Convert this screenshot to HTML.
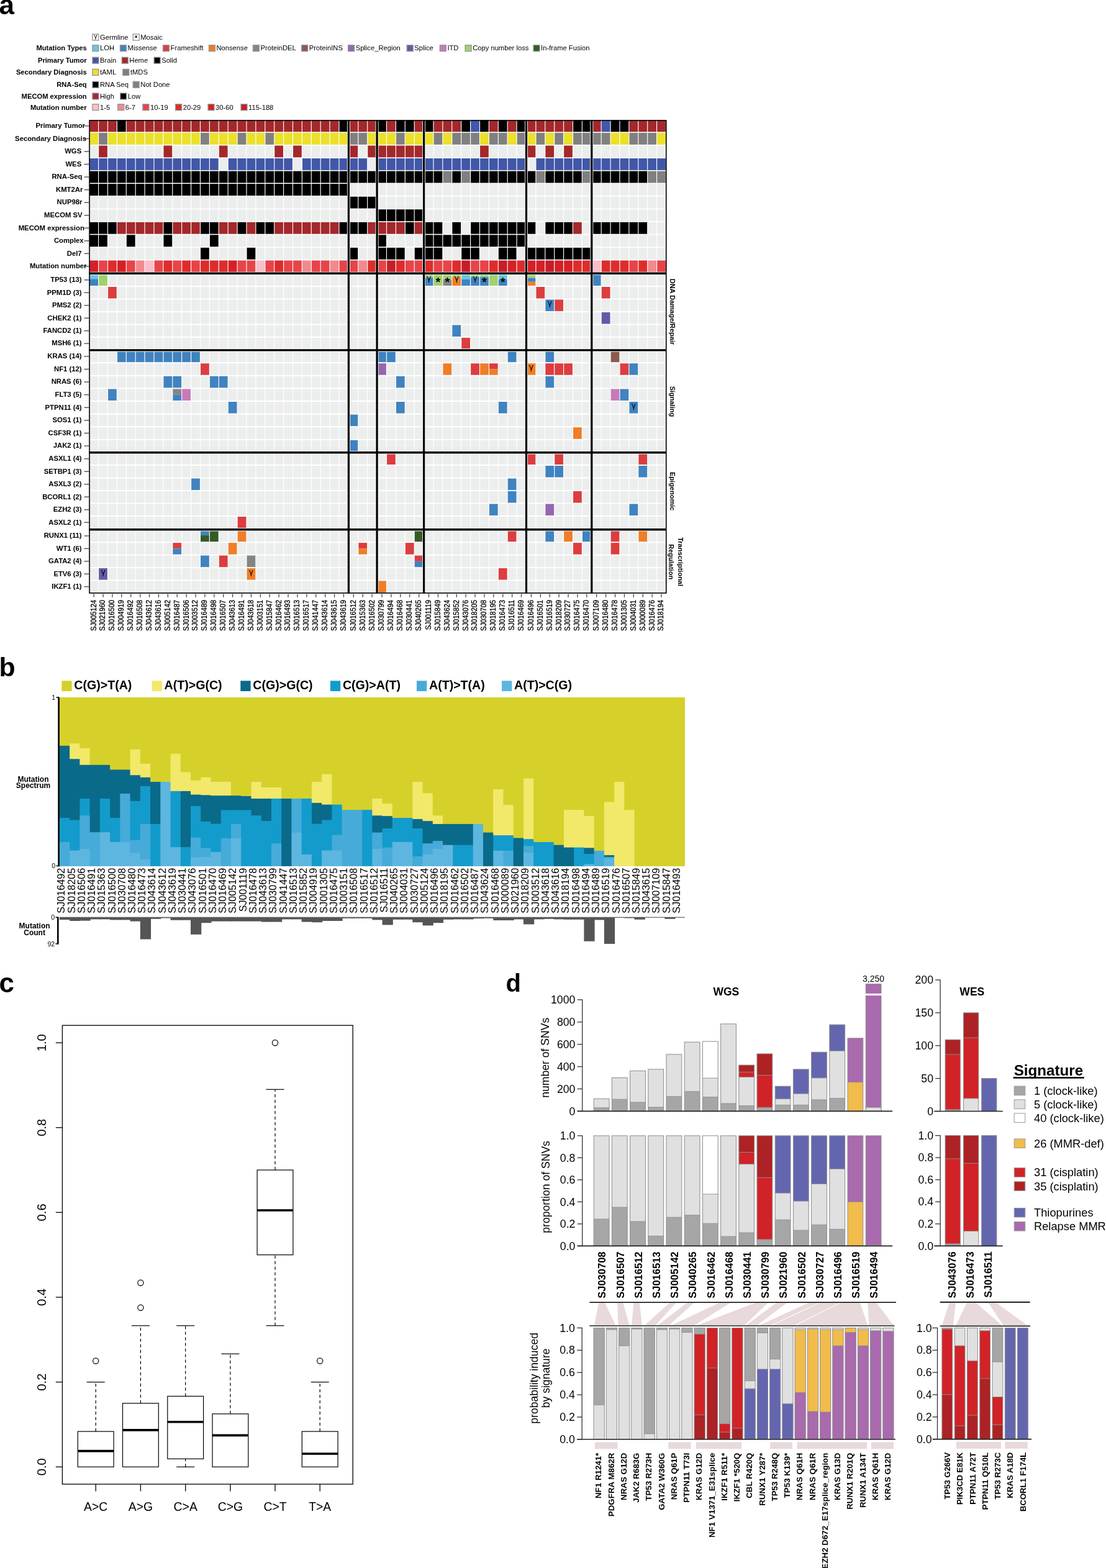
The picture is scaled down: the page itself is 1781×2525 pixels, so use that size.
<!DOCTYPE html>
<html><head><meta charset="utf-8"><title>Figure</title>
<style>html,body{margin:0;padding:0;background:#fff;} svg{display:block;}</style></head>
<body>
<svg width="1781" height="2525" viewBox="0 0 1781 2525" font-family="'Liberation Sans', Arial, Helvetica, sans-serif">
<rect width="1781" height="2525" fill="#fff"/>
<rect x="148.9" y="55" width="10.0" height="10.0" fill="#fff" stroke="#999" stroke-width="1.35"/><text x="153.9" y="62.2" font-size="10" text-anchor="middle" font-family="DejaVu Sans, sans-serif">γ</text>
<text x="161" y="63.8" font-size="11.2" text-anchor="start" font-family="'Liberation Sans', Arial, Helvetica, sans-serif">Germline</text>
<rect x="214.2" y="55" width="10.0" height="10.0" fill="#fff" stroke="#999" stroke-width="1.35"/><text x="219.2" y="65.4" font-size="11" font-weight="bold" text-anchor="middle" font-family="'Liberation Sans', Arial, Helvetica, sans-serif">*</text>
<text x="226.3" y="63.8" font-size="11.2" text-anchor="start" font-family="'Liberation Sans', Arial, Helvetica, sans-serif">Mosaic</text>
<text x="139.7" y="81.4" font-size="11.2" font-weight="bold" text-anchor="end" font-family="'Liberation Sans', Arial, Helvetica, sans-serif">Mutation Types</text>
<rect x="148.9" y="72.6" width="10.0" height="10.0" fill="#6ac5dc" stroke="#999" stroke-width="1.35"/>
<text x="161" y="81.4" font-size="11.2" text-anchor="start" font-family="'Liberation Sans', Arial, Helvetica, sans-serif">LOH</text>
<rect x="193.5" y="72.6" width="10.0" height="10.0" fill="#3f83c0" stroke="#999" stroke-width="1.35"/>
<text x="205.6" y="81.4" font-size="11.2" text-anchor="start" font-family="'Liberation Sans', Arial, Helvetica, sans-serif">Missense</text>
<rect x="262.5" y="72.6" width="10.0" height="10.0" fill="#dc3d3f" stroke="#999" stroke-width="1.35"/>
<text x="274.6" y="81.4" font-size="11.2" text-anchor="start" font-family="'Liberation Sans', Arial, Helvetica, sans-serif">Frameshift</text>
<rect x="336.4" y="72.6" width="10.0" height="10.0" fill="#ee7e27" stroke="#999" stroke-width="1.35"/>
<text x="348.5" y="81.4" font-size="11.2" text-anchor="start" font-family="'Liberation Sans', Arial, Helvetica, sans-serif">Nonsense</text>
<rect x="407.4" y="72.6" width="10.0" height="10.0" fill="#858585" stroke="#999" stroke-width="1.35"/>
<text x="419.5" y="81.4" font-size="11.2" text-anchor="start" font-family="'Liberation Sans', Arial, Helvetica, sans-serif">ProteinDEL</text>
<rect x="485.7" y="72.6" width="10.0" height="10.0" fill="#8c5a4e" stroke="#999" stroke-width="1.35"/>
<text x="497.8" y="81.4" font-size="11.2" text-anchor="start" font-family="'Liberation Sans', Arial, Helvetica, sans-serif">ProteinINS</text>
<rect x="560.6" y="72.6" width="10.0" height="10.0" fill="#9467b0" stroke="#999" stroke-width="1.35"/>
<text x="572.7" y="81.4" font-size="11.2" text-anchor="start" font-family="'Liberation Sans', Arial, Helvetica, sans-serif">Splice_Region</text>
<rect x="655.2" y="72.6" width="10.0" height="10.0" fill="#6459a8" stroke="#999" stroke-width="1.35"/>
<text x="667.3" y="81.4" font-size="11.2" text-anchor="start" font-family="'Liberation Sans', Arial, Helvetica, sans-serif">Splice</text>
<rect x="708.3" y="72.6" width="10.0" height="10.0" fill="#c87ab8" stroke="#999" stroke-width="1.35"/>
<text x="720.4" y="81.4" font-size="11.2" text-anchor="start" font-family="'Liberation Sans', Arial, Helvetica, sans-serif">ITD</text>
<rect x="749.1" y="72.6" width="10.0" height="10.0" fill="#a3d06b" stroke="#999" stroke-width="1.35"/>
<text x="761.2" y="81.4" font-size="11.2" text-anchor="start" font-family="'Liberation Sans', Arial, Helvetica, sans-serif">Copy number loss</text>
<rect x="859" y="72.6" width="10.0" height="10.0" fill="#355a26" stroke="#999" stroke-width="1.35"/>
<text x="871.1" y="81.4" font-size="11.2" text-anchor="start" font-family="'Liberation Sans', Arial, Helvetica, sans-serif">In-frame Fusion</text>
<text x="139.7" y="101" font-size="11.2" font-weight="bold" text-anchor="end" font-family="'Liberation Sans', Arial, Helvetica, sans-serif">Primary Tumor</text>
<rect x="148.9" y="92.2" width="10.0" height="10.0" fill="#4157a8" stroke="#999" stroke-width="1.35"/>
<text x="161" y="101" font-size="11.2" text-anchor="start" font-family="'Liberation Sans', Arial, Helvetica, sans-serif">Brain</text>
<rect x="196.2" y="92.2" width="10.0" height="10.0" fill="#a4282b" stroke="#999" stroke-width="1.35"/>
<text x="208.3" y="101" font-size="11.2" text-anchor="start" font-family="'Liberation Sans', Arial, Helvetica, sans-serif">Heme</text>
<rect x="248.1" y="92.2" width="10.0" height="10.0" fill="#000" stroke="#999" stroke-width="1.35"/>
<text x="260.2" y="101" font-size="11.2" text-anchor="start" font-family="'Liberation Sans', Arial, Helvetica, sans-serif">Solid</text>
<text x="139.7" y="120.2" font-size="11.2" font-weight="bold" text-anchor="end" font-family="'Liberation Sans', Arial, Helvetica, sans-serif">Secondary Diagnosis</text>
<rect x="148.9" y="111.4" width="10.0" height="10.0" fill="#ebe02a" stroke="#999" stroke-width="1.35"/>
<text x="161" y="120.2" font-size="11.2" text-anchor="start" font-family="'Liberation Sans', Arial, Helvetica, sans-serif">tAML</text>
<rect x="197.8" y="111.4" width="10.0" height="10.0" fill="#808080" stroke="#999" stroke-width="1.35"/>
<text x="209.9" y="120.2" font-size="11.2" text-anchor="start" font-family="'Liberation Sans', Arial, Helvetica, sans-serif">tMDS</text>
<text x="139.7" y="140.1" font-size="11.2" font-weight="bold" text-anchor="end" font-family="'Liberation Sans', Arial, Helvetica, sans-serif">RNA-Seq</text>
<rect x="148.9" y="131.3" width="10.0" height="10.0" fill="#000" stroke="#999" stroke-width="1.35"/>
<text x="161" y="140.1" font-size="11.2" text-anchor="start" font-family="'Liberation Sans', Arial, Helvetica, sans-serif">RNA Seq</text>
<rect x="214.2" y="131.3" width="10.0" height="10.0" fill="#808080" stroke="#999" stroke-width="1.35"/>
<text x="226.3" y="140.1" font-size="11.2" text-anchor="start" font-family="'Liberation Sans', Arial, Helvetica, sans-serif">Not Done</text>
<text x="139.7" y="158.8" font-size="11.2" font-weight="bold" text-anchor="end" font-family="'Liberation Sans', Arial, Helvetica, sans-serif">MECOM expression</text>
<rect x="148.9" y="150" width="10.0" height="10.0" fill="#a4282b" stroke="#999" stroke-width="1.35"/>
<text x="161" y="158.8" font-size="11.2" text-anchor="start" font-family="'Liberation Sans', Arial, Helvetica, sans-serif">High</text>
<rect x="193.7" y="150" width="10.0" height="10.0" fill="#000" stroke="#999" stroke-width="1.35"/>
<text x="205.8" y="158.8" font-size="11.2" text-anchor="start" font-family="'Liberation Sans', Arial, Helvetica, sans-serif">Low</text>
<text x="139.7" y="176.5" font-size="11.2" font-weight="bold" text-anchor="end" font-family="'Liberation Sans', Arial, Helvetica, sans-serif">Mutation number</text>
<rect x="148.9" y="167.7" width="10.0" height="10.0" fill="#f7bfca" stroke="#999" stroke-width="1.35"/>
<text x="161" y="176.5" font-size="11.2" text-anchor="start" font-family="'Liberation Sans', Arial, Helvetica, sans-serif">1-5</text>
<rect x="189.7" y="167.7" width="10.0" height="10.0" fill="#f08a8e" stroke="#999" stroke-width="1.35"/>
<text x="201.8" y="176.5" font-size="11.2" text-anchor="start" font-family="'Liberation Sans', Arial, Helvetica, sans-serif">6-7</text>
<rect x="229.9" y="167.7" width="10.0" height="10.0" fill="#e6444a" stroke="#999" stroke-width="1.35"/>
<text x="242" y="176.5" font-size="11.2" text-anchor="start" font-family="'Liberation Sans', Arial, Helvetica, sans-serif">10-19</text>
<rect x="282.6" y="167.7" width="10.0" height="10.0" fill="#dc2d2b" stroke="#999" stroke-width="1.35"/>
<text x="294.7" y="176.5" font-size="11.2" text-anchor="start" font-family="'Liberation Sans', Arial, Helvetica, sans-serif">20-29</text>
<rect x="335" y="167.7" width="10.0" height="10.0" fill="#d42027" stroke="#999" stroke-width="1.35"/>
<text x="347.1" y="176.5" font-size="11.2" text-anchor="start" font-family="'Liberation Sans', Arial, Helvetica, sans-serif">30-60</text>
<rect x="388" y="167.7" width="10.0" height="10.0" fill="#c41e2a" stroke="#999" stroke-width="1.35"/>
<text x="400.1" y="176.5" font-size="11.2" text-anchor="start" font-family="'Liberation Sans', Arial, Helvetica, sans-serif">115-188</text>
<rect x="143.3" y="193.4" width="929.6" height="761.8" fill="#fff"/>
<rect x="144.25" y="193.35" width="13.75" height="18.95" fill="#a4282b"/>
<rect x="159.15" y="193.35" width="13.75" height="18.95" fill="#a4282b"/>
<rect x="174.05" y="193.35" width="13.75" height="18.95" fill="#a4282b"/>
<rect x="188.95" y="193.35" width="13.75" height="18.95" fill="#000000"/>
<rect x="203.85" y="193.35" width="13.75" height="18.95" fill="#a4282b"/>
<rect x="218.75" y="193.35" width="13.75" height="18.95" fill="#a4282b"/>
<rect x="233.65" y="193.35" width="13.75" height="18.95" fill="#a4282b"/>
<rect x="248.55" y="193.35" width="13.75" height="18.95" fill="#a4282b"/>
<rect x="263.45" y="193.35" width="13.75" height="18.95" fill="#a4282b"/>
<rect x="278.35" y="193.35" width="13.75" height="18.95" fill="#a4282b"/>
<rect x="293.25" y="193.35" width="13.75" height="18.95" fill="#a4282b"/>
<rect x="308.15" y="193.35" width="13.75" height="18.95" fill="#a4282b"/>
<rect x="323.05" y="193.35" width="13.75" height="18.95" fill="#a4282b"/>
<rect x="337.95" y="193.35" width="13.75" height="18.95" fill="#a4282b"/>
<rect x="352.85" y="193.35" width="13.75" height="18.95" fill="#a4282b"/>
<rect x="367.75" y="193.35" width="13.75" height="18.95" fill="#a4282b"/>
<rect x="382.65" y="193.35" width="13.75" height="18.95" fill="#a4282b"/>
<rect x="397.55" y="193.35" width="13.75" height="18.95" fill="#a4282b"/>
<rect x="412.45" y="193.35" width="13.75" height="18.95" fill="#a4282b"/>
<rect x="427.35" y="193.35" width="13.75" height="18.95" fill="#a4282b"/>
<rect x="442.25" y="193.35" width="13.75" height="18.95" fill="#a4282b"/>
<rect x="457.15" y="193.35" width="13.75" height="18.95" fill="#a4282b"/>
<rect x="472.05" y="193.35" width="13.75" height="18.95" fill="#a4282b"/>
<rect x="486.95" y="193.35" width="13.75" height="18.95" fill="#a4282b"/>
<rect x="501.85" y="193.35" width="13.75" height="18.95" fill="#a4282b"/>
<rect x="516.75" y="193.35" width="13.75" height="18.95" fill="#a4282b"/>
<rect x="531.65" y="193.35" width="13.75" height="18.95" fill="#a4282b"/>
<rect x="546.55" y="193.35" width="13.75" height="18.95" fill="#000000"/>
<rect x="562.45" y="193.35" width="13.75" height="18.95" fill="#a4282b"/>
<rect x="577.35" y="193.35" width="13.75" height="18.95" fill="#a4282b"/>
<rect x="592.25" y="193.35" width="13.75" height="18.95" fill="#a4282b"/>
<rect x="608.15" y="193.35" width="13.75" height="18.95" fill="#000000"/>
<rect x="623.05" y="193.35" width="13.75" height="18.95" fill="#a4282b"/>
<rect x="637.95" y="193.35" width="13.75" height="18.95" fill="#000000"/>
<rect x="652.85" y="193.35" width="13.75" height="18.95" fill="#000000"/>
<rect x="667.75" y="193.35" width="13.75" height="18.95" fill="#a4282b"/>
<rect x="683.65" y="193.35" width="13.75" height="18.95" fill="#000000"/>
<rect x="698.55" y="193.35" width="13.75" height="18.95" fill="#a4282b"/>
<rect x="713.45" y="193.35" width="13.75" height="18.95" fill="#a4282b"/>
<rect x="728.35" y="193.35" width="13.75" height="18.95" fill="#a4282b"/>
<rect x="743.25" y="193.35" width="13.75" height="18.95" fill="#000000"/>
<rect x="758.15" y="193.35" width="13.75" height="18.95" fill="#4157a8"/>
<rect x="773.05" y="193.35" width="13.75" height="18.95" fill="#000000"/>
<rect x="787.95" y="193.35" width="13.75" height="18.95" fill="#a4282b"/>
<rect x="802.85" y="193.35" width="13.75" height="18.95" fill="#000000"/>
<rect x="817.75" y="193.35" width="13.75" height="18.95" fill="#a4282b"/>
<rect x="832.65" y="193.35" width="13.75" height="18.95" fill="#000000"/>
<rect x="848.55" y="193.35" width="13.75" height="18.95" fill="#a4282b"/>
<rect x="863.45" y="193.35" width="13.75" height="18.95" fill="#a4282b"/>
<rect x="878.35" y="193.35" width="13.75" height="18.95" fill="#a4282b"/>
<rect x="893.25" y="193.35" width="13.75" height="18.95" fill="#a4282b"/>
<rect x="908.15" y="193.35" width="13.75" height="18.95" fill="#a4282b"/>
<rect x="923.05" y="193.35" width="13.75" height="18.95" fill="#000000"/>
<rect x="937.95" y="193.35" width="13.75" height="18.95" fill="#000000"/>
<rect x="953.85" y="193.35" width="13.75" height="18.95" fill="#a4282b"/>
<rect x="968.75" y="193.35" width="13.75" height="18.95" fill="#4157a8"/>
<rect x="983.65" y="193.35" width="13.75" height="18.95" fill="#000000"/>
<rect x="998.55" y="193.35" width="13.75" height="18.95" fill="#000000"/>
<rect x="1013.45" y="193.35" width="13.75" height="18.95" fill="#a4282b"/>
<rect x="1028.35" y="193.35" width="13.75" height="18.95" fill="#a4282b"/>
<rect x="1043.25" y="193.35" width="13.75" height="18.95" fill="#a4282b"/>
<rect x="1058.15" y="193.35" width="13.75" height="18.95" fill="#a4282b"/>
<rect x="144.25" y="213.9" width="13.75" height="18.95" fill="#ebe02a"/>
<rect x="159.15" y="213.9" width="13.75" height="18.95" fill="#808080"/>
<rect x="174.05" y="213.9" width="13.75" height="18.95" fill="#ebe02a"/>
<rect x="188.95" y="213.9" width="13.75" height="18.95" fill="#ebe02a"/>
<rect x="203.85" y="213.9" width="13.75" height="18.95" fill="#ebe02a"/>
<rect x="218.75" y="213.9" width="13.75" height="18.95" fill="#ebe02a"/>
<rect x="233.65" y="213.9" width="13.75" height="18.95" fill="#ebe02a"/>
<rect x="248.55" y="213.9" width="13.75" height="18.95" fill="#ebe02a"/>
<rect x="263.45" y="213.9" width="13.75" height="18.95" fill="#ebe02a"/>
<rect x="278.35" y="213.9" width="13.75" height="18.95" fill="#ebe02a"/>
<rect x="293.25" y="213.9" width="13.75" height="18.95" fill="#ebe02a"/>
<rect x="308.15" y="213.9" width="13.75" height="18.95" fill="#ebe02a"/>
<rect x="323.05" y="213.9" width="13.75" height="18.95" fill="#808080"/>
<rect x="337.95" y="213.9" width="13.75" height="18.95" fill="#ebe02a"/>
<rect x="352.85" y="213.9" width="13.75" height="18.95" fill="#ebe02a"/>
<rect x="367.75" y="213.9" width="13.75" height="18.95" fill="#ebe02a"/>
<rect x="382.65" y="213.9" width="13.75" height="18.95" fill="#808080"/>
<rect x="397.55" y="213.9" width="13.75" height="18.95" fill="#ebe02a"/>
<rect x="412.45" y="213.9" width="13.75" height="18.95" fill="#ebe02a"/>
<rect x="427.35" y="213.9" width="13.75" height="18.95" fill="#808080"/>
<rect x="442.25" y="213.9" width="13.75" height="18.95" fill="#ebe02a"/>
<rect x="457.15" y="213.9" width="13.75" height="18.95" fill="#ebe02a"/>
<rect x="472.05" y="213.9" width="13.75" height="18.95" fill="#ebe02a"/>
<rect x="486.95" y="213.9" width="13.75" height="18.95" fill="#ebe02a"/>
<rect x="501.85" y="213.9" width="13.75" height="18.95" fill="#ebe02a"/>
<rect x="516.75" y="213.9" width="13.75" height="18.95" fill="#ebe02a"/>
<rect x="531.65" y="213.9" width="13.75" height="18.95" fill="#ebe02a"/>
<rect x="546.55" y="213.9" width="13.75" height="18.95" fill="#ebe02a"/>
<rect x="562.45" y="213.9" width="13.75" height="18.95" fill="#808080"/>
<rect x="577.35" y="213.9" width="13.75" height="18.95" fill="#808080"/>
<rect x="592.25" y="213.9" width="13.75" height="18.95" fill="#ebe02a"/>
<rect x="608.15" y="213.9" width="13.75" height="18.95" fill="#ebe02a"/>
<rect x="623.05" y="213.9" width="13.75" height="18.95" fill="#ebe02a"/>
<rect x="637.95" y="213.9" width="13.75" height="18.95" fill="#808080"/>
<rect x="652.85" y="213.9" width="13.75" height="18.95" fill="#ebe02a"/>
<rect x="667.75" y="213.9" width="13.75" height="18.95" fill="#ebe02a"/>
<rect x="683.65" y="213.9" width="13.75" height="18.95" fill="#ebe02a"/>
<rect x="698.55" y="213.9" width="13.75" height="18.95" fill="#808080"/>
<rect x="713.45" y="213.9" width="13.75" height="18.95" fill="#ebe02a"/>
<rect x="728.35" y="213.9" width="13.75" height="18.95" fill="#808080"/>
<rect x="743.25" y="213.9" width="13.75" height="18.95" fill="#808080"/>
<rect x="758.15" y="213.9" width="13.75" height="18.95" fill="#808080"/>
<rect x="773.05" y="213.9" width="13.75" height="18.95" fill="#ebe02a"/>
<rect x="787.95" y="213.9" width="13.75" height="18.95" fill="#808080"/>
<rect x="802.85" y="213.9" width="13.75" height="18.95" fill="#808080"/>
<rect x="817.75" y="213.9" width="13.75" height="18.95" fill="#ebe02a"/>
<rect x="832.65" y="213.9" width="13.75" height="18.95" fill="#808080"/>
<rect x="848.55" y="213.9" width="13.75" height="18.95" fill="#ebe02a"/>
<rect x="863.45" y="213.9" width="13.75" height="18.95" fill="#808080"/>
<rect x="878.35" y="213.9" width="13.75" height="18.95" fill="#ebe02a"/>
<rect x="893.25" y="213.9" width="13.75" height="18.95" fill="#808080"/>
<rect x="908.15" y="213.9" width="13.75" height="18.95" fill="#ebe02a"/>
<rect x="923.05" y="213.9" width="13.75" height="18.95" fill="#808080"/>
<rect x="937.95" y="213.9" width="13.75" height="18.95" fill="#808080"/>
<rect x="953.85" y="213.9" width="13.75" height="18.95" fill="#808080"/>
<rect x="968.75" y="213.9" width="13.75" height="18.95" fill="#808080"/>
<rect x="983.65" y="213.9" width="13.75" height="18.95" fill="#ebe02a"/>
<rect x="998.55" y="213.9" width="13.75" height="18.95" fill="#ebe02a"/>
<rect x="1013.45" y="213.9" width="13.75" height="18.95" fill="#808080"/>
<rect x="1028.35" y="213.9" width="13.75" height="18.95" fill="#808080"/>
<rect x="1043.25" y="213.9" width="13.75" height="18.95" fill="#808080"/>
<rect x="1058.15" y="213.9" width="13.75" height="18.95" fill="#ebe02a"/>
<rect x="144.25" y="234.45" width="13.75" height="18.95" fill="#eceeed"/>
<rect x="159.15" y="234.45" width="13.75" height="18.95" fill="#a4282b"/>
<rect x="174.05" y="234.45" width="13.75" height="18.95" fill="#eceeed"/>
<rect x="188.95" y="234.45" width="13.75" height="18.95" fill="#eceeed"/>
<rect x="203.85" y="234.45" width="13.75" height="18.95" fill="#eceeed"/>
<rect x="218.75" y="234.45" width="13.75" height="18.95" fill="#eceeed"/>
<rect x="233.65" y="234.45" width="13.75" height="18.95" fill="#eceeed"/>
<rect x="248.55" y="234.45" width="13.75" height="18.95" fill="#eceeed"/>
<rect x="263.45" y="234.45" width="13.75" height="18.95" fill="#a4282b"/>
<rect x="278.35" y="234.45" width="13.75" height="18.95" fill="#eceeed"/>
<rect x="293.25" y="234.45" width="13.75" height="18.95" fill="#eceeed"/>
<rect x="308.15" y="234.45" width="13.75" height="18.95" fill="#eceeed"/>
<rect x="323.05" y="234.45" width="13.75" height="18.95" fill="#eceeed"/>
<rect x="337.95" y="234.45" width="13.75" height="18.95" fill="#eceeed"/>
<rect x="352.85" y="234.45" width="13.75" height="18.95" fill="#a4282b"/>
<rect x="367.75" y="234.45" width="13.75" height="18.95" fill="#eceeed"/>
<rect x="382.65" y="234.45" width="13.75" height="18.95" fill="#eceeed"/>
<rect x="397.55" y="234.45" width="13.75" height="18.95" fill="#eceeed"/>
<rect x="412.45" y="234.45" width="13.75" height="18.95" fill="#eceeed"/>
<rect x="427.35" y="234.45" width="13.75" height="18.95" fill="#eceeed"/>
<rect x="442.25" y="234.45" width="13.75" height="18.95" fill="#a4282b"/>
<rect x="457.15" y="234.45" width="13.75" height="18.95" fill="#eceeed"/>
<rect x="472.05" y="234.45" width="13.75" height="18.95" fill="#a4282b"/>
<rect x="486.95" y="234.45" width="13.75" height="18.95" fill="#eceeed"/>
<rect x="501.85" y="234.45" width="13.75" height="18.95" fill="#eceeed"/>
<rect x="516.75" y="234.45" width="13.75" height="18.95" fill="#eceeed"/>
<rect x="531.65" y="234.45" width="13.75" height="18.95" fill="#eceeed"/>
<rect x="546.55" y="234.45" width="13.75" height="18.95" fill="#eceeed"/>
<rect x="562.45" y="234.45" width="13.75" height="18.95" fill="#a4282b"/>
<rect x="577.35" y="234.45" width="13.75" height="18.95" fill="#eceeed"/>
<rect x="592.25" y="234.45" width="13.75" height="18.95" fill="#a4282b"/>
<rect x="608.15" y="234.45" width="13.75" height="18.95" fill="#a4282b"/>
<rect x="623.05" y="234.45" width="13.75" height="18.95" fill="#a4282b"/>
<rect x="637.95" y="234.45" width="13.75" height="18.95" fill="#a4282b"/>
<rect x="652.85" y="234.45" width="13.75" height="18.95" fill="#a4282b"/>
<rect x="667.75" y="234.45" width="13.75" height="18.95" fill="#a4282b"/>
<rect x="683.65" y="234.45" width="13.75" height="18.95" fill="#eceeed"/>
<rect x="698.55" y="234.45" width="13.75" height="18.95" fill="#eceeed"/>
<rect x="713.45" y="234.45" width="13.75" height="18.95" fill="#eceeed"/>
<rect x="728.35" y="234.45" width="13.75" height="18.95" fill="#eceeed"/>
<rect x="743.25" y="234.45" width="13.75" height="18.95" fill="#eceeed"/>
<rect x="758.15" y="234.45" width="13.75" height="18.95" fill="#eceeed"/>
<rect x="773.05" y="234.45" width="13.75" height="18.95" fill="#a4282b"/>
<rect x="787.95" y="234.45" width="13.75" height="18.95" fill="#eceeed"/>
<rect x="802.85" y="234.45" width="13.75" height="18.95" fill="#eceeed"/>
<rect x="817.75" y="234.45" width="13.75" height="18.95" fill="#eceeed"/>
<rect x="832.65" y="234.45" width="13.75" height="18.95" fill="#eceeed"/>
<rect x="848.55" y="234.45" width="13.75" height="18.95" fill="#a4282b"/>
<rect x="863.45" y="234.45" width="13.75" height="18.95" fill="#eceeed"/>
<rect x="878.35" y="234.45" width="13.75" height="18.95" fill="#a4282b"/>
<rect x="893.25" y="234.45" width="13.75" height="18.95" fill="#eceeed"/>
<rect x="908.15" y="234.45" width="13.75" height="18.95" fill="#a4282b"/>
<rect x="923.05" y="234.45" width="13.75" height="18.95" fill="#eceeed"/>
<rect x="937.95" y="234.45" width="13.75" height="18.95" fill="#eceeed"/>
<rect x="953.85" y="234.45" width="13.75" height="18.95" fill="#eceeed"/>
<rect x="968.75" y="234.45" width="13.75" height="18.95" fill="#eceeed"/>
<rect x="983.65" y="234.45" width="13.75" height="18.95" fill="#eceeed"/>
<rect x="998.55" y="234.45" width="13.75" height="18.95" fill="#eceeed"/>
<rect x="1013.45" y="234.45" width="13.75" height="18.95" fill="#eceeed"/>
<rect x="1028.35" y="234.45" width="13.75" height="18.95" fill="#eceeed"/>
<rect x="1043.25" y="234.45" width="13.75" height="18.95" fill="#eceeed"/>
<rect x="1058.15" y="234.45" width="13.75" height="18.95" fill="#eceeed"/>
<rect x="144.25" y="255" width="13.75" height="18.95" fill="#4157a8"/>
<rect x="159.15" y="255" width="13.75" height="18.95" fill="#4157a8"/>
<rect x="174.05" y="255" width="13.75" height="18.95" fill="#4157a8"/>
<rect x="188.95" y="255" width="13.75" height="18.95" fill="#4157a8"/>
<rect x="203.85" y="255" width="13.75" height="18.95" fill="#4157a8"/>
<rect x="218.75" y="255" width="13.75" height="18.95" fill="#4157a8"/>
<rect x="233.65" y="255" width="13.75" height="18.95" fill="#4157a8"/>
<rect x="248.55" y="255" width="13.75" height="18.95" fill="#4157a8"/>
<rect x="263.45" y="255" width="13.75" height="18.95" fill="#4157a8"/>
<rect x="278.35" y="255" width="13.75" height="18.95" fill="#4157a8"/>
<rect x="293.25" y="255" width="13.75" height="18.95" fill="#4157a8"/>
<rect x="308.15" y="255" width="13.75" height="18.95" fill="#4157a8"/>
<rect x="323.05" y="255" width="13.75" height="18.95" fill="#4157a8"/>
<rect x="337.95" y="255" width="13.75" height="18.95" fill="#4157a8"/>
<rect x="352.85" y="255" width="13.75" height="18.95" fill="#eceeed"/>
<rect x="367.75" y="255" width="13.75" height="18.95" fill="#4157a8"/>
<rect x="382.65" y="255" width="13.75" height="18.95" fill="#4157a8"/>
<rect x="397.55" y="255" width="13.75" height="18.95" fill="#4157a8"/>
<rect x="412.45" y="255" width="13.75" height="18.95" fill="#4157a8"/>
<rect x="427.35" y="255" width="13.75" height="18.95" fill="#4157a8"/>
<rect x="442.25" y="255" width="13.75" height="18.95" fill="#4157a8"/>
<rect x="457.15" y="255" width="13.75" height="18.95" fill="#4157a8"/>
<rect x="472.05" y="255" width="13.75" height="18.95" fill="#eceeed"/>
<rect x="486.95" y="255" width="13.75" height="18.95" fill="#4157a8"/>
<rect x="501.85" y="255" width="13.75" height="18.95" fill="#4157a8"/>
<rect x="516.75" y="255" width="13.75" height="18.95" fill="#4157a8"/>
<rect x="531.65" y="255" width="13.75" height="18.95" fill="#4157a8"/>
<rect x="546.55" y="255" width="13.75" height="18.95" fill="#4157a8"/>
<rect x="562.45" y="255" width="13.75" height="18.95" fill="#4157a8"/>
<rect x="577.35" y="255" width="13.75" height="18.95" fill="#4157a8"/>
<rect x="592.25" y="255" width="13.75" height="18.95" fill="#eceeed"/>
<rect x="608.15" y="255" width="13.75" height="18.95" fill="#4157a8"/>
<rect x="623.05" y="255" width="13.75" height="18.95" fill="#4157a8"/>
<rect x="637.95" y="255" width="13.75" height="18.95" fill="#4157a8"/>
<rect x="652.85" y="255" width="13.75" height="18.95" fill="#4157a8"/>
<rect x="667.75" y="255" width="13.75" height="18.95" fill="#4157a8"/>
<rect x="683.65" y="255" width="13.75" height="18.95" fill="#4157a8"/>
<rect x="698.55" y="255" width="13.75" height="18.95" fill="#4157a8"/>
<rect x="713.45" y="255" width="13.75" height="18.95" fill="#4157a8"/>
<rect x="728.35" y="255" width="13.75" height="18.95" fill="#4157a8"/>
<rect x="743.25" y="255" width="13.75" height="18.95" fill="#4157a8"/>
<rect x="758.15" y="255" width="13.75" height="18.95" fill="#4157a8"/>
<rect x="773.05" y="255" width="13.75" height="18.95" fill="#4157a8"/>
<rect x="787.95" y="255" width="13.75" height="18.95" fill="#4157a8"/>
<rect x="802.85" y="255" width="13.75" height="18.95" fill="#4157a8"/>
<rect x="817.75" y="255" width="13.75" height="18.95" fill="#4157a8"/>
<rect x="832.65" y="255" width="13.75" height="18.95" fill="#4157a8"/>
<rect x="848.55" y="255" width="13.75" height="18.95" fill="#eceeed"/>
<rect x="863.45" y="255" width="13.75" height="18.95" fill="#4157a8"/>
<rect x="878.35" y="255" width="13.75" height="18.95" fill="#4157a8"/>
<rect x="893.25" y="255" width="13.75" height="18.95" fill="#4157a8"/>
<rect x="908.15" y="255" width="13.75" height="18.95" fill="#4157a8"/>
<rect x="923.05" y="255" width="13.75" height="18.95" fill="#4157a8"/>
<rect x="937.95" y="255" width="13.75" height="18.95" fill="#4157a8"/>
<rect x="953.85" y="255" width="13.75" height="18.95" fill="#4157a8"/>
<rect x="968.75" y="255" width="13.75" height="18.95" fill="#4157a8"/>
<rect x="983.65" y="255" width="13.75" height="18.95" fill="#4157a8"/>
<rect x="998.55" y="255" width="13.75" height="18.95" fill="#4157a8"/>
<rect x="1013.45" y="255" width="13.75" height="18.95" fill="#4157a8"/>
<rect x="1028.35" y="255" width="13.75" height="18.95" fill="#4157a8"/>
<rect x="1043.25" y="255" width="13.75" height="18.95" fill="#4157a8"/>
<rect x="1058.15" y="255" width="13.75" height="18.95" fill="#4157a8"/>
<rect x="144.25" y="275.55" width="13.75" height="18.95" fill="#000"/>
<rect x="159.15" y="275.55" width="13.75" height="18.95" fill="#000"/>
<rect x="174.05" y="275.55" width="13.75" height="18.95" fill="#000"/>
<rect x="188.95" y="275.55" width="13.75" height="18.95" fill="#000"/>
<rect x="203.85" y="275.55" width="13.75" height="18.95" fill="#000"/>
<rect x="218.75" y="275.55" width="13.75" height="18.95" fill="#000"/>
<rect x="233.65" y="275.55" width="13.75" height="18.95" fill="#000"/>
<rect x="248.55" y="275.55" width="13.75" height="18.95" fill="#000"/>
<rect x="263.45" y="275.55" width="13.75" height="18.95" fill="#000"/>
<rect x="278.35" y="275.55" width="13.75" height="18.95" fill="#000"/>
<rect x="293.25" y="275.55" width="13.75" height="18.95" fill="#000"/>
<rect x="308.15" y="275.55" width="13.75" height="18.95" fill="#000"/>
<rect x="323.05" y="275.55" width="13.75" height="18.95" fill="#000"/>
<rect x="337.95" y="275.55" width="13.75" height="18.95" fill="#000"/>
<rect x="352.85" y="275.55" width="13.75" height="18.95" fill="#000"/>
<rect x="367.75" y="275.55" width="13.75" height="18.95" fill="#000"/>
<rect x="382.65" y="275.55" width="13.75" height="18.95" fill="#000"/>
<rect x="397.55" y="275.55" width="13.75" height="18.95" fill="#000"/>
<rect x="412.45" y="275.55" width="13.75" height="18.95" fill="#000"/>
<rect x="427.35" y="275.55" width="13.75" height="18.95" fill="#000"/>
<rect x="442.25" y="275.55" width="13.75" height="18.95" fill="#000"/>
<rect x="457.15" y="275.55" width="13.75" height="18.95" fill="#000"/>
<rect x="472.05" y="275.55" width="13.75" height="18.95" fill="#000"/>
<rect x="486.95" y="275.55" width="13.75" height="18.95" fill="#000"/>
<rect x="501.85" y="275.55" width="13.75" height="18.95" fill="#000"/>
<rect x="516.75" y="275.55" width="13.75" height="18.95" fill="#000"/>
<rect x="531.65" y="275.55" width="13.75" height="18.95" fill="#000"/>
<rect x="546.55" y="275.55" width="13.75" height="18.95" fill="#000"/>
<rect x="562.45" y="275.55" width="13.75" height="18.95" fill="#000"/>
<rect x="577.35" y="275.55" width="13.75" height="18.95" fill="#000"/>
<rect x="592.25" y="275.55" width="13.75" height="18.95" fill="#000"/>
<rect x="608.15" y="275.55" width="13.75" height="18.95" fill="#000"/>
<rect x="623.05" y="275.55" width="13.75" height="18.95" fill="#000"/>
<rect x="637.95" y="275.55" width="13.75" height="18.95" fill="#000"/>
<rect x="652.85" y="275.55" width="13.75" height="18.95" fill="#000"/>
<rect x="667.75" y="275.55" width="13.75" height="18.95" fill="#000"/>
<rect x="683.65" y="275.55" width="13.75" height="18.95" fill="#000"/>
<rect x="698.55" y="275.55" width="13.75" height="18.95" fill="#000"/>
<rect x="713.45" y="275.55" width="13.75" height="18.95" fill="#808080"/>
<rect x="728.35" y="275.55" width="13.75" height="18.95" fill="#000"/>
<rect x="743.25" y="275.55" width="13.75" height="18.95" fill="#808080"/>
<rect x="758.15" y="275.55" width="13.75" height="18.95" fill="#000"/>
<rect x="773.05" y="275.55" width="13.75" height="18.95" fill="#000"/>
<rect x="787.95" y="275.55" width="13.75" height="18.95" fill="#000"/>
<rect x="802.85" y="275.55" width="13.75" height="18.95" fill="#000"/>
<rect x="817.75" y="275.55" width="13.75" height="18.95" fill="#000"/>
<rect x="832.65" y="275.55" width="13.75" height="18.95" fill="#000"/>
<rect x="848.55" y="275.55" width="13.75" height="18.95" fill="#000"/>
<rect x="863.45" y="275.55" width="13.75" height="18.95" fill="#808080"/>
<rect x="878.35" y="275.55" width="13.75" height="18.95" fill="#000"/>
<rect x="893.25" y="275.55" width="13.75" height="18.95" fill="#000"/>
<rect x="908.15" y="275.55" width="13.75" height="18.95" fill="#000"/>
<rect x="923.05" y="275.55" width="13.75" height="18.95" fill="#000"/>
<rect x="937.95" y="275.55" width="13.75" height="18.95" fill="#808080"/>
<rect x="953.85" y="275.55" width="13.75" height="18.95" fill="#000"/>
<rect x="968.75" y="275.55" width="13.75" height="18.95" fill="#000"/>
<rect x="983.65" y="275.55" width="13.75" height="18.95" fill="#000"/>
<rect x="998.55" y="275.55" width="13.75" height="18.95" fill="#000"/>
<rect x="1013.45" y="275.55" width="13.75" height="18.95" fill="#000"/>
<rect x="1028.35" y="275.55" width="13.75" height="18.95" fill="#000"/>
<rect x="1043.25" y="275.55" width="13.75" height="18.95" fill="#808080"/>
<rect x="1058.15" y="275.55" width="13.75" height="18.95" fill="#808080"/>
<rect x="144.25" y="296.1" width="13.75" height="18.95" fill="#000"/>
<rect x="159.15" y="296.1" width="13.75" height="18.95" fill="#000"/>
<rect x="174.05" y="296.1" width="13.75" height="18.95" fill="#000"/>
<rect x="188.95" y="296.1" width="13.75" height="18.95" fill="#000"/>
<rect x="203.85" y="296.1" width="13.75" height="18.95" fill="#000"/>
<rect x="218.75" y="296.1" width="13.75" height="18.95" fill="#000"/>
<rect x="233.65" y="296.1" width="13.75" height="18.95" fill="#000"/>
<rect x="248.55" y="296.1" width="13.75" height="18.95" fill="#000"/>
<rect x="263.45" y="296.1" width="13.75" height="18.95" fill="#000"/>
<rect x="278.35" y="296.1" width="13.75" height="18.95" fill="#000"/>
<rect x="293.25" y="296.1" width="13.75" height="18.95" fill="#000"/>
<rect x="308.15" y="296.1" width="13.75" height="18.95" fill="#000"/>
<rect x="323.05" y="296.1" width="13.75" height="18.95" fill="#000"/>
<rect x="337.95" y="296.1" width="13.75" height="18.95" fill="#000"/>
<rect x="352.85" y="296.1" width="13.75" height="18.95" fill="#000"/>
<rect x="367.75" y="296.1" width="13.75" height="18.95" fill="#000"/>
<rect x="382.65" y="296.1" width="13.75" height="18.95" fill="#000"/>
<rect x="397.55" y="296.1" width="13.75" height="18.95" fill="#000"/>
<rect x="412.45" y="296.1" width="13.75" height="18.95" fill="#000"/>
<rect x="427.35" y="296.1" width="13.75" height="18.95" fill="#000"/>
<rect x="442.25" y="296.1" width="13.75" height="18.95" fill="#000"/>
<rect x="457.15" y="296.1" width="13.75" height="18.95" fill="#000"/>
<rect x="472.05" y="296.1" width="13.75" height="18.95" fill="#000"/>
<rect x="486.95" y="296.1" width="13.75" height="18.95" fill="#000"/>
<rect x="501.85" y="296.1" width="13.75" height="18.95" fill="#000"/>
<rect x="516.75" y="296.1" width="13.75" height="18.95" fill="#000"/>
<rect x="531.65" y="296.1" width="13.75" height="18.95" fill="#000"/>
<rect x="546.55" y="296.1" width="13.75" height="18.95" fill="#000"/>
<rect x="562.45" y="296.1" width="13.75" height="18.95" fill="#eceeed"/>
<rect x="577.35" y="296.1" width="13.75" height="18.95" fill="#eceeed"/>
<rect x="592.25" y="296.1" width="13.75" height="18.95" fill="#eceeed"/>
<rect x="608.15" y="296.1" width="13.75" height="18.95" fill="#eceeed"/>
<rect x="623.05" y="296.1" width="13.75" height="18.95" fill="#eceeed"/>
<rect x="637.95" y="296.1" width="13.75" height="18.95" fill="#eceeed"/>
<rect x="652.85" y="296.1" width="13.75" height="18.95" fill="#eceeed"/>
<rect x="667.75" y="296.1" width="13.75" height="18.95" fill="#eceeed"/>
<rect x="683.65" y="296.1" width="13.75" height="18.95" fill="#eceeed"/>
<rect x="698.55" y="296.1" width="13.75" height="18.95" fill="#eceeed"/>
<rect x="713.45" y="296.1" width="13.75" height="18.95" fill="#eceeed"/>
<rect x="728.35" y="296.1" width="13.75" height="18.95" fill="#eceeed"/>
<rect x="743.25" y="296.1" width="13.75" height="18.95" fill="#eceeed"/>
<rect x="758.15" y="296.1" width="13.75" height="18.95" fill="#eceeed"/>
<rect x="773.05" y="296.1" width="13.75" height="18.95" fill="#eceeed"/>
<rect x="787.95" y="296.1" width="13.75" height="18.95" fill="#eceeed"/>
<rect x="802.85" y="296.1" width="13.75" height="18.95" fill="#eceeed"/>
<rect x="817.75" y="296.1" width="13.75" height="18.95" fill="#eceeed"/>
<rect x="832.65" y="296.1" width="13.75" height="18.95" fill="#eceeed"/>
<rect x="848.55" y="296.1" width="13.75" height="18.95" fill="#eceeed"/>
<rect x="863.45" y="296.1" width="13.75" height="18.95" fill="#eceeed"/>
<rect x="878.35" y="296.1" width="13.75" height="18.95" fill="#eceeed"/>
<rect x="893.25" y="296.1" width="13.75" height="18.95" fill="#eceeed"/>
<rect x="908.15" y="296.1" width="13.75" height="18.95" fill="#eceeed"/>
<rect x="923.05" y="296.1" width="13.75" height="18.95" fill="#eceeed"/>
<rect x="937.95" y="296.1" width="13.75" height="18.95" fill="#eceeed"/>
<rect x="953.85" y="296.1" width="13.75" height="18.95" fill="#eceeed"/>
<rect x="968.75" y="296.1" width="13.75" height="18.95" fill="#eceeed"/>
<rect x="983.65" y="296.1" width="13.75" height="18.95" fill="#eceeed"/>
<rect x="998.55" y="296.1" width="13.75" height="18.95" fill="#eceeed"/>
<rect x="1013.45" y="296.1" width="13.75" height="18.95" fill="#eceeed"/>
<rect x="1028.35" y="296.1" width="13.75" height="18.95" fill="#eceeed"/>
<rect x="1043.25" y="296.1" width="13.75" height="18.95" fill="#eceeed"/>
<rect x="1058.15" y="296.1" width="13.75" height="18.95" fill="#eceeed"/>
<rect x="144.25" y="316.65" width="13.75" height="18.95" fill="#eceeed"/>
<rect x="159.15" y="316.65" width="13.75" height="18.95" fill="#eceeed"/>
<rect x="174.05" y="316.65" width="13.75" height="18.95" fill="#eceeed"/>
<rect x="188.95" y="316.65" width="13.75" height="18.95" fill="#eceeed"/>
<rect x="203.85" y="316.65" width="13.75" height="18.95" fill="#eceeed"/>
<rect x="218.75" y="316.65" width="13.75" height="18.95" fill="#eceeed"/>
<rect x="233.65" y="316.65" width="13.75" height="18.95" fill="#eceeed"/>
<rect x="248.55" y="316.65" width="13.75" height="18.95" fill="#eceeed"/>
<rect x="263.45" y="316.65" width="13.75" height="18.95" fill="#eceeed"/>
<rect x="278.35" y="316.65" width="13.75" height="18.95" fill="#eceeed"/>
<rect x="293.25" y="316.65" width="13.75" height="18.95" fill="#eceeed"/>
<rect x="308.15" y="316.65" width="13.75" height="18.95" fill="#eceeed"/>
<rect x="323.05" y="316.65" width="13.75" height="18.95" fill="#eceeed"/>
<rect x="337.95" y="316.65" width="13.75" height="18.95" fill="#eceeed"/>
<rect x="352.85" y="316.65" width="13.75" height="18.95" fill="#eceeed"/>
<rect x="367.75" y="316.65" width="13.75" height="18.95" fill="#eceeed"/>
<rect x="382.65" y="316.65" width="13.75" height="18.95" fill="#eceeed"/>
<rect x="397.55" y="316.65" width="13.75" height="18.95" fill="#eceeed"/>
<rect x="412.45" y="316.65" width="13.75" height="18.95" fill="#eceeed"/>
<rect x="427.35" y="316.65" width="13.75" height="18.95" fill="#eceeed"/>
<rect x="442.25" y="316.65" width="13.75" height="18.95" fill="#eceeed"/>
<rect x="457.15" y="316.65" width="13.75" height="18.95" fill="#eceeed"/>
<rect x="472.05" y="316.65" width="13.75" height="18.95" fill="#eceeed"/>
<rect x="486.95" y="316.65" width="13.75" height="18.95" fill="#eceeed"/>
<rect x="501.85" y="316.65" width="13.75" height="18.95" fill="#eceeed"/>
<rect x="516.75" y="316.65" width="13.75" height="18.95" fill="#eceeed"/>
<rect x="531.65" y="316.65" width="13.75" height="18.95" fill="#eceeed"/>
<rect x="546.55" y="316.65" width="13.75" height="18.95" fill="#eceeed"/>
<rect x="562.45" y="316.65" width="13.75" height="18.95" fill="#000"/>
<rect x="577.35" y="316.65" width="13.75" height="18.95" fill="#000"/>
<rect x="592.25" y="316.65" width="13.75" height="18.95" fill="#000"/>
<rect x="608.15" y="316.65" width="13.75" height="18.95" fill="#eceeed"/>
<rect x="623.05" y="316.65" width="13.75" height="18.95" fill="#eceeed"/>
<rect x="637.95" y="316.65" width="13.75" height="18.95" fill="#eceeed"/>
<rect x="652.85" y="316.65" width="13.75" height="18.95" fill="#eceeed"/>
<rect x="667.75" y="316.65" width="13.75" height="18.95" fill="#eceeed"/>
<rect x="683.65" y="316.65" width="13.75" height="18.95" fill="#eceeed"/>
<rect x="698.55" y="316.65" width="13.75" height="18.95" fill="#eceeed"/>
<rect x="713.45" y="316.65" width="13.75" height="18.95" fill="#eceeed"/>
<rect x="728.35" y="316.65" width="13.75" height="18.95" fill="#eceeed"/>
<rect x="743.25" y="316.65" width="13.75" height="18.95" fill="#eceeed"/>
<rect x="758.15" y="316.65" width="13.75" height="18.95" fill="#eceeed"/>
<rect x="773.05" y="316.65" width="13.75" height="18.95" fill="#eceeed"/>
<rect x="787.95" y="316.65" width="13.75" height="18.95" fill="#eceeed"/>
<rect x="802.85" y="316.65" width="13.75" height="18.95" fill="#eceeed"/>
<rect x="817.75" y="316.65" width="13.75" height="18.95" fill="#eceeed"/>
<rect x="832.65" y="316.65" width="13.75" height="18.95" fill="#eceeed"/>
<rect x="848.55" y="316.65" width="13.75" height="18.95" fill="#eceeed"/>
<rect x="863.45" y="316.65" width="13.75" height="18.95" fill="#eceeed"/>
<rect x="878.35" y="316.65" width="13.75" height="18.95" fill="#eceeed"/>
<rect x="893.25" y="316.65" width="13.75" height="18.95" fill="#eceeed"/>
<rect x="908.15" y="316.65" width="13.75" height="18.95" fill="#eceeed"/>
<rect x="923.05" y="316.65" width="13.75" height="18.95" fill="#eceeed"/>
<rect x="937.95" y="316.65" width="13.75" height="18.95" fill="#eceeed"/>
<rect x="953.85" y="316.65" width="13.75" height="18.95" fill="#eceeed"/>
<rect x="968.75" y="316.65" width="13.75" height="18.95" fill="#eceeed"/>
<rect x="983.65" y="316.65" width="13.75" height="18.95" fill="#eceeed"/>
<rect x="998.55" y="316.65" width="13.75" height="18.95" fill="#eceeed"/>
<rect x="1013.45" y="316.65" width="13.75" height="18.95" fill="#eceeed"/>
<rect x="1028.35" y="316.65" width="13.75" height="18.95" fill="#eceeed"/>
<rect x="1043.25" y="316.65" width="13.75" height="18.95" fill="#eceeed"/>
<rect x="1058.15" y="316.65" width="13.75" height="18.95" fill="#eceeed"/>
<rect x="144.25" y="337.2" width="13.75" height="18.95" fill="#eceeed"/>
<rect x="159.15" y="337.2" width="13.75" height="18.95" fill="#eceeed"/>
<rect x="174.05" y="337.2" width="13.75" height="18.95" fill="#eceeed"/>
<rect x="188.95" y="337.2" width="13.75" height="18.95" fill="#eceeed"/>
<rect x="203.85" y="337.2" width="13.75" height="18.95" fill="#eceeed"/>
<rect x="218.75" y="337.2" width="13.75" height="18.95" fill="#eceeed"/>
<rect x="233.65" y="337.2" width="13.75" height="18.95" fill="#eceeed"/>
<rect x="248.55" y="337.2" width="13.75" height="18.95" fill="#eceeed"/>
<rect x="263.45" y="337.2" width="13.75" height="18.95" fill="#eceeed"/>
<rect x="278.35" y="337.2" width="13.75" height="18.95" fill="#eceeed"/>
<rect x="293.25" y="337.2" width="13.75" height="18.95" fill="#eceeed"/>
<rect x="308.15" y="337.2" width="13.75" height="18.95" fill="#eceeed"/>
<rect x="323.05" y="337.2" width="13.75" height="18.95" fill="#eceeed"/>
<rect x="337.95" y="337.2" width="13.75" height="18.95" fill="#eceeed"/>
<rect x="352.85" y="337.2" width="13.75" height="18.95" fill="#eceeed"/>
<rect x="367.75" y="337.2" width="13.75" height="18.95" fill="#eceeed"/>
<rect x="382.65" y="337.2" width="13.75" height="18.95" fill="#eceeed"/>
<rect x="397.55" y="337.2" width="13.75" height="18.95" fill="#eceeed"/>
<rect x="412.45" y="337.2" width="13.75" height="18.95" fill="#eceeed"/>
<rect x="427.35" y="337.2" width="13.75" height="18.95" fill="#eceeed"/>
<rect x="442.25" y="337.2" width="13.75" height="18.95" fill="#eceeed"/>
<rect x="457.15" y="337.2" width="13.75" height="18.95" fill="#eceeed"/>
<rect x="472.05" y="337.2" width="13.75" height="18.95" fill="#eceeed"/>
<rect x="486.95" y="337.2" width="13.75" height="18.95" fill="#eceeed"/>
<rect x="501.85" y="337.2" width="13.75" height="18.95" fill="#eceeed"/>
<rect x="516.75" y="337.2" width="13.75" height="18.95" fill="#eceeed"/>
<rect x="531.65" y="337.2" width="13.75" height="18.95" fill="#eceeed"/>
<rect x="546.55" y="337.2" width="13.75" height="18.95" fill="#eceeed"/>
<rect x="562.45" y="337.2" width="13.75" height="18.95" fill="#eceeed"/>
<rect x="577.35" y="337.2" width="13.75" height="18.95" fill="#eceeed"/>
<rect x="592.25" y="337.2" width="13.75" height="18.95" fill="#eceeed"/>
<rect x="608.15" y="337.2" width="13.75" height="18.95" fill="#000"/>
<rect x="623.05" y="337.2" width="13.75" height="18.95" fill="#000"/>
<rect x="637.95" y="337.2" width="13.75" height="18.95" fill="#000"/>
<rect x="652.85" y="337.2" width="13.75" height="18.95" fill="#000"/>
<rect x="667.75" y="337.2" width="13.75" height="18.95" fill="#000"/>
<rect x="683.65" y="337.2" width="13.75" height="18.95" fill="#eceeed"/>
<rect x="698.55" y="337.2" width="13.75" height="18.95" fill="#eceeed"/>
<rect x="713.45" y="337.2" width="13.75" height="18.95" fill="#eceeed"/>
<rect x="728.35" y="337.2" width="13.75" height="18.95" fill="#eceeed"/>
<rect x="743.25" y="337.2" width="13.75" height="18.95" fill="#eceeed"/>
<rect x="758.15" y="337.2" width="13.75" height="18.95" fill="#eceeed"/>
<rect x="773.05" y="337.2" width="13.75" height="18.95" fill="#eceeed"/>
<rect x="787.95" y="337.2" width="13.75" height="18.95" fill="#eceeed"/>
<rect x="802.85" y="337.2" width="13.75" height="18.95" fill="#eceeed"/>
<rect x="817.75" y="337.2" width="13.75" height="18.95" fill="#eceeed"/>
<rect x="832.65" y="337.2" width="13.75" height="18.95" fill="#eceeed"/>
<rect x="848.55" y="337.2" width="13.75" height="18.95" fill="#eceeed"/>
<rect x="863.45" y="337.2" width="13.75" height="18.95" fill="#eceeed"/>
<rect x="878.35" y="337.2" width="13.75" height="18.95" fill="#eceeed"/>
<rect x="893.25" y="337.2" width="13.75" height="18.95" fill="#eceeed"/>
<rect x="908.15" y="337.2" width="13.75" height="18.95" fill="#eceeed"/>
<rect x="923.05" y="337.2" width="13.75" height="18.95" fill="#eceeed"/>
<rect x="937.95" y="337.2" width="13.75" height="18.95" fill="#eceeed"/>
<rect x="953.85" y="337.2" width="13.75" height="18.95" fill="#eceeed"/>
<rect x="968.75" y="337.2" width="13.75" height="18.95" fill="#eceeed"/>
<rect x="983.65" y="337.2" width="13.75" height="18.95" fill="#eceeed"/>
<rect x="998.55" y="337.2" width="13.75" height="18.95" fill="#eceeed"/>
<rect x="1013.45" y="337.2" width="13.75" height="18.95" fill="#eceeed"/>
<rect x="1028.35" y="337.2" width="13.75" height="18.95" fill="#eceeed"/>
<rect x="1043.25" y="337.2" width="13.75" height="18.95" fill="#eceeed"/>
<rect x="1058.15" y="337.2" width="13.75" height="18.95" fill="#eceeed"/>
<rect x="144.25" y="357.75" width="13.75" height="18.95" fill="#000"/>
<rect x="159.15" y="357.75" width="13.75" height="18.95" fill="#000"/>
<rect x="174.05" y="357.75" width="13.75" height="18.95" fill="#000"/>
<rect x="188.95" y="357.75" width="13.75" height="18.95" fill="#a4282b"/>
<rect x="203.85" y="357.75" width="13.75" height="18.95" fill="#a4282b"/>
<rect x="218.75" y="357.75" width="13.75" height="18.95" fill="#a4282b"/>
<rect x="233.65" y="357.75" width="13.75" height="18.95" fill="#a4282b"/>
<rect x="248.55" y="357.75" width="13.75" height="18.95" fill="#a4282b"/>
<rect x="263.45" y="357.75" width="13.75" height="18.95" fill="#000"/>
<rect x="278.35" y="357.75" width="13.75" height="18.95" fill="#a4282b"/>
<rect x="293.25" y="357.75" width="13.75" height="18.95" fill="#a4282b"/>
<rect x="308.15" y="357.75" width="13.75" height="18.95" fill="#a4282b"/>
<rect x="323.05" y="357.75" width="13.75" height="18.95" fill="#000"/>
<rect x="337.95" y="357.75" width="13.75" height="18.95" fill="#000"/>
<rect x="352.85" y="357.75" width="13.75" height="18.95" fill="#a4282b"/>
<rect x="367.75" y="357.75" width="13.75" height="18.95" fill="#a4282b"/>
<rect x="382.65" y="357.75" width="13.75" height="18.95" fill="#000"/>
<rect x="397.55" y="357.75" width="13.75" height="18.95" fill="#a4282b"/>
<rect x="412.45" y="357.75" width="13.75" height="18.95" fill="#000"/>
<rect x="427.35" y="357.75" width="13.75" height="18.95" fill="#000"/>
<rect x="442.25" y="357.75" width="13.75" height="18.95" fill="#a4282b"/>
<rect x="457.15" y="357.75" width="13.75" height="18.95" fill="#a4282b"/>
<rect x="472.05" y="357.75" width="13.75" height="18.95" fill="#a4282b"/>
<rect x="486.95" y="357.75" width="13.75" height="18.95" fill="#a4282b"/>
<rect x="501.85" y="357.75" width="13.75" height="18.95" fill="#a4282b"/>
<rect x="516.75" y="357.75" width="13.75" height="18.95" fill="#a4282b"/>
<rect x="531.65" y="357.75" width="13.75" height="18.95" fill="#a4282b"/>
<rect x="546.55" y="357.75" width="13.75" height="18.95" fill="#000"/>
<rect x="562.45" y="357.75" width="13.75" height="18.95" fill="#000"/>
<rect x="577.35" y="357.75" width="13.75" height="18.95" fill="#000"/>
<rect x="592.25" y="357.75" width="13.75" height="18.95" fill="#a4282b"/>
<rect x="608.15" y="357.75" width="13.75" height="18.95" fill="#a4282b"/>
<rect x="623.05" y="357.75" width="13.75" height="18.95" fill="#a4282b"/>
<rect x="637.95" y="357.75" width="13.75" height="18.95" fill="#a4282b"/>
<rect x="652.85" y="357.75" width="13.75" height="18.95" fill="#000"/>
<rect x="667.75" y="357.75" width="13.75" height="18.95" fill="#a4282b"/>
<rect x="683.65" y="357.75" width="13.75" height="18.95" fill="#000"/>
<rect x="698.55" y="357.75" width="13.75" height="18.95" fill="#000"/>
<rect x="713.45" y="357.75" width="13.75" height="18.95" fill="#eceeed"/>
<rect x="728.35" y="357.75" width="13.75" height="18.95" fill="#000"/>
<rect x="743.25" y="357.75" width="13.75" height="18.95" fill="#eceeed"/>
<rect x="758.15" y="357.75" width="13.75" height="18.95" fill="#000"/>
<rect x="773.05" y="357.75" width="13.75" height="18.95" fill="#000"/>
<rect x="787.95" y="357.75" width="13.75" height="18.95" fill="#000"/>
<rect x="802.85" y="357.75" width="13.75" height="18.95" fill="#000"/>
<rect x="817.75" y="357.75" width="13.75" height="18.95" fill="#000"/>
<rect x="832.65" y="357.75" width="13.75" height="18.95" fill="#000"/>
<rect x="848.55" y="357.75" width="13.75" height="18.95" fill="#000"/>
<rect x="863.45" y="357.75" width="13.75" height="18.95" fill="#eceeed"/>
<rect x="878.35" y="357.75" width="13.75" height="18.95" fill="#000"/>
<rect x="893.25" y="357.75" width="13.75" height="18.95" fill="#000"/>
<rect x="908.15" y="357.75" width="13.75" height="18.95" fill="#000"/>
<rect x="923.05" y="357.75" width="13.75" height="18.95" fill="#a4282b"/>
<rect x="937.95" y="357.75" width="13.75" height="18.95" fill="#eceeed"/>
<rect x="953.85" y="357.75" width="13.75" height="18.95" fill="#000"/>
<rect x="968.75" y="357.75" width="13.75" height="18.95" fill="#000"/>
<rect x="983.65" y="357.75" width="13.75" height="18.95" fill="#000"/>
<rect x="998.55" y="357.75" width="13.75" height="18.95" fill="#000"/>
<rect x="1013.45" y="357.75" width="13.75" height="18.95" fill="#000"/>
<rect x="1028.35" y="357.75" width="13.75" height="18.95" fill="#000"/>
<rect x="1043.25" y="357.75" width="13.75" height="18.95" fill="#eceeed"/>
<rect x="1058.15" y="357.75" width="13.75" height="18.95" fill="#eceeed"/>
<rect x="144.25" y="378.3" width="13.75" height="18.95" fill="#000"/>
<rect x="159.15" y="378.3" width="13.75" height="18.95" fill="#000"/>
<rect x="174.05" y="378.3" width="13.75" height="18.95" fill="#eceeed"/>
<rect x="188.95" y="378.3" width="13.75" height="18.95" fill="#eceeed"/>
<rect x="203.85" y="378.3" width="13.75" height="18.95" fill="#000"/>
<rect x="218.75" y="378.3" width="13.75" height="18.95" fill="#eceeed"/>
<rect x="233.65" y="378.3" width="13.75" height="18.95" fill="#eceeed"/>
<rect x="248.55" y="378.3" width="13.75" height="18.95" fill="#eceeed"/>
<rect x="263.45" y="378.3" width="13.75" height="18.95" fill="#000"/>
<rect x="278.35" y="378.3" width="13.75" height="18.95" fill="#eceeed"/>
<rect x="293.25" y="378.3" width="13.75" height="18.95" fill="#eceeed"/>
<rect x="308.15" y="378.3" width="13.75" height="18.95" fill="#eceeed"/>
<rect x="323.05" y="378.3" width="13.75" height="18.95" fill="#eceeed"/>
<rect x="337.95" y="378.3" width="13.75" height="18.95" fill="#000"/>
<rect x="352.85" y="378.3" width="13.75" height="18.95" fill="#eceeed"/>
<rect x="367.75" y="378.3" width="13.75" height="18.95" fill="#eceeed"/>
<rect x="382.65" y="378.3" width="13.75" height="18.95" fill="#eceeed"/>
<rect x="397.55" y="378.3" width="13.75" height="18.95" fill="#eceeed"/>
<rect x="412.45" y="378.3" width="13.75" height="18.95" fill="#eceeed"/>
<rect x="427.35" y="378.3" width="13.75" height="18.95" fill="#eceeed"/>
<rect x="442.25" y="378.3" width="13.75" height="18.95" fill="#eceeed"/>
<rect x="457.15" y="378.3" width="13.75" height="18.95" fill="#eceeed"/>
<rect x="472.05" y="378.3" width="13.75" height="18.95" fill="#eceeed"/>
<rect x="486.95" y="378.3" width="13.75" height="18.95" fill="#eceeed"/>
<rect x="501.85" y="378.3" width="13.75" height="18.95" fill="#eceeed"/>
<rect x="516.75" y="378.3" width="13.75" height="18.95" fill="#eceeed"/>
<rect x="531.65" y="378.3" width="13.75" height="18.95" fill="#eceeed"/>
<rect x="546.55" y="378.3" width="13.75" height="18.95" fill="#eceeed"/>
<rect x="562.45" y="378.3" width="13.75" height="18.95" fill="#eceeed"/>
<rect x="577.35" y="378.3" width="13.75" height="18.95" fill="#eceeed"/>
<rect x="592.25" y="378.3" width="13.75" height="18.95" fill="#eceeed"/>
<rect x="608.15" y="378.3" width="13.75" height="18.95" fill="#000"/>
<rect x="623.05" y="378.3" width="13.75" height="18.95" fill="#eceeed"/>
<rect x="637.95" y="378.3" width="13.75" height="18.95" fill="#eceeed"/>
<rect x="652.85" y="378.3" width="13.75" height="18.95" fill="#eceeed"/>
<rect x="667.75" y="378.3" width="13.75" height="18.95" fill="#eceeed"/>
<rect x="683.65" y="378.3" width="13.75" height="18.95" fill="#000"/>
<rect x="698.55" y="378.3" width="13.75" height="18.95" fill="#000"/>
<rect x="713.45" y="378.3" width="13.75" height="18.95" fill="#000"/>
<rect x="728.35" y="378.3" width="13.75" height="18.95" fill="#000"/>
<rect x="743.25" y="378.3" width="13.75" height="18.95" fill="#000"/>
<rect x="758.15" y="378.3" width="13.75" height="18.95" fill="#000"/>
<rect x="773.05" y="378.3" width="13.75" height="18.95" fill="#000"/>
<rect x="787.95" y="378.3" width="13.75" height="18.95" fill="#000"/>
<rect x="802.85" y="378.3" width="13.75" height="18.95" fill="#000"/>
<rect x="817.75" y="378.3" width="13.75" height="18.95" fill="#000"/>
<rect x="832.65" y="378.3" width="13.75" height="18.95" fill="#000"/>
<rect x="848.55" y="378.3" width="13.75" height="18.95" fill="#eceeed"/>
<rect x="863.45" y="378.3" width="13.75" height="18.95" fill="#eceeed"/>
<rect x="878.35" y="378.3" width="13.75" height="18.95" fill="#eceeed"/>
<rect x="893.25" y="378.3" width="13.75" height="18.95" fill="#eceeed"/>
<rect x="908.15" y="378.3" width="13.75" height="18.95" fill="#eceeed"/>
<rect x="923.05" y="378.3" width="13.75" height="18.95" fill="#eceeed"/>
<rect x="937.95" y="378.3" width="13.75" height="18.95" fill="#eceeed"/>
<rect x="953.85" y="378.3" width="13.75" height="18.95" fill="#eceeed"/>
<rect x="968.75" y="378.3" width="13.75" height="18.95" fill="#eceeed"/>
<rect x="983.65" y="378.3" width="13.75" height="18.95" fill="#eceeed"/>
<rect x="998.55" y="378.3" width="13.75" height="18.95" fill="#eceeed"/>
<rect x="1013.45" y="378.3" width="13.75" height="18.95" fill="#eceeed"/>
<rect x="1028.35" y="378.3" width="13.75" height="18.95" fill="#eceeed"/>
<rect x="1043.25" y="378.3" width="13.75" height="18.95" fill="#eceeed"/>
<rect x="1058.15" y="378.3" width="13.75" height="18.95" fill="#eceeed"/>
<rect x="144.25" y="398.85" width="13.75" height="18.95" fill="#eceeed"/>
<rect x="159.15" y="398.85" width="13.75" height="18.95" fill="#eceeed"/>
<rect x="174.05" y="398.85" width="13.75" height="18.95" fill="#eceeed"/>
<rect x="188.95" y="398.85" width="13.75" height="18.95" fill="#eceeed"/>
<rect x="203.85" y="398.85" width="13.75" height="18.95" fill="#eceeed"/>
<rect x="218.75" y="398.85" width="13.75" height="18.95" fill="#eceeed"/>
<rect x="233.65" y="398.85" width="13.75" height="18.95" fill="#eceeed"/>
<rect x="248.55" y="398.85" width="13.75" height="18.95" fill="#eceeed"/>
<rect x="263.45" y="398.85" width="13.75" height="18.95" fill="#eceeed"/>
<rect x="278.35" y="398.85" width="13.75" height="18.95" fill="#eceeed"/>
<rect x="293.25" y="398.85" width="13.75" height="18.95" fill="#eceeed"/>
<rect x="308.15" y="398.85" width="13.75" height="18.95" fill="#eceeed"/>
<rect x="323.05" y="398.85" width="13.75" height="18.95" fill="#000"/>
<rect x="337.95" y="398.85" width="13.75" height="18.95" fill="#eceeed"/>
<rect x="352.85" y="398.85" width="13.75" height="18.95" fill="#eceeed"/>
<rect x="367.75" y="398.85" width="13.75" height="18.95" fill="#eceeed"/>
<rect x="382.65" y="398.85" width="13.75" height="18.95" fill="#eceeed"/>
<rect x="397.55" y="398.85" width="13.75" height="18.95" fill="#000"/>
<rect x="412.45" y="398.85" width="13.75" height="18.95" fill="#eceeed"/>
<rect x="427.35" y="398.85" width="13.75" height="18.95" fill="#eceeed"/>
<rect x="442.25" y="398.85" width="13.75" height="18.95" fill="#eceeed"/>
<rect x="457.15" y="398.85" width="13.75" height="18.95" fill="#eceeed"/>
<rect x="472.05" y="398.85" width="13.75" height="18.95" fill="#eceeed"/>
<rect x="486.95" y="398.85" width="13.75" height="18.95" fill="#eceeed"/>
<rect x="501.85" y="398.85" width="13.75" height="18.95" fill="#eceeed"/>
<rect x="516.75" y="398.85" width="13.75" height="18.95" fill="#eceeed"/>
<rect x="531.65" y="398.85" width="13.75" height="18.95" fill="#eceeed"/>
<rect x="546.55" y="398.85" width="13.75" height="18.95" fill="#eceeed"/>
<rect x="562.45" y="398.85" width="13.75" height="18.95" fill="#000"/>
<rect x="577.35" y="398.85" width="13.75" height="18.95" fill="#eceeed"/>
<rect x="592.25" y="398.85" width="13.75" height="18.95" fill="#eceeed"/>
<rect x="608.15" y="398.85" width="13.75" height="18.95" fill="#000"/>
<rect x="623.05" y="398.85" width="13.75" height="18.95" fill="#000"/>
<rect x="637.95" y="398.85" width="13.75" height="18.95" fill="#000"/>
<rect x="652.85" y="398.85" width="13.75" height="18.95" fill="#eceeed"/>
<rect x="667.75" y="398.85" width="13.75" height="18.95" fill="#000"/>
<rect x="683.65" y="398.85" width="13.75" height="18.95" fill="#000"/>
<rect x="698.55" y="398.85" width="13.75" height="18.95" fill="#000"/>
<rect x="713.45" y="398.85" width="13.75" height="18.95" fill="#eceeed"/>
<rect x="728.35" y="398.85" width="13.75" height="18.95" fill="#eceeed"/>
<rect x="743.25" y="398.85" width="13.75" height="18.95" fill="#000"/>
<rect x="758.15" y="398.85" width="13.75" height="18.95" fill="#000"/>
<rect x="773.05" y="398.85" width="13.75" height="18.95" fill="#eceeed"/>
<rect x="787.95" y="398.85" width="13.75" height="18.95" fill="#eceeed"/>
<rect x="802.85" y="398.85" width="13.75" height="18.95" fill="#000"/>
<rect x="817.75" y="398.85" width="13.75" height="18.95" fill="#000"/>
<rect x="832.65" y="398.85" width="13.75" height="18.95" fill="#eceeed"/>
<rect x="848.55" y="398.85" width="13.75" height="18.95" fill="#000"/>
<rect x="863.45" y="398.85" width="13.75" height="18.95" fill="#000"/>
<rect x="878.35" y="398.85" width="13.75" height="18.95" fill="#000"/>
<rect x="893.25" y="398.85" width="13.75" height="18.95" fill="#000"/>
<rect x="908.15" y="398.85" width="13.75" height="18.95" fill="#000"/>
<rect x="923.05" y="398.85" width="13.75" height="18.95" fill="#000"/>
<rect x="937.95" y="398.85" width="13.75" height="18.95" fill="#000"/>
<rect x="953.85" y="398.85" width="13.75" height="18.95" fill="#eceeed"/>
<rect x="968.75" y="398.85" width="13.75" height="18.95" fill="#eceeed"/>
<rect x="983.65" y="398.85" width="13.75" height="18.95" fill="#eceeed"/>
<rect x="998.55" y="398.85" width="13.75" height="18.95" fill="#eceeed"/>
<rect x="1013.45" y="398.85" width="13.75" height="18.95" fill="#eceeed"/>
<rect x="1028.35" y="398.85" width="13.75" height="18.95" fill="#eceeed"/>
<rect x="1043.25" y="398.85" width="13.75" height="18.95" fill="#eceeed"/>
<rect x="1058.15" y="398.85" width="13.75" height="18.95" fill="#eceeed"/>
<rect x="144.25" y="419.4" width="13.75" height="18.95" fill="#d42027"/>
<rect x="159.15" y="419.4" width="13.75" height="18.95" fill="#e6444a"/>
<rect x="174.05" y="419.4" width="13.75" height="18.95" fill="#dc2d2b"/>
<rect x="188.95" y="419.4" width="13.75" height="18.95" fill="#d42027"/>
<rect x="203.85" y="419.4" width="13.75" height="18.95" fill="#e6444a"/>
<rect x="218.75" y="419.4" width="13.75" height="18.95" fill="#f08a8e"/>
<rect x="233.65" y="419.4" width="13.75" height="18.95" fill="#f7bfca"/>
<rect x="248.55" y="419.4" width="13.75" height="18.95" fill="#e6444a"/>
<rect x="263.45" y="419.4" width="13.75" height="18.95" fill="#dc2d2b"/>
<rect x="278.35" y="419.4" width="13.75" height="18.95" fill="#e6444a"/>
<rect x="293.25" y="419.4" width="13.75" height="18.95" fill="#dc2d2b"/>
<rect x="308.15" y="419.4" width="13.75" height="18.95" fill="#e6444a"/>
<rect x="323.05" y="419.4" width="13.75" height="18.95" fill="#dc2d2b"/>
<rect x="337.95" y="419.4" width="13.75" height="18.95" fill="#dc2d2b"/>
<rect x="352.85" y="419.4" width="13.75" height="18.95" fill="#dc2d2b"/>
<rect x="367.75" y="419.4" width="13.75" height="18.95" fill="#d42027"/>
<rect x="382.65" y="419.4" width="13.75" height="18.95" fill="#e6444a"/>
<rect x="397.55" y="419.4" width="13.75" height="18.95" fill="#e6444a"/>
<rect x="412.45" y="419.4" width="13.75" height="18.95" fill="#f7bfca"/>
<rect x="427.35" y="419.4" width="13.75" height="18.95" fill="#e6444a"/>
<rect x="442.25" y="419.4" width="13.75" height="18.95" fill="#dc2d2b"/>
<rect x="457.15" y="419.4" width="13.75" height="18.95" fill="#e6444a"/>
<rect x="472.05" y="419.4" width="13.75" height="18.95" fill="#e6444a"/>
<rect x="486.95" y="419.4" width="13.75" height="18.95" fill="#f08a8e"/>
<rect x="501.85" y="419.4" width="13.75" height="18.95" fill="#e6444a"/>
<rect x="516.75" y="419.4" width="13.75" height="18.95" fill="#e6444a"/>
<rect x="531.65" y="419.4" width="13.75" height="18.95" fill="#f08a8e"/>
<rect x="546.55" y="419.4" width="13.75" height="18.95" fill="#e6444a"/>
<rect x="562.45" y="419.4" width="13.75" height="18.95" fill="#e6444a"/>
<rect x="577.35" y="419.4" width="13.75" height="18.95" fill="#f08a8e"/>
<rect x="592.25" y="419.4" width="13.75" height="18.95" fill="#dc2d2b"/>
<rect x="608.15" y="419.4" width="13.75" height="18.95" fill="#e6444a"/>
<rect x="623.05" y="419.4" width="13.75" height="18.95" fill="#c41e2a"/>
<rect x="637.95" y="419.4" width="13.75" height="18.95" fill="#dc2d2b"/>
<rect x="652.85" y="419.4" width="13.75" height="18.95" fill="#e6444a"/>
<rect x="667.75" y="419.4" width="13.75" height="18.95" fill="#e6444a"/>
<rect x="683.65" y="419.4" width="13.75" height="18.95" fill="#dc2d2b"/>
<rect x="698.55" y="419.4" width="13.75" height="18.95" fill="#e6444a"/>
<rect x="713.45" y="419.4" width="13.75" height="18.95" fill="#e6444a"/>
<rect x="728.35" y="419.4" width="13.75" height="18.95" fill="#dc2d2b"/>
<rect x="743.25" y="419.4" width="13.75" height="18.95" fill="#c41e2a"/>
<rect x="758.15" y="419.4" width="13.75" height="18.95" fill="#e6444a"/>
<rect x="773.05" y="419.4" width="13.75" height="18.95" fill="#e6444a"/>
<rect x="787.95" y="419.4" width="13.75" height="18.95" fill="#dc2d2b"/>
<rect x="802.85" y="419.4" width="13.75" height="18.95" fill="#c41e2a"/>
<rect x="817.75" y="419.4" width="13.75" height="18.95" fill="#d42027"/>
<rect x="832.65" y="419.4" width="13.75" height="18.95" fill="#dc2d2b"/>
<rect x="848.55" y="419.4" width="13.75" height="18.95" fill="#d42027"/>
<rect x="863.45" y="419.4" width="13.75" height="18.95" fill="#d42027"/>
<rect x="878.35" y="419.4" width="13.75" height="18.95" fill="#c41e2a"/>
<rect x="893.25" y="419.4" width="13.75" height="18.95" fill="#d42027"/>
<rect x="908.15" y="419.4" width="13.75" height="18.95" fill="#d42027"/>
<rect x="923.05" y="419.4" width="13.75" height="18.95" fill="#dc2d2b"/>
<rect x="937.95" y="419.4" width="13.75" height="18.95" fill="#dc2d2b"/>
<rect x="953.85" y="419.4" width="13.75" height="18.95" fill="#f7bfca"/>
<rect x="968.75" y="419.4" width="13.75" height="18.95" fill="#dc2d2b"/>
<rect x="983.65" y="419.4" width="13.75" height="18.95" fill="#dc2d2b"/>
<rect x="998.55" y="419.4" width="13.75" height="18.95" fill="#dc2d2b"/>
<rect x="1013.45" y="419.4" width="13.75" height="18.95" fill="#e6444a"/>
<rect x="1028.35" y="419.4" width="13.75" height="18.95" fill="#dc2d2b"/>
<rect x="1043.25" y="419.4" width="13.75" height="18.95" fill="#f08a8e"/>
<rect x="1058.15" y="419.4" width="13.75" height="18.95" fill="#e6444a"/>
<rect x="144.25" y="441.5" width="13.75" height="7.82" fill="#6ac5dc"/>
<rect x="144.25" y="449.31" width="13.75" height="10.8" fill="#3f83c0"/>
<rect x="159.15" y="441.5" width="13.75" height="18.61" fill="#a3d06b"/>
<rect x="174.05" y="441.5" width="13.75" height="18.6" fill="#eceeed"/>
<rect x="188.95" y="441.5" width="13.75" height="18.6" fill="#eceeed"/>
<rect x="203.85" y="441.5" width="13.75" height="18.6" fill="#eceeed"/>
<rect x="218.75" y="441.5" width="13.75" height="18.6" fill="#eceeed"/>
<rect x="233.65" y="441.5" width="13.75" height="18.6" fill="#eceeed"/>
<rect x="248.55" y="441.5" width="13.75" height="18.6" fill="#eceeed"/>
<rect x="263.45" y="441.5" width="13.75" height="18.6" fill="#eceeed"/>
<rect x="278.35" y="441.5" width="13.75" height="18.6" fill="#eceeed"/>
<rect x="293.25" y="441.5" width="13.75" height="18.6" fill="#eceeed"/>
<rect x="308.15" y="441.5" width="13.75" height="18.6" fill="#eceeed"/>
<rect x="323.05" y="441.5" width="13.75" height="18.6" fill="#eceeed"/>
<rect x="337.95" y="441.5" width="13.75" height="18.6" fill="#eceeed"/>
<rect x="352.85" y="441.5" width="13.75" height="18.6" fill="#eceeed"/>
<rect x="367.75" y="441.5" width="13.75" height="18.6" fill="#eceeed"/>
<rect x="382.65" y="441.5" width="13.75" height="18.6" fill="#eceeed"/>
<rect x="397.55" y="441.5" width="13.75" height="18.6" fill="#eceeed"/>
<rect x="412.45" y="441.5" width="13.75" height="18.6" fill="#eceeed"/>
<rect x="427.35" y="441.5" width="13.75" height="18.6" fill="#eceeed"/>
<rect x="442.25" y="441.5" width="13.75" height="18.6" fill="#eceeed"/>
<rect x="457.15" y="441.5" width="13.75" height="18.6" fill="#eceeed"/>
<rect x="472.05" y="441.5" width="13.75" height="18.6" fill="#eceeed"/>
<rect x="486.95" y="441.5" width="13.75" height="18.6" fill="#eceeed"/>
<rect x="501.85" y="441.5" width="13.75" height="18.6" fill="#eceeed"/>
<rect x="516.75" y="441.5" width="13.75" height="18.6" fill="#eceeed"/>
<rect x="531.65" y="441.5" width="13.75" height="18.6" fill="#eceeed"/>
<rect x="546.55" y="441.5" width="13.75" height="18.6" fill="#eceeed"/>
<rect x="562.45" y="441.5" width="13.75" height="18.6" fill="#eceeed"/>
<rect x="577.35" y="441.5" width="13.75" height="18.6" fill="#eceeed"/>
<rect x="592.25" y="441.5" width="13.75" height="18.6" fill="#eceeed"/>
<rect x="608.15" y="441.5" width="13.75" height="18.6" fill="#eceeed"/>
<rect x="623.05" y="441.5" width="13.75" height="18.6" fill="#eceeed"/>
<rect x="637.95" y="441.5" width="13.75" height="18.6" fill="#eceeed"/>
<rect x="652.85" y="441.5" width="13.75" height="18.6" fill="#eceeed"/>
<rect x="667.75" y="441.5" width="13.75" height="18.6" fill="#eceeed"/>
<rect x="683.65" y="441.5" width="13.75" height="5.59" fill="#a3d06b"/>
<rect x="683.65" y="447.08" width="13.75" height="13.03" fill="#3f83c0"/>
<text x="690.52" y="451.5" font-size="13" text-anchor="middle" fill="#000" font-family="DejaVu Sans, sans-serif">γ</text>
<rect x="698.55" y="441.5" width="13.75" height="18.61" fill="#a3d06b"/>
<text x="705.43" y="460.9" font-size="20" font-weight="bold" text-anchor="middle" fill="#000" font-family="'Liberation Sans', Arial, Helvetica, sans-serif">*</text>
<rect x="713.45" y="441.5" width="13.75" height="8.38" fill="#a3d06b"/>
<rect x="713.45" y="449.87" width="13.75" height="10.24" fill="#858585"/>
<text x="720.33" y="460.9" font-size="20" font-weight="bold" text-anchor="middle" fill="#000" font-family="'Liberation Sans', Arial, Helvetica, sans-serif">*</text>
<rect x="728.35" y="441.5" width="13.75" height="4.66" fill="#a3d06b"/>
<rect x="728.35" y="446.15" width="13.75" height="13.96" fill="#ee7e27"/>
<text x="735.23" y="451.5" font-size="13" text-anchor="middle" fill="#000" font-family="DejaVu Sans, sans-serif">γ</text>
<rect x="743.25" y="441.5" width="13.75" height="8.38" fill="#6ac5dc"/>
<rect x="743.25" y="449.87" width="13.75" height="10.24" fill="#3f83c0"/>
<rect x="758.15" y="441.5" width="13.75" height="4.66" fill="#a3d06b"/>
<rect x="758.15" y="446.15" width="13.75" height="13.96" fill="#3f83c0"/>
<text x="765.02" y="451.5" font-size="13" text-anchor="middle" fill="#000" font-family="DejaVu Sans, sans-serif">γ</text>
<rect x="773.05" y="441.5" width="13.75" height="4.66" fill="#a3d06b"/>
<rect x="773.05" y="446.15" width="13.75" height="13.96" fill="#3f83c0"/>
<text x="779.93" y="460.9" font-size="20" font-weight="bold" text-anchor="middle" fill="#000" font-family="'Liberation Sans', Arial, Helvetica, sans-serif">*</text>
<rect x="787.95" y="441.5" width="13.75" height="18.61" fill="#a3d06b"/>
<rect x="802.85" y="441.5" width="13.75" height="8.38" fill="#6ac5dc"/>
<rect x="802.85" y="449.87" width="13.75" height="10.24" fill="#3f83c0"/>
<text x="809.73" y="460.9" font-size="20" font-weight="bold" text-anchor="middle" fill="#000" font-family="'Liberation Sans', Arial, Helvetica, sans-serif">*</text>
<rect x="817.75" y="441.5" width="13.75" height="18.6" fill="#eceeed"/>
<rect x="832.65" y="441.5" width="13.75" height="18.6" fill="#eceeed"/>
<rect x="848.55" y="441.5" width="13.75" height="6.15" fill="#a3d06b"/>
<rect x="848.55" y="447.64" width="13.75" height="6.15" fill="#3f83c0"/>
<rect x="848.55" y="453.78" width="13.75" height="6.33" fill="#ee7e27"/>
<rect x="863.45" y="441.5" width="13.75" height="18.6" fill="#eceeed"/>
<rect x="878.35" y="441.5" width="13.75" height="18.6" fill="#eceeed"/>
<rect x="893.25" y="441.5" width="13.75" height="18.6" fill="#eceeed"/>
<rect x="908.15" y="441.5" width="13.75" height="18.6" fill="#eceeed"/>
<rect x="923.05" y="441.5" width="13.75" height="18.6" fill="#eceeed"/>
<rect x="937.95" y="441.5" width="13.75" height="18.6" fill="#eceeed"/>
<rect x="953.85" y="441.5" width="13.75" height="18.61" fill="#3f83c0"/>
<rect x="968.75" y="441.5" width="13.75" height="18.6" fill="#eceeed"/>
<rect x="983.65" y="441.5" width="13.75" height="18.6" fill="#eceeed"/>
<rect x="998.55" y="441.5" width="13.75" height="18.6" fill="#eceeed"/>
<rect x="1013.45" y="441.5" width="13.75" height="18.6" fill="#eceeed"/>
<rect x="1028.35" y="441.5" width="13.75" height="18.6" fill="#eceeed"/>
<rect x="1043.25" y="441.5" width="13.75" height="18.6" fill="#eceeed"/>
<rect x="1058.15" y="441.5" width="13.75" height="18.6" fill="#eceeed"/>
<rect x="144.25" y="461.98" width="13.75" height="18.6" fill="#eceeed"/>
<rect x="159.15" y="461.98" width="13.75" height="18.6" fill="#eceeed"/>
<rect x="174.05" y="461.98" width="13.75" height="18.61" fill="#dc3d3f"/>
<rect x="188.95" y="461.98" width="13.75" height="18.6" fill="#eceeed"/>
<rect x="203.85" y="461.98" width="13.75" height="18.6" fill="#eceeed"/>
<rect x="218.75" y="461.98" width="13.75" height="18.6" fill="#eceeed"/>
<rect x="233.65" y="461.98" width="13.75" height="18.6" fill="#eceeed"/>
<rect x="248.55" y="461.98" width="13.75" height="18.6" fill="#eceeed"/>
<rect x="263.45" y="461.98" width="13.75" height="18.6" fill="#eceeed"/>
<rect x="278.35" y="461.98" width="13.75" height="18.6" fill="#eceeed"/>
<rect x="293.25" y="461.98" width="13.75" height="18.6" fill="#eceeed"/>
<rect x="308.15" y="461.98" width="13.75" height="18.6" fill="#eceeed"/>
<rect x="323.05" y="461.98" width="13.75" height="18.6" fill="#eceeed"/>
<rect x="337.95" y="461.98" width="13.75" height="18.6" fill="#eceeed"/>
<rect x="352.85" y="461.98" width="13.75" height="18.6" fill="#eceeed"/>
<rect x="367.75" y="461.98" width="13.75" height="18.6" fill="#eceeed"/>
<rect x="382.65" y="461.98" width="13.75" height="18.6" fill="#eceeed"/>
<rect x="397.55" y="461.98" width="13.75" height="18.6" fill="#eceeed"/>
<rect x="412.45" y="461.98" width="13.75" height="18.6" fill="#eceeed"/>
<rect x="427.35" y="461.98" width="13.75" height="18.6" fill="#eceeed"/>
<rect x="442.25" y="461.98" width="13.75" height="18.6" fill="#eceeed"/>
<rect x="457.15" y="461.98" width="13.75" height="18.6" fill="#eceeed"/>
<rect x="472.05" y="461.98" width="13.75" height="18.6" fill="#eceeed"/>
<rect x="486.95" y="461.98" width="13.75" height="18.6" fill="#eceeed"/>
<rect x="501.85" y="461.98" width="13.75" height="18.6" fill="#eceeed"/>
<rect x="516.75" y="461.98" width="13.75" height="18.6" fill="#eceeed"/>
<rect x="531.65" y="461.98" width="13.75" height="18.6" fill="#eceeed"/>
<rect x="546.55" y="461.98" width="13.75" height="18.6" fill="#eceeed"/>
<rect x="562.45" y="461.98" width="13.75" height="18.6" fill="#eceeed"/>
<rect x="577.35" y="461.98" width="13.75" height="18.6" fill="#eceeed"/>
<rect x="592.25" y="461.98" width="13.75" height="18.6" fill="#eceeed"/>
<rect x="608.15" y="461.98" width="13.75" height="18.6" fill="#eceeed"/>
<rect x="623.05" y="461.98" width="13.75" height="18.6" fill="#eceeed"/>
<rect x="637.95" y="461.98" width="13.75" height="18.6" fill="#eceeed"/>
<rect x="652.85" y="461.98" width="13.75" height="18.6" fill="#eceeed"/>
<rect x="667.75" y="461.98" width="13.75" height="18.6" fill="#eceeed"/>
<rect x="683.65" y="461.98" width="13.75" height="18.6" fill="#eceeed"/>
<rect x="698.55" y="461.98" width="13.75" height="18.6" fill="#eceeed"/>
<rect x="713.45" y="461.98" width="13.75" height="18.6" fill="#eceeed"/>
<rect x="728.35" y="461.98" width="13.75" height="18.6" fill="#eceeed"/>
<rect x="743.25" y="461.98" width="13.75" height="18.6" fill="#eceeed"/>
<rect x="758.15" y="461.98" width="13.75" height="18.6" fill="#eceeed"/>
<rect x="773.05" y="461.98" width="13.75" height="18.6" fill="#eceeed"/>
<rect x="787.95" y="461.98" width="13.75" height="18.6" fill="#eceeed"/>
<rect x="802.85" y="461.98" width="13.75" height="18.6" fill="#eceeed"/>
<rect x="817.75" y="461.98" width="13.75" height="18.6" fill="#eceeed"/>
<rect x="832.65" y="461.98" width="13.75" height="18.6" fill="#eceeed"/>
<rect x="848.55" y="461.98" width="13.75" height="18.6" fill="#eceeed"/>
<rect x="863.45" y="461.98" width="13.75" height="18.61" fill="#dc3d3f"/>
<rect x="878.35" y="461.98" width="13.75" height="18.6" fill="#eceeed"/>
<rect x="893.25" y="461.98" width="13.75" height="18.6" fill="#eceeed"/>
<rect x="908.15" y="461.98" width="13.75" height="18.6" fill="#eceeed"/>
<rect x="923.05" y="461.98" width="13.75" height="18.6" fill="#eceeed"/>
<rect x="937.95" y="461.98" width="13.75" height="18.6" fill="#eceeed"/>
<rect x="953.85" y="461.98" width="13.75" height="18.6" fill="#eceeed"/>
<rect x="968.75" y="461.98" width="13.75" height="18.61" fill="#dc3d3f"/>
<rect x="983.65" y="461.98" width="13.75" height="18.6" fill="#eceeed"/>
<rect x="998.55" y="461.98" width="13.75" height="18.6" fill="#eceeed"/>
<rect x="1013.45" y="461.98" width="13.75" height="18.6" fill="#eceeed"/>
<rect x="1028.35" y="461.98" width="13.75" height="18.6" fill="#eceeed"/>
<rect x="1043.25" y="461.98" width="13.75" height="18.6" fill="#eceeed"/>
<rect x="1058.15" y="461.98" width="13.75" height="18.6" fill="#eceeed"/>
<rect x="144.25" y="482.45" width="13.75" height="18.6" fill="#eceeed"/>
<rect x="159.15" y="482.45" width="13.75" height="18.6" fill="#eceeed"/>
<rect x="174.05" y="482.45" width="13.75" height="18.6" fill="#eceeed"/>
<rect x="188.95" y="482.45" width="13.75" height="18.6" fill="#eceeed"/>
<rect x="203.85" y="482.45" width="13.75" height="18.6" fill="#eceeed"/>
<rect x="218.75" y="482.45" width="13.75" height="18.6" fill="#eceeed"/>
<rect x="233.65" y="482.45" width="13.75" height="18.6" fill="#eceeed"/>
<rect x="248.55" y="482.45" width="13.75" height="18.6" fill="#eceeed"/>
<rect x="263.45" y="482.45" width="13.75" height="18.6" fill="#eceeed"/>
<rect x="278.35" y="482.45" width="13.75" height="18.6" fill="#eceeed"/>
<rect x="293.25" y="482.45" width="13.75" height="18.6" fill="#eceeed"/>
<rect x="308.15" y="482.45" width="13.75" height="18.6" fill="#eceeed"/>
<rect x="323.05" y="482.45" width="13.75" height="18.6" fill="#eceeed"/>
<rect x="337.95" y="482.45" width="13.75" height="18.6" fill="#eceeed"/>
<rect x="352.85" y="482.45" width="13.75" height="18.6" fill="#eceeed"/>
<rect x="367.75" y="482.45" width="13.75" height="18.6" fill="#eceeed"/>
<rect x="382.65" y="482.45" width="13.75" height="18.6" fill="#eceeed"/>
<rect x="397.55" y="482.45" width="13.75" height="18.6" fill="#eceeed"/>
<rect x="412.45" y="482.45" width="13.75" height="18.6" fill="#eceeed"/>
<rect x="427.35" y="482.45" width="13.75" height="18.6" fill="#eceeed"/>
<rect x="442.25" y="482.45" width="13.75" height="18.6" fill="#eceeed"/>
<rect x="457.15" y="482.45" width="13.75" height="18.6" fill="#eceeed"/>
<rect x="472.05" y="482.45" width="13.75" height="18.6" fill="#eceeed"/>
<rect x="486.95" y="482.45" width="13.75" height="18.6" fill="#eceeed"/>
<rect x="501.85" y="482.45" width="13.75" height="18.6" fill="#eceeed"/>
<rect x="516.75" y="482.45" width="13.75" height="18.6" fill="#eceeed"/>
<rect x="531.65" y="482.45" width="13.75" height="18.6" fill="#eceeed"/>
<rect x="546.55" y="482.45" width="13.75" height="18.6" fill="#eceeed"/>
<rect x="562.45" y="482.45" width="13.75" height="18.6" fill="#eceeed"/>
<rect x="577.35" y="482.45" width="13.75" height="18.6" fill="#eceeed"/>
<rect x="592.25" y="482.45" width="13.75" height="18.6" fill="#eceeed"/>
<rect x="608.15" y="482.45" width="13.75" height="18.6" fill="#eceeed"/>
<rect x="623.05" y="482.45" width="13.75" height="18.6" fill="#eceeed"/>
<rect x="637.95" y="482.45" width="13.75" height="18.6" fill="#eceeed"/>
<rect x="652.85" y="482.45" width="13.75" height="18.6" fill="#eceeed"/>
<rect x="667.75" y="482.45" width="13.75" height="18.6" fill="#eceeed"/>
<rect x="683.65" y="482.45" width="13.75" height="18.6" fill="#eceeed"/>
<rect x="698.55" y="482.45" width="13.75" height="18.6" fill="#eceeed"/>
<rect x="713.45" y="482.45" width="13.75" height="18.6" fill="#eceeed"/>
<rect x="728.35" y="482.45" width="13.75" height="18.6" fill="#eceeed"/>
<rect x="743.25" y="482.45" width="13.75" height="18.6" fill="#eceeed"/>
<rect x="758.15" y="482.45" width="13.75" height="18.6" fill="#eceeed"/>
<rect x="773.05" y="482.45" width="13.75" height="18.6" fill="#eceeed"/>
<rect x="787.95" y="482.45" width="13.75" height="18.6" fill="#eceeed"/>
<rect x="802.85" y="482.45" width="13.75" height="18.6" fill="#eceeed"/>
<rect x="817.75" y="482.45" width="13.75" height="18.6" fill="#eceeed"/>
<rect x="832.65" y="482.45" width="13.75" height="18.6" fill="#eceeed"/>
<rect x="848.55" y="482.45" width="13.75" height="18.6" fill="#eceeed"/>
<rect x="863.45" y="482.45" width="13.75" height="18.6" fill="#eceeed"/>
<rect x="878.35" y="482.45" width="13.75" height="18.61" fill="#3f83c0"/>
<text x="885.23" y="492.45" font-size="13" text-anchor="middle" fill="#000" font-family="DejaVu Sans, sans-serif">γ</text>
<rect x="893.25" y="482.45" width="13.75" height="18.61" fill="#dc3d3f"/>
<rect x="908.15" y="482.45" width="13.75" height="18.6" fill="#eceeed"/>
<rect x="923.05" y="482.45" width="13.75" height="18.6" fill="#eceeed"/>
<rect x="937.95" y="482.45" width="13.75" height="18.6" fill="#eceeed"/>
<rect x="953.85" y="482.45" width="13.75" height="18.6" fill="#eceeed"/>
<rect x="968.75" y="482.45" width="13.75" height="18.6" fill="#eceeed"/>
<rect x="983.65" y="482.45" width="13.75" height="18.6" fill="#eceeed"/>
<rect x="998.55" y="482.45" width="13.75" height="18.6" fill="#eceeed"/>
<rect x="1013.45" y="482.45" width="13.75" height="18.6" fill="#eceeed"/>
<rect x="1028.35" y="482.45" width="13.75" height="18.6" fill="#eceeed"/>
<rect x="1043.25" y="482.45" width="13.75" height="18.6" fill="#eceeed"/>
<rect x="1058.15" y="482.45" width="13.75" height="18.6" fill="#eceeed"/>
<rect x="144.25" y="502.93" width="13.75" height="18.6" fill="#eceeed"/>
<rect x="159.15" y="502.93" width="13.75" height="18.6" fill="#eceeed"/>
<rect x="174.05" y="502.93" width="13.75" height="18.6" fill="#eceeed"/>
<rect x="188.95" y="502.93" width="13.75" height="18.6" fill="#eceeed"/>
<rect x="203.85" y="502.93" width="13.75" height="18.6" fill="#eceeed"/>
<rect x="218.75" y="502.93" width="13.75" height="18.6" fill="#eceeed"/>
<rect x="233.65" y="502.93" width="13.75" height="18.6" fill="#eceeed"/>
<rect x="248.55" y="502.93" width="13.75" height="18.6" fill="#eceeed"/>
<rect x="263.45" y="502.93" width="13.75" height="18.6" fill="#eceeed"/>
<rect x="278.35" y="502.93" width="13.75" height="18.6" fill="#eceeed"/>
<rect x="293.25" y="502.93" width="13.75" height="18.6" fill="#eceeed"/>
<rect x="308.15" y="502.93" width="13.75" height="18.6" fill="#eceeed"/>
<rect x="323.05" y="502.93" width="13.75" height="18.6" fill="#eceeed"/>
<rect x="337.95" y="502.93" width="13.75" height="18.6" fill="#eceeed"/>
<rect x="352.85" y="502.93" width="13.75" height="18.6" fill="#eceeed"/>
<rect x="367.75" y="502.93" width="13.75" height="18.6" fill="#eceeed"/>
<rect x="382.65" y="502.93" width="13.75" height="18.6" fill="#eceeed"/>
<rect x="397.55" y="502.93" width="13.75" height="18.6" fill="#eceeed"/>
<rect x="412.45" y="502.93" width="13.75" height="18.6" fill="#eceeed"/>
<rect x="427.35" y="502.93" width="13.75" height="18.6" fill="#eceeed"/>
<rect x="442.25" y="502.93" width="13.75" height="18.6" fill="#eceeed"/>
<rect x="457.15" y="502.93" width="13.75" height="18.6" fill="#eceeed"/>
<rect x="472.05" y="502.93" width="13.75" height="18.6" fill="#eceeed"/>
<rect x="486.95" y="502.93" width="13.75" height="18.6" fill="#eceeed"/>
<rect x="501.85" y="502.93" width="13.75" height="18.6" fill="#eceeed"/>
<rect x="516.75" y="502.93" width="13.75" height="18.6" fill="#eceeed"/>
<rect x="531.65" y="502.93" width="13.75" height="18.6" fill="#eceeed"/>
<rect x="546.55" y="502.93" width="13.75" height="18.6" fill="#eceeed"/>
<rect x="562.45" y="502.93" width="13.75" height="18.6" fill="#eceeed"/>
<rect x="577.35" y="502.93" width="13.75" height="18.6" fill="#eceeed"/>
<rect x="592.25" y="502.93" width="13.75" height="18.6" fill="#eceeed"/>
<rect x="608.15" y="502.93" width="13.75" height="18.6" fill="#eceeed"/>
<rect x="623.05" y="502.93" width="13.75" height="18.6" fill="#eceeed"/>
<rect x="637.95" y="502.93" width="13.75" height="18.6" fill="#eceeed"/>
<rect x="652.85" y="502.93" width="13.75" height="18.6" fill="#eceeed"/>
<rect x="667.75" y="502.93" width="13.75" height="18.6" fill="#eceeed"/>
<rect x="683.65" y="502.93" width="13.75" height="18.6" fill="#eceeed"/>
<rect x="698.55" y="502.93" width="13.75" height="18.6" fill="#eceeed"/>
<rect x="713.45" y="502.93" width="13.75" height="18.6" fill="#eceeed"/>
<rect x="728.35" y="502.93" width="13.75" height="18.6" fill="#eceeed"/>
<rect x="743.25" y="502.93" width="13.75" height="18.6" fill="#eceeed"/>
<rect x="758.15" y="502.93" width="13.75" height="18.6" fill="#eceeed"/>
<rect x="773.05" y="502.93" width="13.75" height="18.6" fill="#eceeed"/>
<rect x="787.95" y="502.93" width="13.75" height="18.6" fill="#eceeed"/>
<rect x="802.85" y="502.93" width="13.75" height="18.6" fill="#eceeed"/>
<rect x="817.75" y="502.93" width="13.75" height="18.6" fill="#eceeed"/>
<rect x="832.65" y="502.93" width="13.75" height="18.6" fill="#eceeed"/>
<rect x="848.55" y="502.93" width="13.75" height="18.6" fill="#eceeed"/>
<rect x="863.45" y="502.93" width="13.75" height="18.6" fill="#eceeed"/>
<rect x="878.35" y="502.93" width="13.75" height="18.6" fill="#eceeed"/>
<rect x="893.25" y="502.93" width="13.75" height="18.6" fill="#eceeed"/>
<rect x="908.15" y="502.93" width="13.75" height="18.6" fill="#eceeed"/>
<rect x="923.05" y="502.93" width="13.75" height="18.6" fill="#eceeed"/>
<rect x="937.95" y="502.93" width="13.75" height="18.6" fill="#eceeed"/>
<rect x="953.85" y="502.93" width="13.75" height="18.6" fill="#eceeed"/>
<rect x="968.75" y="502.93" width="13.75" height="18.61" fill="#6459a8"/>
<rect x="983.65" y="502.93" width="13.75" height="18.6" fill="#eceeed"/>
<rect x="998.55" y="502.93" width="13.75" height="18.6" fill="#eceeed"/>
<rect x="1013.45" y="502.93" width="13.75" height="18.6" fill="#eceeed"/>
<rect x="1028.35" y="502.93" width="13.75" height="18.6" fill="#eceeed"/>
<rect x="1043.25" y="502.93" width="13.75" height="18.6" fill="#eceeed"/>
<rect x="1058.15" y="502.93" width="13.75" height="18.6" fill="#eceeed"/>
<rect x="144.25" y="523.4" width="13.75" height="18.6" fill="#eceeed"/>
<rect x="159.15" y="523.4" width="13.75" height="18.6" fill="#eceeed"/>
<rect x="174.05" y="523.4" width="13.75" height="18.6" fill="#eceeed"/>
<rect x="188.95" y="523.4" width="13.75" height="18.6" fill="#eceeed"/>
<rect x="203.85" y="523.4" width="13.75" height="18.6" fill="#eceeed"/>
<rect x="218.75" y="523.4" width="13.75" height="18.6" fill="#eceeed"/>
<rect x="233.65" y="523.4" width="13.75" height="18.6" fill="#eceeed"/>
<rect x="248.55" y="523.4" width="13.75" height="18.6" fill="#eceeed"/>
<rect x="263.45" y="523.4" width="13.75" height="18.6" fill="#eceeed"/>
<rect x="278.35" y="523.4" width="13.75" height="18.6" fill="#eceeed"/>
<rect x="293.25" y="523.4" width="13.75" height="18.6" fill="#eceeed"/>
<rect x="308.15" y="523.4" width="13.75" height="18.6" fill="#eceeed"/>
<rect x="323.05" y="523.4" width="13.75" height="18.6" fill="#eceeed"/>
<rect x="337.95" y="523.4" width="13.75" height="18.6" fill="#eceeed"/>
<rect x="352.85" y="523.4" width="13.75" height="18.6" fill="#eceeed"/>
<rect x="367.75" y="523.4" width="13.75" height="18.6" fill="#eceeed"/>
<rect x="382.65" y="523.4" width="13.75" height="18.6" fill="#eceeed"/>
<rect x="397.55" y="523.4" width="13.75" height="18.6" fill="#eceeed"/>
<rect x="412.45" y="523.4" width="13.75" height="18.6" fill="#eceeed"/>
<rect x="427.35" y="523.4" width="13.75" height="18.6" fill="#eceeed"/>
<rect x="442.25" y="523.4" width="13.75" height="18.6" fill="#eceeed"/>
<rect x="457.15" y="523.4" width="13.75" height="18.6" fill="#eceeed"/>
<rect x="472.05" y="523.4" width="13.75" height="18.6" fill="#eceeed"/>
<rect x="486.95" y="523.4" width="13.75" height="18.6" fill="#eceeed"/>
<rect x="501.85" y="523.4" width="13.75" height="18.6" fill="#eceeed"/>
<rect x="516.75" y="523.4" width="13.75" height="18.6" fill="#eceeed"/>
<rect x="531.65" y="523.4" width="13.75" height="18.6" fill="#eceeed"/>
<rect x="546.55" y="523.4" width="13.75" height="18.6" fill="#eceeed"/>
<rect x="562.45" y="523.4" width="13.75" height="18.6" fill="#eceeed"/>
<rect x="577.35" y="523.4" width="13.75" height="18.6" fill="#eceeed"/>
<rect x="592.25" y="523.4" width="13.75" height="18.6" fill="#eceeed"/>
<rect x="608.15" y="523.4" width="13.75" height="18.6" fill="#eceeed"/>
<rect x="623.05" y="523.4" width="13.75" height="18.6" fill="#eceeed"/>
<rect x="637.95" y="523.4" width="13.75" height="18.6" fill="#eceeed"/>
<rect x="652.85" y="523.4" width="13.75" height="18.6" fill="#eceeed"/>
<rect x="667.75" y="523.4" width="13.75" height="18.6" fill="#eceeed"/>
<rect x="683.65" y="523.4" width="13.75" height="18.6" fill="#eceeed"/>
<rect x="698.55" y="523.4" width="13.75" height="18.6" fill="#eceeed"/>
<rect x="713.45" y="523.4" width="13.75" height="18.6" fill="#eceeed"/>
<rect x="728.35" y="523.4" width="13.75" height="18.61" fill="#3f83c0"/>
<rect x="743.25" y="523.4" width="13.75" height="18.6" fill="#eceeed"/>
<rect x="758.15" y="523.4" width="13.75" height="18.6" fill="#eceeed"/>
<rect x="773.05" y="523.4" width="13.75" height="18.6" fill="#eceeed"/>
<rect x="787.95" y="523.4" width="13.75" height="18.6" fill="#eceeed"/>
<rect x="802.85" y="523.4" width="13.75" height="18.6" fill="#eceeed"/>
<rect x="817.75" y="523.4" width="13.75" height="18.6" fill="#eceeed"/>
<rect x="832.65" y="523.4" width="13.75" height="18.6" fill="#eceeed"/>
<rect x="848.55" y="523.4" width="13.75" height="18.6" fill="#eceeed"/>
<rect x="863.45" y="523.4" width="13.75" height="18.6" fill="#eceeed"/>
<rect x="878.35" y="523.4" width="13.75" height="18.6" fill="#eceeed"/>
<rect x="893.25" y="523.4" width="13.75" height="18.6" fill="#eceeed"/>
<rect x="908.15" y="523.4" width="13.75" height="18.6" fill="#eceeed"/>
<rect x="923.05" y="523.4" width="13.75" height="18.6" fill="#eceeed"/>
<rect x="937.95" y="523.4" width="13.75" height="18.6" fill="#eceeed"/>
<rect x="953.85" y="523.4" width="13.75" height="18.6" fill="#eceeed"/>
<rect x="968.75" y="523.4" width="13.75" height="18.6" fill="#eceeed"/>
<rect x="983.65" y="523.4" width="13.75" height="18.6" fill="#eceeed"/>
<rect x="998.55" y="523.4" width="13.75" height="18.6" fill="#eceeed"/>
<rect x="1013.45" y="523.4" width="13.75" height="18.6" fill="#eceeed"/>
<rect x="1028.35" y="523.4" width="13.75" height="18.6" fill="#eceeed"/>
<rect x="1043.25" y="523.4" width="13.75" height="18.6" fill="#eceeed"/>
<rect x="1058.15" y="523.4" width="13.75" height="18.6" fill="#eceeed"/>
<rect x="144.25" y="543.88" width="13.75" height="18.6" fill="#eceeed"/>
<rect x="159.15" y="543.88" width="13.75" height="18.6" fill="#eceeed"/>
<rect x="174.05" y="543.88" width="13.75" height="18.6" fill="#eceeed"/>
<rect x="188.95" y="543.88" width="13.75" height="18.6" fill="#eceeed"/>
<rect x="203.85" y="543.88" width="13.75" height="18.6" fill="#eceeed"/>
<rect x="218.75" y="543.88" width="13.75" height="18.6" fill="#eceeed"/>
<rect x="233.65" y="543.88" width="13.75" height="18.6" fill="#eceeed"/>
<rect x="248.55" y="543.88" width="13.75" height="18.6" fill="#eceeed"/>
<rect x="263.45" y="543.88" width="13.75" height="18.6" fill="#eceeed"/>
<rect x="278.35" y="543.88" width="13.75" height="18.6" fill="#eceeed"/>
<rect x="293.25" y="543.88" width="13.75" height="18.6" fill="#eceeed"/>
<rect x="308.15" y="543.88" width="13.75" height="18.6" fill="#eceeed"/>
<rect x="323.05" y="543.88" width="13.75" height="18.6" fill="#eceeed"/>
<rect x="337.95" y="543.88" width="13.75" height="18.6" fill="#eceeed"/>
<rect x="352.85" y="543.88" width="13.75" height="18.6" fill="#eceeed"/>
<rect x="367.75" y="543.88" width="13.75" height="18.6" fill="#eceeed"/>
<rect x="382.65" y="543.88" width="13.75" height="18.6" fill="#eceeed"/>
<rect x="397.55" y="543.88" width="13.75" height="18.6" fill="#eceeed"/>
<rect x="412.45" y="543.88" width="13.75" height="18.6" fill="#eceeed"/>
<rect x="427.35" y="543.88" width="13.75" height="18.6" fill="#eceeed"/>
<rect x="442.25" y="543.88" width="13.75" height="18.6" fill="#eceeed"/>
<rect x="457.15" y="543.88" width="13.75" height="18.6" fill="#eceeed"/>
<rect x="472.05" y="543.88" width="13.75" height="18.6" fill="#eceeed"/>
<rect x="486.95" y="543.88" width="13.75" height="18.6" fill="#eceeed"/>
<rect x="501.85" y="543.88" width="13.75" height="18.6" fill="#eceeed"/>
<rect x="516.75" y="543.88" width="13.75" height="18.6" fill="#eceeed"/>
<rect x="531.65" y="543.88" width="13.75" height="18.6" fill="#eceeed"/>
<rect x="546.55" y="543.88" width="13.75" height="18.6" fill="#eceeed"/>
<rect x="562.45" y="543.88" width="13.75" height="18.6" fill="#eceeed"/>
<rect x="577.35" y="543.88" width="13.75" height="18.6" fill="#eceeed"/>
<rect x="592.25" y="543.88" width="13.75" height="18.6" fill="#eceeed"/>
<rect x="608.15" y="543.88" width="13.75" height="18.6" fill="#eceeed"/>
<rect x="623.05" y="543.88" width="13.75" height="18.6" fill="#eceeed"/>
<rect x="637.95" y="543.88" width="13.75" height="18.6" fill="#eceeed"/>
<rect x="652.85" y="543.88" width="13.75" height="18.6" fill="#eceeed"/>
<rect x="667.75" y="543.88" width="13.75" height="18.6" fill="#eceeed"/>
<rect x="683.65" y="543.88" width="13.75" height="18.6" fill="#eceeed"/>
<rect x="698.55" y="543.88" width="13.75" height="18.6" fill="#eceeed"/>
<rect x="713.45" y="543.88" width="13.75" height="18.6" fill="#eceeed"/>
<rect x="728.35" y="543.88" width="13.75" height="18.6" fill="#eceeed"/>
<rect x="743.25" y="543.88" width="13.75" height="18.61" fill="#dc3d3f"/>
<rect x="758.15" y="543.88" width="13.75" height="18.6" fill="#eceeed"/>
<rect x="773.05" y="543.88" width="13.75" height="18.6" fill="#eceeed"/>
<rect x="787.95" y="543.88" width="13.75" height="18.6" fill="#eceeed"/>
<rect x="802.85" y="543.88" width="13.75" height="18.6" fill="#eceeed"/>
<rect x="817.75" y="543.88" width="13.75" height="18.6" fill="#eceeed"/>
<rect x="832.65" y="543.88" width="13.75" height="18.6" fill="#eceeed"/>
<rect x="848.55" y="543.88" width="13.75" height="18.6" fill="#eceeed"/>
<rect x="863.45" y="543.88" width="13.75" height="18.6" fill="#eceeed"/>
<rect x="878.35" y="543.88" width="13.75" height="18.6" fill="#eceeed"/>
<rect x="893.25" y="543.88" width="13.75" height="18.6" fill="#eceeed"/>
<rect x="908.15" y="543.88" width="13.75" height="18.6" fill="#eceeed"/>
<rect x="923.05" y="543.88" width="13.75" height="18.6" fill="#eceeed"/>
<rect x="937.95" y="543.88" width="13.75" height="18.6" fill="#eceeed"/>
<rect x="953.85" y="543.88" width="13.75" height="18.6" fill="#eceeed"/>
<rect x="968.75" y="543.88" width="13.75" height="18.6" fill="#eceeed"/>
<rect x="983.65" y="543.88" width="13.75" height="18.6" fill="#eceeed"/>
<rect x="998.55" y="543.88" width="13.75" height="18.6" fill="#eceeed"/>
<rect x="1013.45" y="543.88" width="13.75" height="18.6" fill="#eceeed"/>
<rect x="1028.35" y="543.88" width="13.75" height="18.6" fill="#eceeed"/>
<rect x="1043.25" y="543.88" width="13.75" height="18.6" fill="#eceeed"/>
<rect x="1058.15" y="543.88" width="13.75" height="18.6" fill="#eceeed"/>
<rect x="144.25" y="564.6" width="13.75" height="18.6" fill="#eceeed"/>
<rect x="159.15" y="564.6" width="13.75" height="18.6" fill="#eceeed"/>
<rect x="174.05" y="564.6" width="13.75" height="18.6" fill="#eceeed"/>
<rect x="188.95" y="564.6" width="13.75" height="18.61" fill="#3f83c0"/>
<rect x="203.85" y="564.6" width="13.75" height="18.61" fill="#3f83c0"/>
<rect x="218.75" y="564.6" width="13.75" height="18.61" fill="#3f83c0"/>
<rect x="233.65" y="564.6" width="13.75" height="18.61" fill="#3f83c0"/>
<rect x="248.55" y="564.6" width="13.75" height="18.61" fill="#3f83c0"/>
<rect x="263.45" y="564.6" width="13.75" height="18.61" fill="#3f83c0"/>
<rect x="278.35" y="564.6" width="13.75" height="18.61" fill="#3f83c0"/>
<rect x="293.25" y="564.6" width="13.75" height="18.61" fill="#3f83c0"/>
<rect x="308.15" y="564.6" width="13.75" height="18.61" fill="#3f83c0"/>
<rect x="323.05" y="564.6" width="13.75" height="18.6" fill="#eceeed"/>
<rect x="337.95" y="564.6" width="13.75" height="18.6" fill="#eceeed"/>
<rect x="352.85" y="564.6" width="13.75" height="18.6" fill="#eceeed"/>
<rect x="367.75" y="564.6" width="13.75" height="18.6" fill="#eceeed"/>
<rect x="382.65" y="564.6" width="13.75" height="18.6" fill="#eceeed"/>
<rect x="397.55" y="564.6" width="13.75" height="18.6" fill="#eceeed"/>
<rect x="412.45" y="564.6" width="13.75" height="18.6" fill="#eceeed"/>
<rect x="427.35" y="564.6" width="13.75" height="18.6" fill="#eceeed"/>
<rect x="442.25" y="564.6" width="13.75" height="18.6" fill="#eceeed"/>
<rect x="457.15" y="564.6" width="13.75" height="18.6" fill="#eceeed"/>
<rect x="472.05" y="564.6" width="13.75" height="18.6" fill="#eceeed"/>
<rect x="486.95" y="564.6" width="13.75" height="18.6" fill="#eceeed"/>
<rect x="501.85" y="564.6" width="13.75" height="18.6" fill="#eceeed"/>
<rect x="516.75" y="564.6" width="13.75" height="18.6" fill="#eceeed"/>
<rect x="531.65" y="564.6" width="13.75" height="18.6" fill="#eceeed"/>
<rect x="546.55" y="564.6" width="13.75" height="18.6" fill="#eceeed"/>
<rect x="562.45" y="564.6" width="13.75" height="18.6" fill="#eceeed"/>
<rect x="577.35" y="564.6" width="13.75" height="18.6" fill="#eceeed"/>
<rect x="592.25" y="564.6" width="13.75" height="18.6" fill="#eceeed"/>
<rect x="608.15" y="564.6" width="13.75" height="18.61" fill="#3f83c0"/>
<rect x="623.05" y="564.6" width="13.75" height="18.61" fill="#3f83c0"/>
<rect x="637.95" y="564.6" width="13.75" height="18.6" fill="#eceeed"/>
<rect x="652.85" y="564.6" width="13.75" height="18.6" fill="#eceeed"/>
<rect x="667.75" y="564.6" width="13.75" height="18.6" fill="#eceeed"/>
<rect x="683.65" y="564.6" width="13.75" height="18.6" fill="#eceeed"/>
<rect x="698.55" y="564.6" width="13.75" height="18.6" fill="#eceeed"/>
<rect x="713.45" y="564.6" width="13.75" height="18.6" fill="#eceeed"/>
<rect x="728.35" y="564.6" width="13.75" height="18.6" fill="#eceeed"/>
<rect x="743.25" y="564.6" width="13.75" height="18.6" fill="#eceeed"/>
<rect x="758.15" y="564.6" width="13.75" height="18.6" fill="#eceeed"/>
<rect x="773.05" y="564.6" width="13.75" height="18.6" fill="#eceeed"/>
<rect x="787.95" y="564.6" width="13.75" height="18.6" fill="#eceeed"/>
<rect x="802.85" y="564.6" width="13.75" height="18.6" fill="#eceeed"/>
<rect x="817.75" y="564.6" width="13.75" height="18.61" fill="#3f83c0"/>
<rect x="832.65" y="564.6" width="13.75" height="18.6" fill="#eceeed"/>
<rect x="848.55" y="564.6" width="13.75" height="18.6" fill="#eceeed"/>
<rect x="863.45" y="564.6" width="13.75" height="18.6" fill="#eceeed"/>
<rect x="878.35" y="564.6" width="13.75" height="18.61" fill="#3f83c0"/>
<rect x="893.25" y="564.6" width="13.75" height="18.6" fill="#eceeed"/>
<rect x="908.15" y="564.6" width="13.75" height="18.6" fill="#eceeed"/>
<rect x="923.05" y="564.6" width="13.75" height="18.6" fill="#eceeed"/>
<rect x="937.95" y="564.6" width="13.75" height="18.6" fill="#eceeed"/>
<rect x="953.85" y="564.6" width="13.75" height="18.6" fill="#eceeed"/>
<rect x="968.75" y="564.6" width="13.75" height="18.6" fill="#eceeed"/>
<rect x="983.65" y="564.6" width="13.75" height="18.61" fill="#8c5a4e"/>
<rect x="998.55" y="564.6" width="13.75" height="18.6" fill="#eceeed"/>
<rect x="1013.45" y="564.6" width="13.75" height="18.6" fill="#eceeed"/>
<rect x="1028.35" y="564.6" width="13.75" height="18.6" fill="#eceeed"/>
<rect x="1043.25" y="564.6" width="13.75" height="18.6" fill="#eceeed"/>
<rect x="1058.15" y="564.6" width="13.75" height="18.6" fill="#eceeed"/>
<rect x="144.25" y="585.2" width="13.75" height="18.6" fill="#eceeed"/>
<rect x="159.15" y="585.2" width="13.75" height="18.6" fill="#eceeed"/>
<rect x="174.05" y="585.2" width="13.75" height="18.6" fill="#eceeed"/>
<rect x="188.95" y="585.2" width="13.75" height="18.6" fill="#eceeed"/>
<rect x="203.85" y="585.2" width="13.75" height="18.6" fill="#eceeed"/>
<rect x="218.75" y="585.2" width="13.75" height="18.6" fill="#eceeed"/>
<rect x="233.65" y="585.2" width="13.75" height="18.6" fill="#eceeed"/>
<rect x="248.55" y="585.2" width="13.75" height="18.6" fill="#eceeed"/>
<rect x="263.45" y="585.2" width="13.75" height="18.6" fill="#eceeed"/>
<rect x="278.35" y="585.2" width="13.75" height="18.6" fill="#eceeed"/>
<rect x="293.25" y="585.2" width="13.75" height="18.6" fill="#eceeed"/>
<rect x="308.15" y="585.2" width="13.75" height="18.6" fill="#eceeed"/>
<rect x="323.05" y="585.2" width="13.75" height="18.61" fill="#dc3d3f"/>
<rect x="337.95" y="585.2" width="13.75" height="18.6" fill="#eceeed"/>
<rect x="352.85" y="585.2" width="13.75" height="18.6" fill="#eceeed"/>
<rect x="367.75" y="585.2" width="13.75" height="18.6" fill="#eceeed"/>
<rect x="382.65" y="585.2" width="13.75" height="18.6" fill="#eceeed"/>
<rect x="397.55" y="585.2" width="13.75" height="18.6" fill="#eceeed"/>
<rect x="412.45" y="585.2" width="13.75" height="18.6" fill="#eceeed"/>
<rect x="427.35" y="585.2" width="13.75" height="18.6" fill="#eceeed"/>
<rect x="442.25" y="585.2" width="13.75" height="18.6" fill="#eceeed"/>
<rect x="457.15" y="585.2" width="13.75" height="18.6" fill="#eceeed"/>
<rect x="472.05" y="585.2" width="13.75" height="18.6" fill="#eceeed"/>
<rect x="486.95" y="585.2" width="13.75" height="18.6" fill="#eceeed"/>
<rect x="501.85" y="585.2" width="13.75" height="18.6" fill="#eceeed"/>
<rect x="516.75" y="585.2" width="13.75" height="18.6" fill="#eceeed"/>
<rect x="531.65" y="585.2" width="13.75" height="18.6" fill="#eceeed"/>
<rect x="546.55" y="585.2" width="13.75" height="18.6" fill="#eceeed"/>
<rect x="562.45" y="585.2" width="13.75" height="18.6" fill="#eceeed"/>
<rect x="577.35" y="585.2" width="13.75" height="18.6" fill="#eceeed"/>
<rect x="592.25" y="585.2" width="13.75" height="18.6" fill="#eceeed"/>
<rect x="608.15" y="585.2" width="13.75" height="18.61" fill="#9467b0"/>
<rect x="623.05" y="585.2" width="13.75" height="18.6" fill="#eceeed"/>
<rect x="637.95" y="585.2" width="13.75" height="18.6" fill="#eceeed"/>
<rect x="652.85" y="585.2" width="13.75" height="18.6" fill="#eceeed"/>
<rect x="667.75" y="585.2" width="13.75" height="18.6" fill="#eceeed"/>
<rect x="683.65" y="585.2" width="13.75" height="18.6" fill="#eceeed"/>
<rect x="698.55" y="585.2" width="13.75" height="18.6" fill="#eceeed"/>
<rect x="713.45" y="585.2" width="13.75" height="18.61" fill="#ee7e27"/>
<rect x="728.35" y="585.2" width="13.75" height="18.6" fill="#eceeed"/>
<rect x="743.25" y="585.2" width="13.75" height="18.6" fill="#eceeed"/>
<rect x="758.15" y="585.2" width="13.75" height="18.61" fill="#dc3d3f"/>
<rect x="773.05" y="585.2" width="13.75" height="18.61" fill="#ee7e27"/>
<rect x="787.95" y="585.2" width="13.75" height="9.31" fill="#dc3d3f"/>
<rect x="787.95" y="594.5" width="13.75" height="9.31" fill="#ee7e27"/>
<rect x="802.85" y="585.2" width="13.75" height="18.6" fill="#eceeed"/>
<rect x="817.75" y="585.2" width="13.75" height="18.6" fill="#eceeed"/>
<rect x="832.65" y="585.2" width="13.75" height="18.6" fill="#eceeed"/>
<rect x="848.55" y="585.2" width="13.75" height="18.61" fill="#ee7e27"/>
<text x="855.43" y="595.2" font-size="13" text-anchor="middle" fill="#000" font-family="DejaVu Sans, sans-serif">γ</text>
<rect x="863.45" y="585.2" width="13.75" height="18.6" fill="#eceeed"/>
<rect x="878.35" y="585.2" width="13.75" height="18.61" fill="#dc3d3f"/>
<rect x="893.25" y="585.2" width="13.75" height="18.61" fill="#dc3d3f"/>
<rect x="908.15" y="585.2" width="13.75" height="18.61" fill="#dc3d3f"/>
<rect x="923.05" y="585.2" width="13.75" height="18.6" fill="#eceeed"/>
<rect x="937.95" y="585.2" width="13.75" height="18.6" fill="#eceeed"/>
<rect x="953.85" y="585.2" width="13.75" height="18.6" fill="#eceeed"/>
<rect x="968.75" y="585.2" width="13.75" height="18.6" fill="#eceeed"/>
<rect x="983.65" y="585.2" width="13.75" height="18.6" fill="#eceeed"/>
<rect x="998.55" y="585.2" width="13.75" height="18.61" fill="#dc3d3f"/>
<rect x="1013.45" y="585.2" width="13.75" height="18.61" fill="#3f83c0"/>
<rect x="1028.35" y="585.2" width="13.75" height="18.6" fill="#eceeed"/>
<rect x="1043.25" y="585.2" width="13.75" height="18.6" fill="#eceeed"/>
<rect x="1058.15" y="585.2" width="13.75" height="18.6" fill="#eceeed"/>
<rect x="144.25" y="605.8" width="13.75" height="18.6" fill="#eceeed"/>
<rect x="159.15" y="605.8" width="13.75" height="18.6" fill="#eceeed"/>
<rect x="174.05" y="605.8" width="13.75" height="18.6" fill="#eceeed"/>
<rect x="188.95" y="605.8" width="13.75" height="18.6" fill="#eceeed"/>
<rect x="203.85" y="605.8" width="13.75" height="18.6" fill="#eceeed"/>
<rect x="218.75" y="605.8" width="13.75" height="18.6" fill="#eceeed"/>
<rect x="233.65" y="605.8" width="13.75" height="18.6" fill="#eceeed"/>
<rect x="248.55" y="605.8" width="13.75" height="18.6" fill="#eceeed"/>
<rect x="263.45" y="605.8" width="13.75" height="18.61" fill="#3f83c0"/>
<rect x="278.35" y="605.8" width="13.75" height="18.61" fill="#3f83c0"/>
<rect x="293.25" y="605.8" width="13.75" height="18.6" fill="#eceeed"/>
<rect x="308.15" y="605.8" width="13.75" height="18.6" fill="#eceeed"/>
<rect x="323.05" y="605.8" width="13.75" height="18.6" fill="#eceeed"/>
<rect x="337.95" y="605.8" width="13.75" height="18.61" fill="#3f83c0"/>
<rect x="352.85" y="605.8" width="13.75" height="18.61" fill="#3f83c0"/>
<rect x="367.75" y="605.8" width="13.75" height="18.6" fill="#eceeed"/>
<rect x="382.65" y="605.8" width="13.75" height="18.6" fill="#eceeed"/>
<rect x="397.55" y="605.8" width="13.75" height="18.6" fill="#eceeed"/>
<rect x="412.45" y="605.8" width="13.75" height="18.6" fill="#eceeed"/>
<rect x="427.35" y="605.8" width="13.75" height="18.6" fill="#eceeed"/>
<rect x="442.25" y="605.8" width="13.75" height="18.6" fill="#eceeed"/>
<rect x="457.15" y="605.8" width="13.75" height="18.6" fill="#eceeed"/>
<rect x="472.05" y="605.8" width="13.75" height="18.6" fill="#eceeed"/>
<rect x="486.95" y="605.8" width="13.75" height="18.6" fill="#eceeed"/>
<rect x="501.85" y="605.8" width="13.75" height="18.6" fill="#eceeed"/>
<rect x="516.75" y="605.8" width="13.75" height="18.6" fill="#eceeed"/>
<rect x="531.65" y="605.8" width="13.75" height="18.6" fill="#eceeed"/>
<rect x="546.55" y="605.8" width="13.75" height="18.6" fill="#eceeed"/>
<rect x="562.45" y="605.8" width="13.75" height="18.6" fill="#eceeed"/>
<rect x="577.35" y="605.8" width="13.75" height="18.6" fill="#eceeed"/>
<rect x="592.25" y="605.8" width="13.75" height="18.6" fill="#eceeed"/>
<rect x="608.15" y="605.8" width="13.75" height="18.6" fill="#eceeed"/>
<rect x="623.05" y="605.8" width="13.75" height="18.6" fill="#eceeed"/>
<rect x="637.95" y="605.8" width="13.75" height="18.61" fill="#3f83c0"/>
<rect x="652.85" y="605.8" width="13.75" height="18.6" fill="#eceeed"/>
<rect x="667.75" y="605.8" width="13.75" height="18.6" fill="#eceeed"/>
<rect x="683.65" y="605.8" width="13.75" height="18.6" fill="#eceeed"/>
<rect x="698.55" y="605.8" width="13.75" height="18.6" fill="#eceeed"/>
<rect x="713.45" y="605.8" width="13.75" height="18.6" fill="#eceeed"/>
<rect x="728.35" y="605.8" width="13.75" height="18.6" fill="#eceeed"/>
<rect x="743.25" y="605.8" width="13.75" height="18.6" fill="#eceeed"/>
<rect x="758.15" y="605.8" width="13.75" height="18.6" fill="#eceeed"/>
<rect x="773.05" y="605.8" width="13.75" height="18.6" fill="#eceeed"/>
<rect x="787.95" y="605.8" width="13.75" height="18.6" fill="#eceeed"/>
<rect x="802.85" y="605.8" width="13.75" height="18.6" fill="#eceeed"/>
<rect x="817.75" y="605.8" width="13.75" height="18.6" fill="#eceeed"/>
<rect x="832.65" y="605.8" width="13.75" height="18.6" fill="#eceeed"/>
<rect x="848.55" y="605.8" width="13.75" height="18.6" fill="#eceeed"/>
<rect x="863.45" y="605.8" width="13.75" height="18.6" fill="#eceeed"/>
<rect x="878.35" y="605.8" width="13.75" height="18.61" fill="#3f83c0"/>
<rect x="893.25" y="605.8" width="13.75" height="18.6" fill="#eceeed"/>
<rect x="908.15" y="605.8" width="13.75" height="18.6" fill="#eceeed"/>
<rect x="923.05" y="605.8" width="13.75" height="18.6" fill="#eceeed"/>
<rect x="937.95" y="605.8" width="13.75" height="18.6" fill="#eceeed"/>
<rect x="953.85" y="605.8" width="13.75" height="18.6" fill="#eceeed"/>
<rect x="968.75" y="605.8" width="13.75" height="18.6" fill="#eceeed"/>
<rect x="983.65" y="605.8" width="13.75" height="18.6" fill="#eceeed"/>
<rect x="998.55" y="605.8" width="13.75" height="18.6" fill="#eceeed"/>
<rect x="1013.45" y="605.8" width="13.75" height="18.6" fill="#eceeed"/>
<rect x="1028.35" y="605.8" width="13.75" height="18.6" fill="#eceeed"/>
<rect x="1043.25" y="605.8" width="13.75" height="18.6" fill="#eceeed"/>
<rect x="1058.15" y="605.8" width="13.75" height="18.6" fill="#eceeed"/>
<rect x="144.25" y="626.4" width="13.75" height="18.6" fill="#eceeed"/>
<rect x="159.15" y="626.4" width="13.75" height="18.6" fill="#eceeed"/>
<rect x="174.05" y="626.4" width="13.75" height="18.61" fill="#3f83c0"/>
<rect x="188.95" y="626.4" width="13.75" height="18.6" fill="#eceeed"/>
<rect x="203.85" y="626.4" width="13.75" height="18.6" fill="#eceeed"/>
<rect x="218.75" y="626.4" width="13.75" height="18.6" fill="#eceeed"/>
<rect x="233.65" y="626.4" width="13.75" height="18.6" fill="#eceeed"/>
<rect x="248.55" y="626.4" width="13.75" height="18.6" fill="#eceeed"/>
<rect x="263.45" y="626.4" width="13.75" height="18.6" fill="#eceeed"/>
<rect x="278.35" y="626.4" width="13.75" height="9.31" fill="#858585"/>
<rect x="278.35" y="635.7" width="13.75" height="9.31" fill="#3f83c0"/>
<rect x="293.25" y="626.4" width="13.75" height="18.61" fill="#c87ab8"/>
<rect x="308.15" y="626.4" width="13.75" height="18.6" fill="#eceeed"/>
<rect x="323.05" y="626.4" width="13.75" height="18.6" fill="#eceeed"/>
<rect x="337.95" y="626.4" width="13.75" height="18.6" fill="#eceeed"/>
<rect x="352.85" y="626.4" width="13.75" height="18.6" fill="#eceeed"/>
<rect x="367.75" y="626.4" width="13.75" height="18.6" fill="#eceeed"/>
<rect x="382.65" y="626.4" width="13.75" height="18.6" fill="#eceeed"/>
<rect x="397.55" y="626.4" width="13.75" height="18.6" fill="#eceeed"/>
<rect x="412.45" y="626.4" width="13.75" height="18.6" fill="#eceeed"/>
<rect x="427.35" y="626.4" width="13.75" height="18.6" fill="#eceeed"/>
<rect x="442.25" y="626.4" width="13.75" height="18.6" fill="#eceeed"/>
<rect x="457.15" y="626.4" width="13.75" height="18.6" fill="#eceeed"/>
<rect x="472.05" y="626.4" width="13.75" height="18.6" fill="#eceeed"/>
<rect x="486.95" y="626.4" width="13.75" height="18.6" fill="#eceeed"/>
<rect x="501.85" y="626.4" width="13.75" height="18.6" fill="#eceeed"/>
<rect x="516.75" y="626.4" width="13.75" height="18.6" fill="#eceeed"/>
<rect x="531.65" y="626.4" width="13.75" height="18.6" fill="#eceeed"/>
<rect x="546.55" y="626.4" width="13.75" height="18.6" fill="#eceeed"/>
<rect x="562.45" y="626.4" width="13.75" height="18.6" fill="#eceeed"/>
<rect x="577.35" y="626.4" width="13.75" height="18.6" fill="#eceeed"/>
<rect x="592.25" y="626.4" width="13.75" height="18.6" fill="#eceeed"/>
<rect x="608.15" y="626.4" width="13.75" height="18.6" fill="#eceeed"/>
<rect x="623.05" y="626.4" width="13.75" height="18.6" fill="#eceeed"/>
<rect x="637.95" y="626.4" width="13.75" height="18.6" fill="#eceeed"/>
<rect x="652.85" y="626.4" width="13.75" height="18.6" fill="#eceeed"/>
<rect x="667.75" y="626.4" width="13.75" height="18.6" fill="#eceeed"/>
<rect x="683.65" y="626.4" width="13.75" height="18.6" fill="#eceeed"/>
<rect x="698.55" y="626.4" width="13.75" height="18.6" fill="#eceeed"/>
<rect x="713.45" y="626.4" width="13.75" height="18.6" fill="#eceeed"/>
<rect x="728.35" y="626.4" width="13.75" height="18.6" fill="#eceeed"/>
<rect x="743.25" y="626.4" width="13.75" height="18.6" fill="#eceeed"/>
<rect x="758.15" y="626.4" width="13.75" height="18.6" fill="#eceeed"/>
<rect x="773.05" y="626.4" width="13.75" height="18.6" fill="#eceeed"/>
<rect x="787.95" y="626.4" width="13.75" height="18.6" fill="#eceeed"/>
<rect x="802.85" y="626.4" width="13.75" height="18.6" fill="#eceeed"/>
<rect x="817.75" y="626.4" width="13.75" height="18.6" fill="#eceeed"/>
<rect x="832.65" y="626.4" width="13.75" height="18.6" fill="#eceeed"/>
<rect x="848.55" y="626.4" width="13.75" height="18.6" fill="#eceeed"/>
<rect x="863.45" y="626.4" width="13.75" height="18.6" fill="#eceeed"/>
<rect x="878.35" y="626.4" width="13.75" height="18.6" fill="#eceeed"/>
<rect x="893.25" y="626.4" width="13.75" height="18.6" fill="#eceeed"/>
<rect x="908.15" y="626.4" width="13.75" height="18.6" fill="#eceeed"/>
<rect x="923.05" y="626.4" width="13.75" height="18.6" fill="#eceeed"/>
<rect x="937.95" y="626.4" width="13.75" height="18.6" fill="#eceeed"/>
<rect x="953.85" y="626.4" width="13.75" height="18.6" fill="#eceeed"/>
<rect x="968.75" y="626.4" width="13.75" height="18.6" fill="#eceeed"/>
<rect x="983.65" y="626.4" width="13.75" height="18.61" fill="#c87ab8"/>
<rect x="998.55" y="626.4" width="13.75" height="18.61" fill="#3f83c0"/>
<rect x="1013.45" y="626.4" width="13.75" height="18.6" fill="#eceeed"/>
<rect x="1028.35" y="626.4" width="13.75" height="18.6" fill="#eceeed"/>
<rect x="1043.25" y="626.4" width="13.75" height="18.6" fill="#eceeed"/>
<rect x="1058.15" y="626.4" width="13.75" height="18.6" fill="#eceeed"/>
<rect x="144.25" y="647" width="13.75" height="18.6" fill="#eceeed"/>
<rect x="159.15" y="647" width="13.75" height="18.6" fill="#eceeed"/>
<rect x="174.05" y="647" width="13.75" height="18.6" fill="#eceeed"/>
<rect x="188.95" y="647" width="13.75" height="18.6" fill="#eceeed"/>
<rect x="203.85" y="647" width="13.75" height="18.6" fill="#eceeed"/>
<rect x="218.75" y="647" width="13.75" height="18.6" fill="#eceeed"/>
<rect x="233.65" y="647" width="13.75" height="18.6" fill="#eceeed"/>
<rect x="248.55" y="647" width="13.75" height="18.6" fill="#eceeed"/>
<rect x="263.45" y="647" width="13.75" height="18.6" fill="#eceeed"/>
<rect x="278.35" y="647" width="13.75" height="18.6" fill="#eceeed"/>
<rect x="293.25" y="647" width="13.75" height="18.6" fill="#eceeed"/>
<rect x="308.15" y="647" width="13.75" height="18.6" fill="#eceeed"/>
<rect x="323.05" y="647" width="13.75" height="18.6" fill="#eceeed"/>
<rect x="337.95" y="647" width="13.75" height="18.6" fill="#eceeed"/>
<rect x="352.85" y="647" width="13.75" height="18.6" fill="#eceeed"/>
<rect x="367.75" y="647" width="13.75" height="18.61" fill="#3f83c0"/>
<rect x="382.65" y="647" width="13.75" height="18.6" fill="#eceeed"/>
<rect x="397.55" y="647" width="13.75" height="18.6" fill="#eceeed"/>
<rect x="412.45" y="647" width="13.75" height="18.6" fill="#eceeed"/>
<rect x="427.35" y="647" width="13.75" height="18.6" fill="#eceeed"/>
<rect x="442.25" y="647" width="13.75" height="18.6" fill="#eceeed"/>
<rect x="457.15" y="647" width="13.75" height="18.6" fill="#eceeed"/>
<rect x="472.05" y="647" width="13.75" height="18.6" fill="#eceeed"/>
<rect x="486.95" y="647" width="13.75" height="18.6" fill="#eceeed"/>
<rect x="501.85" y="647" width="13.75" height="18.6" fill="#eceeed"/>
<rect x="516.75" y="647" width="13.75" height="18.6" fill="#eceeed"/>
<rect x="531.65" y="647" width="13.75" height="18.6" fill="#eceeed"/>
<rect x="546.55" y="647" width="13.75" height="18.6" fill="#eceeed"/>
<rect x="562.45" y="647" width="13.75" height="18.6" fill="#eceeed"/>
<rect x="577.35" y="647" width="13.75" height="18.6" fill="#eceeed"/>
<rect x="592.25" y="647" width="13.75" height="18.6" fill="#eceeed"/>
<rect x="608.15" y="647" width="13.75" height="18.6" fill="#eceeed"/>
<rect x="623.05" y="647" width="13.75" height="18.6" fill="#eceeed"/>
<rect x="637.95" y="647" width="13.75" height="18.61" fill="#3f83c0"/>
<rect x="652.85" y="647" width="13.75" height="18.6" fill="#eceeed"/>
<rect x="667.75" y="647" width="13.75" height="18.6" fill="#eceeed"/>
<rect x="683.65" y="647" width="13.75" height="18.6" fill="#eceeed"/>
<rect x="698.55" y="647" width="13.75" height="18.6" fill="#eceeed"/>
<rect x="713.45" y="647" width="13.75" height="18.6" fill="#eceeed"/>
<rect x="728.35" y="647" width="13.75" height="18.6" fill="#eceeed"/>
<rect x="743.25" y="647" width="13.75" height="18.6" fill="#eceeed"/>
<rect x="758.15" y="647" width="13.75" height="18.6" fill="#eceeed"/>
<rect x="773.05" y="647" width="13.75" height="18.6" fill="#eceeed"/>
<rect x="787.95" y="647" width="13.75" height="18.6" fill="#eceeed"/>
<rect x="802.85" y="647" width="13.75" height="18.61" fill="#3f83c0"/>
<rect x="817.75" y="647" width="13.75" height="18.6" fill="#eceeed"/>
<rect x="832.65" y="647" width="13.75" height="18.6" fill="#eceeed"/>
<rect x="848.55" y="647" width="13.75" height="18.6" fill="#eceeed"/>
<rect x="863.45" y="647" width="13.75" height="18.6" fill="#eceeed"/>
<rect x="878.35" y="647" width="13.75" height="18.6" fill="#eceeed"/>
<rect x="893.25" y="647" width="13.75" height="18.6" fill="#eceeed"/>
<rect x="908.15" y="647" width="13.75" height="18.6" fill="#eceeed"/>
<rect x="923.05" y="647" width="13.75" height="18.6" fill="#eceeed"/>
<rect x="937.95" y="647" width="13.75" height="18.6" fill="#eceeed"/>
<rect x="953.85" y="647" width="13.75" height="18.6" fill="#eceeed"/>
<rect x="968.75" y="647" width="13.75" height="18.6" fill="#eceeed"/>
<rect x="983.65" y="647" width="13.75" height="18.6" fill="#eceeed"/>
<rect x="998.55" y="647" width="13.75" height="18.6" fill="#eceeed"/>
<rect x="1013.45" y="647" width="13.75" height="18.61" fill="#3f83c0"/>
<text x="1020.33" y="657" font-size="13" text-anchor="middle" fill="#000" font-family="DejaVu Sans, sans-serif">γ</text>
<rect x="1028.35" y="647" width="13.75" height="18.6" fill="#eceeed"/>
<rect x="1043.25" y="647" width="13.75" height="18.6" fill="#eceeed"/>
<rect x="1058.15" y="647" width="13.75" height="18.6" fill="#eceeed"/>
<rect x="144.25" y="667.6" width="13.75" height="18.6" fill="#eceeed"/>
<rect x="159.15" y="667.6" width="13.75" height="18.6" fill="#eceeed"/>
<rect x="174.05" y="667.6" width="13.75" height="18.6" fill="#eceeed"/>
<rect x="188.95" y="667.6" width="13.75" height="18.6" fill="#eceeed"/>
<rect x="203.85" y="667.6" width="13.75" height="18.6" fill="#eceeed"/>
<rect x="218.75" y="667.6" width="13.75" height="18.6" fill="#eceeed"/>
<rect x="233.65" y="667.6" width="13.75" height="18.6" fill="#eceeed"/>
<rect x="248.55" y="667.6" width="13.75" height="18.6" fill="#eceeed"/>
<rect x="263.45" y="667.6" width="13.75" height="18.6" fill="#eceeed"/>
<rect x="278.35" y="667.6" width="13.75" height="18.6" fill="#eceeed"/>
<rect x="293.25" y="667.6" width="13.75" height="18.6" fill="#eceeed"/>
<rect x="308.15" y="667.6" width="13.75" height="18.6" fill="#eceeed"/>
<rect x="323.05" y="667.6" width="13.75" height="18.6" fill="#eceeed"/>
<rect x="337.95" y="667.6" width="13.75" height="18.6" fill="#eceeed"/>
<rect x="352.85" y="667.6" width="13.75" height="18.6" fill="#eceeed"/>
<rect x="367.75" y="667.6" width="13.75" height="18.6" fill="#eceeed"/>
<rect x="382.65" y="667.6" width="13.75" height="18.6" fill="#eceeed"/>
<rect x="397.55" y="667.6" width="13.75" height="18.6" fill="#eceeed"/>
<rect x="412.45" y="667.6" width="13.75" height="18.6" fill="#eceeed"/>
<rect x="427.35" y="667.6" width="13.75" height="18.6" fill="#eceeed"/>
<rect x="442.25" y="667.6" width="13.75" height="18.6" fill="#eceeed"/>
<rect x="457.15" y="667.6" width="13.75" height="18.6" fill="#eceeed"/>
<rect x="472.05" y="667.6" width="13.75" height="18.6" fill="#eceeed"/>
<rect x="486.95" y="667.6" width="13.75" height="18.6" fill="#eceeed"/>
<rect x="501.85" y="667.6" width="13.75" height="18.6" fill="#eceeed"/>
<rect x="516.75" y="667.6" width="13.75" height="18.6" fill="#eceeed"/>
<rect x="531.65" y="667.6" width="13.75" height="18.6" fill="#eceeed"/>
<rect x="546.55" y="667.6" width="13.75" height="18.6" fill="#eceeed"/>
<rect x="562.45" y="667.6" width="13.75" height="18.61" fill="#3f83c0"/>
<rect x="577.35" y="667.6" width="13.75" height="18.6" fill="#eceeed"/>
<rect x="592.25" y="667.6" width="13.75" height="18.6" fill="#eceeed"/>
<rect x="608.15" y="667.6" width="13.75" height="18.6" fill="#eceeed"/>
<rect x="623.05" y="667.6" width="13.75" height="18.6" fill="#eceeed"/>
<rect x="637.95" y="667.6" width="13.75" height="18.6" fill="#eceeed"/>
<rect x="652.85" y="667.6" width="13.75" height="18.6" fill="#eceeed"/>
<rect x="667.75" y="667.6" width="13.75" height="18.6" fill="#eceeed"/>
<rect x="683.65" y="667.6" width="13.75" height="18.6" fill="#eceeed"/>
<rect x="698.55" y="667.6" width="13.75" height="18.6" fill="#eceeed"/>
<rect x="713.45" y="667.6" width="13.75" height="18.6" fill="#eceeed"/>
<rect x="728.35" y="667.6" width="13.75" height="18.6" fill="#eceeed"/>
<rect x="743.25" y="667.6" width="13.75" height="18.6" fill="#eceeed"/>
<rect x="758.15" y="667.6" width="13.75" height="18.6" fill="#eceeed"/>
<rect x="773.05" y="667.6" width="13.75" height="18.6" fill="#eceeed"/>
<rect x="787.95" y="667.6" width="13.75" height="18.6" fill="#eceeed"/>
<rect x="802.85" y="667.6" width="13.75" height="18.6" fill="#eceeed"/>
<rect x="817.75" y="667.6" width="13.75" height="18.6" fill="#eceeed"/>
<rect x="832.65" y="667.6" width="13.75" height="18.6" fill="#eceeed"/>
<rect x="848.55" y="667.6" width="13.75" height="18.6" fill="#eceeed"/>
<rect x="863.45" y="667.6" width="13.75" height="18.6" fill="#eceeed"/>
<rect x="878.35" y="667.6" width="13.75" height="18.6" fill="#eceeed"/>
<rect x="893.25" y="667.6" width="13.75" height="18.6" fill="#eceeed"/>
<rect x="908.15" y="667.6" width="13.75" height="18.6" fill="#eceeed"/>
<rect x="923.05" y="667.6" width="13.75" height="18.6" fill="#eceeed"/>
<rect x="937.95" y="667.6" width="13.75" height="18.6" fill="#eceeed"/>
<rect x="953.85" y="667.6" width="13.75" height="18.6" fill="#eceeed"/>
<rect x="968.75" y="667.6" width="13.75" height="18.6" fill="#eceeed"/>
<rect x="983.65" y="667.6" width="13.75" height="18.6" fill="#eceeed"/>
<rect x="998.55" y="667.6" width="13.75" height="18.6" fill="#eceeed"/>
<rect x="1013.45" y="667.6" width="13.75" height="18.6" fill="#eceeed"/>
<rect x="1028.35" y="667.6" width="13.75" height="18.6" fill="#eceeed"/>
<rect x="1043.25" y="667.6" width="13.75" height="18.6" fill="#eceeed"/>
<rect x="1058.15" y="667.6" width="13.75" height="18.6" fill="#eceeed"/>
<rect x="144.25" y="688.2" width="13.75" height="18.6" fill="#eceeed"/>
<rect x="159.15" y="688.2" width="13.75" height="18.6" fill="#eceeed"/>
<rect x="174.05" y="688.2" width="13.75" height="18.6" fill="#eceeed"/>
<rect x="188.95" y="688.2" width="13.75" height="18.6" fill="#eceeed"/>
<rect x="203.85" y="688.2" width="13.75" height="18.6" fill="#eceeed"/>
<rect x="218.75" y="688.2" width="13.75" height="18.6" fill="#eceeed"/>
<rect x="233.65" y="688.2" width="13.75" height="18.6" fill="#eceeed"/>
<rect x="248.55" y="688.2" width="13.75" height="18.6" fill="#eceeed"/>
<rect x="263.45" y="688.2" width="13.75" height="18.6" fill="#eceeed"/>
<rect x="278.35" y="688.2" width="13.75" height="18.6" fill="#eceeed"/>
<rect x="293.25" y="688.2" width="13.75" height="18.6" fill="#eceeed"/>
<rect x="308.15" y="688.2" width="13.75" height="18.6" fill="#eceeed"/>
<rect x="323.05" y="688.2" width="13.75" height="18.6" fill="#eceeed"/>
<rect x="337.95" y="688.2" width="13.75" height="18.6" fill="#eceeed"/>
<rect x="352.85" y="688.2" width="13.75" height="18.6" fill="#eceeed"/>
<rect x="367.75" y="688.2" width="13.75" height="18.6" fill="#eceeed"/>
<rect x="382.65" y="688.2" width="13.75" height="18.6" fill="#eceeed"/>
<rect x="397.55" y="688.2" width="13.75" height="18.6" fill="#eceeed"/>
<rect x="412.45" y="688.2" width="13.75" height="18.6" fill="#eceeed"/>
<rect x="427.35" y="688.2" width="13.75" height="18.6" fill="#eceeed"/>
<rect x="442.25" y="688.2" width="13.75" height="18.6" fill="#eceeed"/>
<rect x="457.15" y="688.2" width="13.75" height="18.6" fill="#eceeed"/>
<rect x="472.05" y="688.2" width="13.75" height="18.6" fill="#eceeed"/>
<rect x="486.95" y="688.2" width="13.75" height="18.6" fill="#eceeed"/>
<rect x="501.85" y="688.2" width="13.75" height="18.6" fill="#eceeed"/>
<rect x="516.75" y="688.2" width="13.75" height="18.6" fill="#eceeed"/>
<rect x="531.65" y="688.2" width="13.75" height="18.6" fill="#eceeed"/>
<rect x="546.55" y="688.2" width="13.75" height="18.6" fill="#eceeed"/>
<rect x="562.45" y="688.2" width="13.75" height="18.6" fill="#eceeed"/>
<rect x="577.35" y="688.2" width="13.75" height="18.6" fill="#eceeed"/>
<rect x="592.25" y="688.2" width="13.75" height="18.6" fill="#eceeed"/>
<rect x="608.15" y="688.2" width="13.75" height="18.6" fill="#eceeed"/>
<rect x="623.05" y="688.2" width="13.75" height="18.6" fill="#eceeed"/>
<rect x="637.95" y="688.2" width="13.75" height="18.6" fill="#eceeed"/>
<rect x="652.85" y="688.2" width="13.75" height="18.6" fill="#eceeed"/>
<rect x="667.75" y="688.2" width="13.75" height="18.6" fill="#eceeed"/>
<rect x="683.65" y="688.2" width="13.75" height="18.6" fill="#eceeed"/>
<rect x="698.55" y="688.2" width="13.75" height="18.6" fill="#eceeed"/>
<rect x="713.45" y="688.2" width="13.75" height="18.6" fill="#eceeed"/>
<rect x="728.35" y="688.2" width="13.75" height="18.6" fill="#eceeed"/>
<rect x="743.25" y="688.2" width="13.75" height="18.6" fill="#eceeed"/>
<rect x="758.15" y="688.2" width="13.75" height="18.6" fill="#eceeed"/>
<rect x="773.05" y="688.2" width="13.75" height="18.6" fill="#eceeed"/>
<rect x="787.95" y="688.2" width="13.75" height="18.6" fill="#eceeed"/>
<rect x="802.85" y="688.2" width="13.75" height="18.6" fill="#eceeed"/>
<rect x="817.75" y="688.2" width="13.75" height="18.6" fill="#eceeed"/>
<rect x="832.65" y="688.2" width="13.75" height="18.6" fill="#eceeed"/>
<rect x="848.55" y="688.2" width="13.75" height="18.6" fill="#eceeed"/>
<rect x="863.45" y="688.2" width="13.75" height="18.6" fill="#eceeed"/>
<rect x="878.35" y="688.2" width="13.75" height="18.6" fill="#eceeed"/>
<rect x="893.25" y="688.2" width="13.75" height="18.6" fill="#eceeed"/>
<rect x="908.15" y="688.2" width="13.75" height="18.6" fill="#eceeed"/>
<rect x="923.05" y="688.2" width="13.75" height="18.61" fill="#ee7e27"/>
<rect x="937.95" y="688.2" width="13.75" height="18.6" fill="#eceeed"/>
<rect x="953.85" y="688.2" width="13.75" height="18.6" fill="#eceeed"/>
<rect x="968.75" y="688.2" width="13.75" height="18.6" fill="#eceeed"/>
<rect x="983.65" y="688.2" width="13.75" height="18.6" fill="#eceeed"/>
<rect x="998.55" y="688.2" width="13.75" height="18.6" fill="#eceeed"/>
<rect x="1013.45" y="688.2" width="13.75" height="18.6" fill="#eceeed"/>
<rect x="1028.35" y="688.2" width="13.75" height="18.6" fill="#eceeed"/>
<rect x="1043.25" y="688.2" width="13.75" height="18.6" fill="#eceeed"/>
<rect x="1058.15" y="688.2" width="13.75" height="18.6" fill="#eceeed"/>
<rect x="144.25" y="708.8" width="13.75" height="18.6" fill="#eceeed"/>
<rect x="159.15" y="708.8" width="13.75" height="18.6" fill="#eceeed"/>
<rect x="174.05" y="708.8" width="13.75" height="18.6" fill="#eceeed"/>
<rect x="188.95" y="708.8" width="13.75" height="18.6" fill="#eceeed"/>
<rect x="203.85" y="708.8" width="13.75" height="18.6" fill="#eceeed"/>
<rect x="218.75" y="708.8" width="13.75" height="18.6" fill="#eceeed"/>
<rect x="233.65" y="708.8" width="13.75" height="18.6" fill="#eceeed"/>
<rect x="248.55" y="708.8" width="13.75" height="18.6" fill="#eceeed"/>
<rect x="263.45" y="708.8" width="13.75" height="18.6" fill="#eceeed"/>
<rect x="278.35" y="708.8" width="13.75" height="18.6" fill="#eceeed"/>
<rect x="293.25" y="708.8" width="13.75" height="18.6" fill="#eceeed"/>
<rect x="308.15" y="708.8" width="13.75" height="18.6" fill="#eceeed"/>
<rect x="323.05" y="708.8" width="13.75" height="18.6" fill="#eceeed"/>
<rect x="337.95" y="708.8" width="13.75" height="18.6" fill="#eceeed"/>
<rect x="352.85" y="708.8" width="13.75" height="18.6" fill="#eceeed"/>
<rect x="367.75" y="708.8" width="13.75" height="18.6" fill="#eceeed"/>
<rect x="382.65" y="708.8" width="13.75" height="18.6" fill="#eceeed"/>
<rect x="397.55" y="708.8" width="13.75" height="18.6" fill="#eceeed"/>
<rect x="412.45" y="708.8" width="13.75" height="18.6" fill="#eceeed"/>
<rect x="427.35" y="708.8" width="13.75" height="18.6" fill="#eceeed"/>
<rect x="442.25" y="708.8" width="13.75" height="18.6" fill="#eceeed"/>
<rect x="457.15" y="708.8" width="13.75" height="18.6" fill="#eceeed"/>
<rect x="472.05" y="708.8" width="13.75" height="18.6" fill="#eceeed"/>
<rect x="486.95" y="708.8" width="13.75" height="18.6" fill="#eceeed"/>
<rect x="501.85" y="708.8" width="13.75" height="18.6" fill="#eceeed"/>
<rect x="516.75" y="708.8" width="13.75" height="18.6" fill="#eceeed"/>
<rect x="531.65" y="708.8" width="13.75" height="18.6" fill="#eceeed"/>
<rect x="546.55" y="708.8" width="13.75" height="18.6" fill="#eceeed"/>
<rect x="562.45" y="708.8" width="13.75" height="18.61" fill="#3f83c0"/>
<rect x="577.35" y="708.8" width="13.75" height="18.6" fill="#eceeed"/>
<rect x="592.25" y="708.8" width="13.75" height="18.6" fill="#eceeed"/>
<rect x="608.15" y="708.8" width="13.75" height="18.6" fill="#eceeed"/>
<rect x="623.05" y="708.8" width="13.75" height="18.6" fill="#eceeed"/>
<rect x="637.95" y="708.8" width="13.75" height="18.6" fill="#eceeed"/>
<rect x="652.85" y="708.8" width="13.75" height="18.6" fill="#eceeed"/>
<rect x="667.75" y="708.8" width="13.75" height="18.6" fill="#eceeed"/>
<rect x="683.65" y="708.8" width="13.75" height="18.6" fill="#eceeed"/>
<rect x="698.55" y="708.8" width="13.75" height="18.6" fill="#eceeed"/>
<rect x="713.45" y="708.8" width="13.75" height="18.6" fill="#eceeed"/>
<rect x="728.35" y="708.8" width="13.75" height="18.6" fill="#eceeed"/>
<rect x="743.25" y="708.8" width="13.75" height="18.6" fill="#eceeed"/>
<rect x="758.15" y="708.8" width="13.75" height="18.6" fill="#eceeed"/>
<rect x="773.05" y="708.8" width="13.75" height="18.6" fill="#eceeed"/>
<rect x="787.95" y="708.8" width="13.75" height="18.6" fill="#eceeed"/>
<rect x="802.85" y="708.8" width="13.75" height="18.6" fill="#eceeed"/>
<rect x="817.75" y="708.8" width="13.75" height="18.6" fill="#eceeed"/>
<rect x="832.65" y="708.8" width="13.75" height="18.6" fill="#eceeed"/>
<rect x="848.55" y="708.8" width="13.75" height="18.6" fill="#eceeed"/>
<rect x="863.45" y="708.8" width="13.75" height="18.6" fill="#eceeed"/>
<rect x="878.35" y="708.8" width="13.75" height="18.6" fill="#eceeed"/>
<rect x="893.25" y="708.8" width="13.75" height="18.6" fill="#eceeed"/>
<rect x="908.15" y="708.8" width="13.75" height="18.6" fill="#eceeed"/>
<rect x="923.05" y="708.8" width="13.75" height="18.6" fill="#eceeed"/>
<rect x="937.95" y="708.8" width="13.75" height="18.6" fill="#eceeed"/>
<rect x="953.85" y="708.8" width="13.75" height="18.6" fill="#eceeed"/>
<rect x="968.75" y="708.8" width="13.75" height="18.6" fill="#eceeed"/>
<rect x="983.65" y="708.8" width="13.75" height="18.6" fill="#eceeed"/>
<rect x="998.55" y="708.8" width="13.75" height="18.6" fill="#eceeed"/>
<rect x="1013.45" y="708.8" width="13.75" height="18.6" fill="#eceeed"/>
<rect x="1028.35" y="708.8" width="13.75" height="18.6" fill="#eceeed"/>
<rect x="1043.25" y="708.8" width="13.75" height="18.6" fill="#eceeed"/>
<rect x="1058.15" y="708.8" width="13.75" height="18.6" fill="#eceeed"/>
<rect x="144.25" y="729.5" width="13.75" height="18.6" fill="#eceeed"/>
<rect x="159.15" y="729.5" width="13.75" height="18.6" fill="#eceeed"/>
<rect x="174.05" y="729.5" width="13.75" height="18.6" fill="#eceeed"/>
<rect x="188.95" y="729.5" width="13.75" height="18.6" fill="#eceeed"/>
<rect x="203.85" y="729.5" width="13.75" height="18.6" fill="#eceeed"/>
<rect x="218.75" y="729.5" width="13.75" height="18.6" fill="#eceeed"/>
<rect x="233.65" y="729.5" width="13.75" height="18.6" fill="#eceeed"/>
<rect x="248.55" y="729.5" width="13.75" height="18.6" fill="#eceeed"/>
<rect x="263.45" y="729.5" width="13.75" height="18.6" fill="#eceeed"/>
<rect x="278.35" y="729.5" width="13.75" height="18.6" fill="#eceeed"/>
<rect x="293.25" y="729.5" width="13.75" height="18.6" fill="#eceeed"/>
<rect x="308.15" y="729.5" width="13.75" height="18.6" fill="#eceeed"/>
<rect x="323.05" y="729.5" width="13.75" height="18.6" fill="#eceeed"/>
<rect x="337.95" y="729.5" width="13.75" height="18.6" fill="#eceeed"/>
<rect x="352.85" y="729.5" width="13.75" height="18.6" fill="#eceeed"/>
<rect x="367.75" y="729.5" width="13.75" height="18.6" fill="#eceeed"/>
<rect x="382.65" y="729.5" width="13.75" height="18.6" fill="#eceeed"/>
<rect x="397.55" y="729.5" width="13.75" height="18.6" fill="#eceeed"/>
<rect x="412.45" y="729.5" width="13.75" height="18.6" fill="#eceeed"/>
<rect x="427.35" y="729.5" width="13.75" height="18.6" fill="#eceeed"/>
<rect x="442.25" y="729.5" width="13.75" height="18.6" fill="#eceeed"/>
<rect x="457.15" y="729.5" width="13.75" height="18.6" fill="#eceeed"/>
<rect x="472.05" y="729.5" width="13.75" height="18.6" fill="#eceeed"/>
<rect x="486.95" y="729.5" width="13.75" height="18.6" fill="#eceeed"/>
<rect x="501.85" y="729.5" width="13.75" height="18.6" fill="#eceeed"/>
<rect x="516.75" y="729.5" width="13.75" height="18.6" fill="#eceeed"/>
<rect x="531.65" y="729.5" width="13.75" height="18.6" fill="#eceeed"/>
<rect x="546.55" y="729.5" width="13.75" height="18.6" fill="#eceeed"/>
<rect x="562.45" y="729.5" width="13.75" height="18.6" fill="#eceeed"/>
<rect x="577.35" y="729.5" width="13.75" height="18.6" fill="#eceeed"/>
<rect x="592.25" y="729.5" width="13.75" height="18.6" fill="#eceeed"/>
<rect x="608.15" y="729.5" width="13.75" height="18.6" fill="#eceeed"/>
<rect x="623.05" y="729.5" width="13.75" height="18.61" fill="#dc3d3f"/>
<rect x="637.95" y="729.5" width="13.75" height="18.6" fill="#eceeed"/>
<rect x="652.85" y="729.5" width="13.75" height="18.6" fill="#eceeed"/>
<rect x="667.75" y="729.5" width="13.75" height="18.6" fill="#eceeed"/>
<rect x="683.65" y="729.5" width="13.75" height="18.6" fill="#eceeed"/>
<rect x="698.55" y="729.5" width="13.75" height="18.6" fill="#eceeed"/>
<rect x="713.45" y="729.5" width="13.75" height="18.6" fill="#eceeed"/>
<rect x="728.35" y="729.5" width="13.75" height="18.6" fill="#eceeed"/>
<rect x="743.25" y="729.5" width="13.75" height="18.6" fill="#eceeed"/>
<rect x="758.15" y="729.5" width="13.75" height="18.6" fill="#eceeed"/>
<rect x="773.05" y="729.5" width="13.75" height="18.6" fill="#eceeed"/>
<rect x="787.95" y="729.5" width="13.75" height="18.6" fill="#eceeed"/>
<rect x="802.85" y="729.5" width="13.75" height="18.6" fill="#eceeed"/>
<rect x="817.75" y="729.5" width="13.75" height="18.6" fill="#eceeed"/>
<rect x="832.65" y="729.5" width="13.75" height="18.6" fill="#eceeed"/>
<rect x="848.55" y="729.5" width="13.75" height="18.61" fill="#dc3d3f"/>
<rect x="863.45" y="729.5" width="13.75" height="18.6" fill="#eceeed"/>
<rect x="878.35" y="729.5" width="13.75" height="18.6" fill="#eceeed"/>
<rect x="893.25" y="729.5" width="13.75" height="18.61" fill="#dc3d3f"/>
<rect x="908.15" y="729.5" width="13.75" height="18.6" fill="#eceeed"/>
<rect x="923.05" y="729.5" width="13.75" height="18.6" fill="#eceeed"/>
<rect x="937.95" y="729.5" width="13.75" height="18.6" fill="#eceeed"/>
<rect x="953.85" y="729.5" width="13.75" height="18.6" fill="#eceeed"/>
<rect x="968.75" y="729.5" width="13.75" height="18.6" fill="#eceeed"/>
<rect x="983.65" y="729.5" width="13.75" height="18.6" fill="#eceeed"/>
<rect x="998.55" y="729.5" width="13.75" height="18.6" fill="#eceeed"/>
<rect x="1013.45" y="729.5" width="13.75" height="18.6" fill="#eceeed"/>
<rect x="1028.35" y="729.5" width="13.75" height="18.61" fill="#dc3d3f"/>
<rect x="1043.25" y="729.5" width="13.75" height="18.6" fill="#eceeed"/>
<rect x="1058.15" y="729.5" width="13.75" height="18.6" fill="#eceeed"/>
<rect x="144.25" y="750" width="13.75" height="18.6" fill="#eceeed"/>
<rect x="159.15" y="750" width="13.75" height="18.6" fill="#eceeed"/>
<rect x="174.05" y="750" width="13.75" height="18.6" fill="#eceeed"/>
<rect x="188.95" y="750" width="13.75" height="18.6" fill="#eceeed"/>
<rect x="203.85" y="750" width="13.75" height="18.6" fill="#eceeed"/>
<rect x="218.75" y="750" width="13.75" height="18.6" fill="#eceeed"/>
<rect x="233.65" y="750" width="13.75" height="18.6" fill="#eceeed"/>
<rect x="248.55" y="750" width="13.75" height="18.6" fill="#eceeed"/>
<rect x="263.45" y="750" width="13.75" height="18.6" fill="#eceeed"/>
<rect x="278.35" y="750" width="13.75" height="18.6" fill="#eceeed"/>
<rect x="293.25" y="750" width="13.75" height="18.6" fill="#eceeed"/>
<rect x="308.15" y="750" width="13.75" height="18.6" fill="#eceeed"/>
<rect x="323.05" y="750" width="13.75" height="18.6" fill="#eceeed"/>
<rect x="337.95" y="750" width="13.75" height="18.6" fill="#eceeed"/>
<rect x="352.85" y="750" width="13.75" height="18.6" fill="#eceeed"/>
<rect x="367.75" y="750" width="13.75" height="18.6" fill="#eceeed"/>
<rect x="382.65" y="750" width="13.75" height="18.6" fill="#eceeed"/>
<rect x="397.55" y="750" width="13.75" height="18.6" fill="#eceeed"/>
<rect x="412.45" y="750" width="13.75" height="18.6" fill="#eceeed"/>
<rect x="427.35" y="750" width="13.75" height="18.6" fill="#eceeed"/>
<rect x="442.25" y="750" width="13.75" height="18.6" fill="#eceeed"/>
<rect x="457.15" y="750" width="13.75" height="18.6" fill="#eceeed"/>
<rect x="472.05" y="750" width="13.75" height="18.6" fill="#eceeed"/>
<rect x="486.95" y="750" width="13.75" height="18.6" fill="#eceeed"/>
<rect x="501.85" y="750" width="13.75" height="18.6" fill="#eceeed"/>
<rect x="516.75" y="750" width="13.75" height="18.6" fill="#eceeed"/>
<rect x="531.65" y="750" width="13.75" height="18.6" fill="#eceeed"/>
<rect x="546.55" y="750" width="13.75" height="18.6" fill="#eceeed"/>
<rect x="562.45" y="750" width="13.75" height="18.6" fill="#eceeed"/>
<rect x="577.35" y="750" width="13.75" height="18.6" fill="#eceeed"/>
<rect x="592.25" y="750" width="13.75" height="18.6" fill="#eceeed"/>
<rect x="608.15" y="750" width="13.75" height="18.6" fill="#eceeed"/>
<rect x="623.05" y="750" width="13.75" height="18.6" fill="#eceeed"/>
<rect x="637.95" y="750" width="13.75" height="18.6" fill="#eceeed"/>
<rect x="652.85" y="750" width="13.75" height="18.6" fill="#eceeed"/>
<rect x="667.75" y="750" width="13.75" height="18.6" fill="#eceeed"/>
<rect x="683.65" y="750" width="13.75" height="18.6" fill="#eceeed"/>
<rect x="698.55" y="750" width="13.75" height="18.6" fill="#eceeed"/>
<rect x="713.45" y="750" width="13.75" height="18.6" fill="#eceeed"/>
<rect x="728.35" y="750" width="13.75" height="18.6" fill="#eceeed"/>
<rect x="743.25" y="750" width="13.75" height="18.6" fill="#eceeed"/>
<rect x="758.15" y="750" width="13.75" height="18.6" fill="#eceeed"/>
<rect x="773.05" y="750" width="13.75" height="18.6" fill="#eceeed"/>
<rect x="787.95" y="750" width="13.75" height="18.6" fill="#eceeed"/>
<rect x="802.85" y="750" width="13.75" height="18.6" fill="#eceeed"/>
<rect x="817.75" y="750" width="13.75" height="18.6" fill="#eceeed"/>
<rect x="832.65" y="750" width="13.75" height="18.6" fill="#eceeed"/>
<rect x="848.55" y="750" width="13.75" height="18.6" fill="#eceeed"/>
<rect x="863.45" y="750" width="13.75" height="18.6" fill="#eceeed"/>
<rect x="878.35" y="750" width="13.75" height="18.61" fill="#3f83c0"/>
<rect x="893.25" y="750" width="13.75" height="18.61" fill="#3f83c0"/>
<rect x="908.15" y="750" width="13.75" height="18.6" fill="#eceeed"/>
<rect x="923.05" y="750" width="13.75" height="18.6" fill="#eceeed"/>
<rect x="937.95" y="750" width="13.75" height="18.6" fill="#eceeed"/>
<rect x="953.85" y="750" width="13.75" height="18.6" fill="#eceeed"/>
<rect x="968.75" y="750" width="13.75" height="18.6" fill="#eceeed"/>
<rect x="983.65" y="750" width="13.75" height="18.6" fill="#eceeed"/>
<rect x="998.55" y="750" width="13.75" height="18.6" fill="#eceeed"/>
<rect x="1013.45" y="750" width="13.75" height="18.6" fill="#eceeed"/>
<rect x="1028.35" y="750" width="13.75" height="18.61" fill="#3f83c0"/>
<rect x="1043.25" y="750" width="13.75" height="18.6" fill="#eceeed"/>
<rect x="1058.15" y="750" width="13.75" height="18.6" fill="#eceeed"/>
<rect x="144.25" y="770.5" width="13.75" height="18.6" fill="#eceeed"/>
<rect x="159.15" y="770.5" width="13.75" height="18.6" fill="#eceeed"/>
<rect x="174.05" y="770.5" width="13.75" height="18.6" fill="#eceeed"/>
<rect x="188.95" y="770.5" width="13.75" height="18.6" fill="#eceeed"/>
<rect x="203.85" y="770.5" width="13.75" height="18.6" fill="#eceeed"/>
<rect x="218.75" y="770.5" width="13.75" height="18.6" fill="#eceeed"/>
<rect x="233.65" y="770.5" width="13.75" height="18.6" fill="#eceeed"/>
<rect x="248.55" y="770.5" width="13.75" height="18.6" fill="#eceeed"/>
<rect x="263.45" y="770.5" width="13.75" height="18.6" fill="#eceeed"/>
<rect x="278.35" y="770.5" width="13.75" height="18.6" fill="#eceeed"/>
<rect x="293.25" y="770.5" width="13.75" height="18.6" fill="#eceeed"/>
<rect x="308.15" y="770.5" width="13.75" height="18.61" fill="#3f83c0"/>
<rect x="323.05" y="770.5" width="13.75" height="18.6" fill="#eceeed"/>
<rect x="337.95" y="770.5" width="13.75" height="18.6" fill="#eceeed"/>
<rect x="352.85" y="770.5" width="13.75" height="18.6" fill="#eceeed"/>
<rect x="367.75" y="770.5" width="13.75" height="18.6" fill="#eceeed"/>
<rect x="382.65" y="770.5" width="13.75" height="18.6" fill="#eceeed"/>
<rect x="397.55" y="770.5" width="13.75" height="18.6" fill="#eceeed"/>
<rect x="412.45" y="770.5" width="13.75" height="18.6" fill="#eceeed"/>
<rect x="427.35" y="770.5" width="13.75" height="18.6" fill="#eceeed"/>
<rect x="442.25" y="770.5" width="13.75" height="18.6" fill="#eceeed"/>
<rect x="457.15" y="770.5" width="13.75" height="18.6" fill="#eceeed"/>
<rect x="472.05" y="770.5" width="13.75" height="18.6" fill="#eceeed"/>
<rect x="486.95" y="770.5" width="13.75" height="18.6" fill="#eceeed"/>
<rect x="501.85" y="770.5" width="13.75" height="18.6" fill="#eceeed"/>
<rect x="516.75" y="770.5" width="13.75" height="18.6" fill="#eceeed"/>
<rect x="531.65" y="770.5" width="13.75" height="18.6" fill="#eceeed"/>
<rect x="546.55" y="770.5" width="13.75" height="18.6" fill="#eceeed"/>
<rect x="562.45" y="770.5" width="13.75" height="18.6" fill="#eceeed"/>
<rect x="577.35" y="770.5" width="13.75" height="18.6" fill="#eceeed"/>
<rect x="592.25" y="770.5" width="13.75" height="18.6" fill="#eceeed"/>
<rect x="608.15" y="770.5" width="13.75" height="18.6" fill="#eceeed"/>
<rect x="623.05" y="770.5" width="13.75" height="18.6" fill="#eceeed"/>
<rect x="637.95" y="770.5" width="13.75" height="18.6" fill="#eceeed"/>
<rect x="652.85" y="770.5" width="13.75" height="18.6" fill="#eceeed"/>
<rect x="667.75" y="770.5" width="13.75" height="18.6" fill="#eceeed"/>
<rect x="683.65" y="770.5" width="13.75" height="18.6" fill="#eceeed"/>
<rect x="698.55" y="770.5" width="13.75" height="18.6" fill="#eceeed"/>
<rect x="713.45" y="770.5" width="13.75" height="18.6" fill="#eceeed"/>
<rect x="728.35" y="770.5" width="13.75" height="18.6" fill="#eceeed"/>
<rect x="743.25" y="770.5" width="13.75" height="18.6" fill="#eceeed"/>
<rect x="758.15" y="770.5" width="13.75" height="18.6" fill="#eceeed"/>
<rect x="773.05" y="770.5" width="13.75" height="18.6" fill="#eceeed"/>
<rect x="787.95" y="770.5" width="13.75" height="18.6" fill="#eceeed"/>
<rect x="802.85" y="770.5" width="13.75" height="18.6" fill="#eceeed"/>
<rect x="817.75" y="770.5" width="13.75" height="18.61" fill="#3f83c0"/>
<rect x="832.65" y="770.5" width="13.75" height="18.6" fill="#eceeed"/>
<rect x="848.55" y="770.5" width="13.75" height="18.6" fill="#eceeed"/>
<rect x="863.45" y="770.5" width="13.75" height="18.6" fill="#eceeed"/>
<rect x="878.35" y="770.5" width="13.75" height="18.6" fill="#eceeed"/>
<rect x="893.25" y="770.5" width="13.75" height="18.6" fill="#eceeed"/>
<rect x="908.15" y="770.5" width="13.75" height="18.6" fill="#eceeed"/>
<rect x="923.05" y="770.5" width="13.75" height="18.6" fill="#eceeed"/>
<rect x="937.95" y="770.5" width="13.75" height="18.6" fill="#eceeed"/>
<rect x="953.85" y="770.5" width="13.75" height="18.6" fill="#eceeed"/>
<rect x="968.75" y="770.5" width="13.75" height="18.6" fill="#eceeed"/>
<rect x="983.65" y="770.5" width="13.75" height="18.6" fill="#eceeed"/>
<rect x="998.55" y="770.5" width="13.75" height="18.6" fill="#eceeed"/>
<rect x="1013.45" y="770.5" width="13.75" height="18.6" fill="#eceeed"/>
<rect x="1028.35" y="770.5" width="13.75" height="18.6" fill="#eceeed"/>
<rect x="1043.25" y="770.5" width="13.75" height="18.6" fill="#eceeed"/>
<rect x="1058.15" y="770.5" width="13.75" height="18.6" fill="#eceeed"/>
<rect x="144.25" y="791" width="13.75" height="18.6" fill="#eceeed"/>
<rect x="159.15" y="791" width="13.75" height="18.6" fill="#eceeed"/>
<rect x="174.05" y="791" width="13.75" height="18.6" fill="#eceeed"/>
<rect x="188.95" y="791" width="13.75" height="18.6" fill="#eceeed"/>
<rect x="203.85" y="791" width="13.75" height="18.6" fill="#eceeed"/>
<rect x="218.75" y="791" width="13.75" height="18.6" fill="#eceeed"/>
<rect x="233.65" y="791" width="13.75" height="18.6" fill="#eceeed"/>
<rect x="248.55" y="791" width="13.75" height="18.6" fill="#eceeed"/>
<rect x="263.45" y="791" width="13.75" height="18.6" fill="#eceeed"/>
<rect x="278.35" y="791" width="13.75" height="18.6" fill="#eceeed"/>
<rect x="293.25" y="791" width="13.75" height="18.6" fill="#eceeed"/>
<rect x="308.15" y="791" width="13.75" height="18.6" fill="#eceeed"/>
<rect x="323.05" y="791" width="13.75" height="18.6" fill="#eceeed"/>
<rect x="337.95" y="791" width="13.75" height="18.6" fill="#eceeed"/>
<rect x="352.85" y="791" width="13.75" height="18.6" fill="#eceeed"/>
<rect x="367.75" y="791" width="13.75" height="18.6" fill="#eceeed"/>
<rect x="382.65" y="791" width="13.75" height="18.6" fill="#eceeed"/>
<rect x="397.55" y="791" width="13.75" height="18.6" fill="#eceeed"/>
<rect x="412.45" y="791" width="13.75" height="18.6" fill="#eceeed"/>
<rect x="427.35" y="791" width="13.75" height="18.6" fill="#eceeed"/>
<rect x="442.25" y="791" width="13.75" height="18.6" fill="#eceeed"/>
<rect x="457.15" y="791" width="13.75" height="18.6" fill="#eceeed"/>
<rect x="472.05" y="791" width="13.75" height="18.6" fill="#eceeed"/>
<rect x="486.95" y="791" width="13.75" height="18.6" fill="#eceeed"/>
<rect x="501.85" y="791" width="13.75" height="18.6" fill="#eceeed"/>
<rect x="516.75" y="791" width="13.75" height="18.6" fill="#eceeed"/>
<rect x="531.65" y="791" width="13.75" height="18.6" fill="#eceeed"/>
<rect x="546.55" y="791" width="13.75" height="18.6" fill="#eceeed"/>
<rect x="562.45" y="791" width="13.75" height="18.6" fill="#eceeed"/>
<rect x="577.35" y="791" width="13.75" height="18.6" fill="#eceeed"/>
<rect x="592.25" y="791" width="13.75" height="18.6" fill="#eceeed"/>
<rect x="608.15" y="791" width="13.75" height="18.6" fill="#eceeed"/>
<rect x="623.05" y="791" width="13.75" height="18.6" fill="#eceeed"/>
<rect x="637.95" y="791" width="13.75" height="18.6" fill="#eceeed"/>
<rect x="652.85" y="791" width="13.75" height="18.6" fill="#eceeed"/>
<rect x="667.75" y="791" width="13.75" height="18.6" fill="#eceeed"/>
<rect x="683.65" y="791" width="13.75" height="18.6" fill="#eceeed"/>
<rect x="698.55" y="791" width="13.75" height="18.6" fill="#eceeed"/>
<rect x="713.45" y="791" width="13.75" height="18.6" fill="#eceeed"/>
<rect x="728.35" y="791" width="13.75" height="18.6" fill="#eceeed"/>
<rect x="743.25" y="791" width="13.75" height="18.6" fill="#eceeed"/>
<rect x="758.15" y="791" width="13.75" height="18.6" fill="#eceeed"/>
<rect x="773.05" y="791" width="13.75" height="18.6" fill="#eceeed"/>
<rect x="787.95" y="791" width="13.75" height="18.6" fill="#eceeed"/>
<rect x="802.85" y="791" width="13.75" height="18.6" fill="#eceeed"/>
<rect x="817.75" y="791" width="13.75" height="18.61" fill="#3f83c0"/>
<rect x="832.65" y="791" width="13.75" height="18.6" fill="#eceeed"/>
<rect x="848.55" y="791" width="13.75" height="18.6" fill="#eceeed"/>
<rect x="863.45" y="791" width="13.75" height="18.6" fill="#eceeed"/>
<rect x="878.35" y="791" width="13.75" height="18.6" fill="#eceeed"/>
<rect x="893.25" y="791" width="13.75" height="18.6" fill="#eceeed"/>
<rect x="908.15" y="791" width="13.75" height="18.6" fill="#eceeed"/>
<rect x="923.05" y="791" width="13.75" height="18.61" fill="#dc3d3f"/>
<rect x="937.95" y="791" width="13.75" height="18.6" fill="#eceeed"/>
<rect x="953.85" y="791" width="13.75" height="18.6" fill="#eceeed"/>
<rect x="968.75" y="791" width="13.75" height="18.6" fill="#eceeed"/>
<rect x="983.65" y="791" width="13.75" height="18.6" fill="#eceeed"/>
<rect x="998.55" y="791" width="13.75" height="18.6" fill="#eceeed"/>
<rect x="1013.45" y="791" width="13.75" height="18.6" fill="#eceeed"/>
<rect x="1028.35" y="791" width="13.75" height="18.6" fill="#eceeed"/>
<rect x="1043.25" y="791" width="13.75" height="18.6" fill="#eceeed"/>
<rect x="1058.15" y="791" width="13.75" height="18.6" fill="#eceeed"/>
<rect x="144.25" y="811.5" width="13.75" height="18.6" fill="#eceeed"/>
<rect x="159.15" y="811.5" width="13.75" height="18.6" fill="#eceeed"/>
<rect x="174.05" y="811.5" width="13.75" height="18.6" fill="#eceeed"/>
<rect x="188.95" y="811.5" width="13.75" height="18.6" fill="#eceeed"/>
<rect x="203.85" y="811.5" width="13.75" height="18.6" fill="#eceeed"/>
<rect x="218.75" y="811.5" width="13.75" height="18.6" fill="#eceeed"/>
<rect x="233.65" y="811.5" width="13.75" height="18.6" fill="#eceeed"/>
<rect x="248.55" y="811.5" width="13.75" height="18.6" fill="#eceeed"/>
<rect x="263.45" y="811.5" width="13.75" height="18.6" fill="#eceeed"/>
<rect x="278.35" y="811.5" width="13.75" height="18.6" fill="#eceeed"/>
<rect x="293.25" y="811.5" width="13.75" height="18.6" fill="#eceeed"/>
<rect x="308.15" y="811.5" width="13.75" height="18.6" fill="#eceeed"/>
<rect x="323.05" y="811.5" width="13.75" height="18.6" fill="#eceeed"/>
<rect x="337.95" y="811.5" width="13.75" height="18.6" fill="#eceeed"/>
<rect x="352.85" y="811.5" width="13.75" height="18.6" fill="#eceeed"/>
<rect x="367.75" y="811.5" width="13.75" height="18.6" fill="#eceeed"/>
<rect x="382.65" y="811.5" width="13.75" height="18.6" fill="#eceeed"/>
<rect x="397.55" y="811.5" width="13.75" height="18.6" fill="#eceeed"/>
<rect x="412.45" y="811.5" width="13.75" height="18.6" fill="#eceeed"/>
<rect x="427.35" y="811.5" width="13.75" height="18.6" fill="#eceeed"/>
<rect x="442.25" y="811.5" width="13.75" height="18.6" fill="#eceeed"/>
<rect x="457.15" y="811.5" width="13.75" height="18.6" fill="#eceeed"/>
<rect x="472.05" y="811.5" width="13.75" height="18.6" fill="#eceeed"/>
<rect x="486.95" y="811.5" width="13.75" height="18.6" fill="#eceeed"/>
<rect x="501.85" y="811.5" width="13.75" height="18.6" fill="#eceeed"/>
<rect x="516.75" y="811.5" width="13.75" height="18.6" fill="#eceeed"/>
<rect x="531.65" y="811.5" width="13.75" height="18.6" fill="#eceeed"/>
<rect x="546.55" y="811.5" width="13.75" height="18.6" fill="#eceeed"/>
<rect x="562.45" y="811.5" width="13.75" height="18.6" fill="#eceeed"/>
<rect x="577.35" y="811.5" width="13.75" height="18.6" fill="#eceeed"/>
<rect x="592.25" y="811.5" width="13.75" height="18.6" fill="#eceeed"/>
<rect x="608.15" y="811.5" width="13.75" height="18.6" fill="#eceeed"/>
<rect x="623.05" y="811.5" width="13.75" height="18.6" fill="#eceeed"/>
<rect x="637.95" y="811.5" width="13.75" height="18.6" fill="#eceeed"/>
<rect x="652.85" y="811.5" width="13.75" height="18.6" fill="#eceeed"/>
<rect x="667.75" y="811.5" width="13.75" height="18.6" fill="#eceeed"/>
<rect x="683.65" y="811.5" width="13.75" height="18.6" fill="#eceeed"/>
<rect x="698.55" y="811.5" width="13.75" height="18.6" fill="#eceeed"/>
<rect x="713.45" y="811.5" width="13.75" height="18.6" fill="#eceeed"/>
<rect x="728.35" y="811.5" width="13.75" height="18.6" fill="#eceeed"/>
<rect x="743.25" y="811.5" width="13.75" height="18.6" fill="#eceeed"/>
<rect x="758.15" y="811.5" width="13.75" height="18.6" fill="#eceeed"/>
<rect x="773.05" y="811.5" width="13.75" height="18.6" fill="#eceeed"/>
<rect x="787.95" y="811.5" width="13.75" height="18.61" fill="#3f83c0"/>
<rect x="802.85" y="811.5" width="13.75" height="18.6" fill="#eceeed"/>
<rect x="817.75" y="811.5" width="13.75" height="18.6" fill="#eceeed"/>
<rect x="832.65" y="811.5" width="13.75" height="18.6" fill="#eceeed"/>
<rect x="848.55" y="811.5" width="13.75" height="18.6" fill="#eceeed"/>
<rect x="863.45" y="811.5" width="13.75" height="18.6" fill="#eceeed"/>
<rect x="878.35" y="811.5" width="13.75" height="18.61" fill="#9467b0"/>
<rect x="893.25" y="811.5" width="13.75" height="18.6" fill="#eceeed"/>
<rect x="908.15" y="811.5" width="13.75" height="18.6" fill="#eceeed"/>
<rect x="923.05" y="811.5" width="13.75" height="18.6" fill="#eceeed"/>
<rect x="937.95" y="811.5" width="13.75" height="18.6" fill="#eceeed"/>
<rect x="953.85" y="811.5" width="13.75" height="18.6" fill="#eceeed"/>
<rect x="968.75" y="811.5" width="13.75" height="18.6" fill="#eceeed"/>
<rect x="983.65" y="811.5" width="13.75" height="18.6" fill="#eceeed"/>
<rect x="998.55" y="811.5" width="13.75" height="18.6" fill="#eceeed"/>
<rect x="1013.45" y="811.5" width="13.75" height="18.61" fill="#3f83c0"/>
<rect x="1028.35" y="811.5" width="13.75" height="18.6" fill="#eceeed"/>
<rect x="1043.25" y="811.5" width="13.75" height="18.6" fill="#eceeed"/>
<rect x="1058.15" y="811.5" width="13.75" height="18.6" fill="#eceeed"/>
<rect x="144.25" y="832" width="13.75" height="18.6" fill="#eceeed"/>
<rect x="159.15" y="832" width="13.75" height="18.6" fill="#eceeed"/>
<rect x="174.05" y="832" width="13.75" height="18.6" fill="#eceeed"/>
<rect x="188.95" y="832" width="13.75" height="18.6" fill="#eceeed"/>
<rect x="203.85" y="832" width="13.75" height="18.6" fill="#eceeed"/>
<rect x="218.75" y="832" width="13.75" height="18.6" fill="#eceeed"/>
<rect x="233.65" y="832" width="13.75" height="18.6" fill="#eceeed"/>
<rect x="248.55" y="832" width="13.75" height="18.6" fill="#eceeed"/>
<rect x="263.45" y="832" width="13.75" height="18.6" fill="#eceeed"/>
<rect x="278.35" y="832" width="13.75" height="18.6" fill="#eceeed"/>
<rect x="293.25" y="832" width="13.75" height="18.6" fill="#eceeed"/>
<rect x="308.15" y="832" width="13.75" height="18.6" fill="#eceeed"/>
<rect x="323.05" y="832" width="13.75" height="18.6" fill="#eceeed"/>
<rect x="337.95" y="832" width="13.75" height="18.6" fill="#eceeed"/>
<rect x="352.85" y="832" width="13.75" height="18.6" fill="#eceeed"/>
<rect x="367.75" y="832" width="13.75" height="18.6" fill="#eceeed"/>
<rect x="382.65" y="832" width="13.75" height="18.61" fill="#dc3d3f"/>
<rect x="397.55" y="832" width="13.75" height="18.6" fill="#eceeed"/>
<rect x="412.45" y="832" width="13.75" height="18.6" fill="#eceeed"/>
<rect x="427.35" y="832" width="13.75" height="18.6" fill="#eceeed"/>
<rect x="442.25" y="832" width="13.75" height="18.6" fill="#eceeed"/>
<rect x="457.15" y="832" width="13.75" height="18.6" fill="#eceeed"/>
<rect x="472.05" y="832" width="13.75" height="18.6" fill="#eceeed"/>
<rect x="486.95" y="832" width="13.75" height="18.6" fill="#eceeed"/>
<rect x="501.85" y="832" width="13.75" height="18.6" fill="#eceeed"/>
<rect x="516.75" y="832" width="13.75" height="18.6" fill="#eceeed"/>
<rect x="531.65" y="832" width="13.75" height="18.6" fill="#eceeed"/>
<rect x="546.55" y="832" width="13.75" height="18.6" fill="#eceeed"/>
<rect x="562.45" y="832" width="13.75" height="18.6" fill="#eceeed"/>
<rect x="577.35" y="832" width="13.75" height="18.6" fill="#eceeed"/>
<rect x="592.25" y="832" width="13.75" height="18.6" fill="#eceeed"/>
<rect x="608.15" y="832" width="13.75" height="18.6" fill="#eceeed"/>
<rect x="623.05" y="832" width="13.75" height="18.6" fill="#eceeed"/>
<rect x="637.95" y="832" width="13.75" height="18.6" fill="#eceeed"/>
<rect x="652.85" y="832" width="13.75" height="18.6" fill="#eceeed"/>
<rect x="667.75" y="832" width="13.75" height="18.6" fill="#eceeed"/>
<rect x="683.65" y="832" width="13.75" height="18.6" fill="#eceeed"/>
<rect x="698.55" y="832" width="13.75" height="18.6" fill="#eceeed"/>
<rect x="713.45" y="832" width="13.75" height="18.6" fill="#eceeed"/>
<rect x="728.35" y="832" width="13.75" height="18.6" fill="#eceeed"/>
<rect x="743.25" y="832" width="13.75" height="18.6" fill="#eceeed"/>
<rect x="758.15" y="832" width="13.75" height="18.6" fill="#eceeed"/>
<rect x="773.05" y="832" width="13.75" height="18.6" fill="#eceeed"/>
<rect x="787.95" y="832" width="13.75" height="18.6" fill="#eceeed"/>
<rect x="802.85" y="832" width="13.75" height="18.6" fill="#eceeed"/>
<rect x="817.75" y="832" width="13.75" height="18.6" fill="#eceeed"/>
<rect x="832.65" y="832" width="13.75" height="18.6" fill="#eceeed"/>
<rect x="848.55" y="832" width="13.75" height="18.6" fill="#eceeed"/>
<rect x="863.45" y="832" width="13.75" height="18.6" fill="#eceeed"/>
<rect x="878.35" y="832" width="13.75" height="18.6" fill="#eceeed"/>
<rect x="893.25" y="832" width="13.75" height="18.6" fill="#eceeed"/>
<rect x="908.15" y="832" width="13.75" height="18.6" fill="#eceeed"/>
<rect x="923.05" y="832" width="13.75" height="18.6" fill="#eceeed"/>
<rect x="937.95" y="832" width="13.75" height="18.6" fill="#eceeed"/>
<rect x="953.85" y="832" width="13.75" height="18.6" fill="#eceeed"/>
<rect x="968.75" y="832" width="13.75" height="18.6" fill="#eceeed"/>
<rect x="983.65" y="832" width="13.75" height="18.6" fill="#eceeed"/>
<rect x="998.55" y="832" width="13.75" height="18.6" fill="#eceeed"/>
<rect x="1013.45" y="832" width="13.75" height="18.6" fill="#eceeed"/>
<rect x="1028.35" y="832" width="13.75" height="18.6" fill="#eceeed"/>
<rect x="1043.25" y="832" width="13.75" height="18.6" fill="#eceeed"/>
<rect x="1058.15" y="832" width="13.75" height="18.6" fill="#eceeed"/>
<rect x="144.25" y="853.7" width="13.75" height="18.6" fill="#eceeed"/>
<rect x="159.15" y="853.7" width="13.75" height="18.6" fill="#eceeed"/>
<rect x="174.05" y="853.7" width="13.75" height="18.6" fill="#eceeed"/>
<rect x="188.95" y="853.7" width="13.75" height="18.6" fill="#eceeed"/>
<rect x="203.85" y="853.7" width="13.75" height="18.6" fill="#eceeed"/>
<rect x="218.75" y="853.7" width="13.75" height="18.6" fill="#eceeed"/>
<rect x="233.65" y="853.7" width="13.75" height="18.6" fill="#eceeed"/>
<rect x="248.55" y="853.7" width="13.75" height="18.6" fill="#eceeed"/>
<rect x="263.45" y="853.7" width="13.75" height="18.6" fill="#eceeed"/>
<rect x="278.35" y="853.7" width="13.75" height="18.6" fill="#eceeed"/>
<rect x="293.25" y="853.7" width="13.75" height="18.6" fill="#eceeed"/>
<rect x="308.15" y="853.7" width="13.75" height="18.6" fill="#eceeed"/>
<rect x="323.05" y="853.7" width="13.75" height="8.38" fill="#3f83c0"/>
<rect x="323.05" y="862.07" width="13.75" height="10.24" fill="#355a26"/>
<rect x="337.95" y="853.7" width="13.75" height="18.61" fill="#355a26"/>
<rect x="352.85" y="853.7" width="13.75" height="18.6" fill="#eceeed"/>
<rect x="367.75" y="853.7" width="13.75" height="18.6" fill="#eceeed"/>
<rect x="382.65" y="853.7" width="13.75" height="18.61" fill="#ee7e27"/>
<rect x="397.55" y="853.7" width="13.75" height="18.6" fill="#eceeed"/>
<rect x="412.45" y="853.7" width="13.75" height="18.6" fill="#eceeed"/>
<rect x="427.35" y="853.7" width="13.75" height="18.6" fill="#eceeed"/>
<rect x="442.25" y="853.7" width="13.75" height="18.6" fill="#eceeed"/>
<rect x="457.15" y="853.7" width="13.75" height="18.6" fill="#eceeed"/>
<rect x="472.05" y="853.7" width="13.75" height="18.6" fill="#eceeed"/>
<rect x="486.95" y="853.7" width="13.75" height="18.6" fill="#eceeed"/>
<rect x="501.85" y="853.7" width="13.75" height="18.6" fill="#eceeed"/>
<rect x="516.75" y="853.7" width="13.75" height="18.6" fill="#eceeed"/>
<rect x="531.65" y="853.7" width="13.75" height="18.6" fill="#eceeed"/>
<rect x="546.55" y="853.7" width="13.75" height="18.6" fill="#eceeed"/>
<rect x="562.45" y="853.7" width="13.75" height="18.6" fill="#eceeed"/>
<rect x="577.35" y="853.7" width="13.75" height="18.6" fill="#eceeed"/>
<rect x="592.25" y="853.7" width="13.75" height="18.6" fill="#eceeed"/>
<rect x="608.15" y="853.7" width="13.75" height="18.6" fill="#eceeed"/>
<rect x="623.05" y="853.7" width="13.75" height="18.6" fill="#eceeed"/>
<rect x="637.95" y="853.7" width="13.75" height="18.6" fill="#eceeed"/>
<rect x="652.85" y="853.7" width="13.75" height="18.6" fill="#eceeed"/>
<rect x="667.75" y="853.7" width="13.75" height="18.61" fill="#355a26"/>
<rect x="683.65" y="853.7" width="13.75" height="18.6" fill="#eceeed"/>
<rect x="698.55" y="853.7" width="13.75" height="18.6" fill="#eceeed"/>
<rect x="713.45" y="853.7" width="13.75" height="18.6" fill="#eceeed"/>
<rect x="728.35" y="853.7" width="13.75" height="18.6" fill="#eceeed"/>
<rect x="743.25" y="853.7" width="13.75" height="18.6" fill="#eceeed"/>
<rect x="758.15" y="853.7" width="13.75" height="18.6" fill="#eceeed"/>
<rect x="773.05" y="853.7" width="13.75" height="18.6" fill="#eceeed"/>
<rect x="787.95" y="853.7" width="13.75" height="18.6" fill="#eceeed"/>
<rect x="802.85" y="853.7" width="13.75" height="18.6" fill="#eceeed"/>
<rect x="817.75" y="853.7" width="13.75" height="18.61" fill="#dc3d3f"/>
<rect x="832.65" y="853.7" width="13.75" height="18.6" fill="#eceeed"/>
<rect x="848.55" y="853.7" width="13.75" height="18.6" fill="#eceeed"/>
<rect x="863.45" y="853.7" width="13.75" height="18.6" fill="#eceeed"/>
<rect x="878.35" y="853.7" width="13.75" height="18.61" fill="#3f83c0"/>
<rect x="893.25" y="853.7" width="13.75" height="18.6" fill="#eceeed"/>
<rect x="908.15" y="853.7" width="13.75" height="18.61" fill="#ee7e27"/>
<rect x="923.05" y="853.7" width="13.75" height="18.6" fill="#eceeed"/>
<rect x="937.95" y="853.7" width="13.75" height="18.61" fill="#3f83c0"/>
<rect x="953.85" y="853.7" width="13.75" height="18.6" fill="#eceeed"/>
<rect x="968.75" y="853.7" width="13.75" height="18.6" fill="#eceeed"/>
<rect x="983.65" y="853.7" width="13.75" height="18.61" fill="#dc3d3f"/>
<rect x="998.55" y="853.7" width="13.75" height="18.6" fill="#eceeed"/>
<rect x="1013.45" y="853.7" width="13.75" height="18.6" fill="#eceeed"/>
<rect x="1028.35" y="853.7" width="13.75" height="18.61" fill="#ee7e27"/>
<rect x="1043.25" y="853.7" width="13.75" height="18.6" fill="#eceeed"/>
<rect x="1058.15" y="853.7" width="13.75" height="18.6" fill="#eceeed"/>
<rect x="144.25" y="874.13" width="13.75" height="18.6" fill="#eceeed"/>
<rect x="159.15" y="874.13" width="13.75" height="18.6" fill="#eceeed"/>
<rect x="174.05" y="874.13" width="13.75" height="18.6" fill="#eceeed"/>
<rect x="188.95" y="874.13" width="13.75" height="18.6" fill="#eceeed"/>
<rect x="203.85" y="874.13" width="13.75" height="18.6" fill="#eceeed"/>
<rect x="218.75" y="874.13" width="13.75" height="18.6" fill="#eceeed"/>
<rect x="233.65" y="874.13" width="13.75" height="18.6" fill="#eceeed"/>
<rect x="248.55" y="874.13" width="13.75" height="18.6" fill="#eceeed"/>
<rect x="263.45" y="874.13" width="13.75" height="18.6" fill="#eceeed"/>
<rect x="278.35" y="874.13" width="13.75" height="9.31" fill="#dc3d3f"/>
<rect x="278.35" y="883.43" width="13.75" height="9.31" fill="#3f83c0"/>
<rect x="293.25" y="874.13" width="13.75" height="18.6" fill="#eceeed"/>
<rect x="308.15" y="874.13" width="13.75" height="18.6" fill="#eceeed"/>
<rect x="323.05" y="874.13" width="13.75" height="18.6" fill="#eceeed"/>
<rect x="337.95" y="874.13" width="13.75" height="18.6" fill="#eceeed"/>
<rect x="352.85" y="874.13" width="13.75" height="18.6" fill="#eceeed"/>
<rect x="367.75" y="874.13" width="13.75" height="18.61" fill="#ee7e27"/>
<rect x="382.65" y="874.13" width="13.75" height="18.6" fill="#eceeed"/>
<rect x="397.55" y="874.13" width="13.75" height="18.6" fill="#eceeed"/>
<rect x="412.45" y="874.13" width="13.75" height="18.6" fill="#eceeed"/>
<rect x="427.35" y="874.13" width="13.75" height="18.6" fill="#eceeed"/>
<rect x="442.25" y="874.13" width="13.75" height="18.6" fill="#eceeed"/>
<rect x="457.15" y="874.13" width="13.75" height="18.6" fill="#eceeed"/>
<rect x="472.05" y="874.13" width="13.75" height="18.6" fill="#eceeed"/>
<rect x="486.95" y="874.13" width="13.75" height="18.6" fill="#eceeed"/>
<rect x="501.85" y="874.13" width="13.75" height="18.6" fill="#eceeed"/>
<rect x="516.75" y="874.13" width="13.75" height="18.6" fill="#eceeed"/>
<rect x="531.65" y="874.13" width="13.75" height="18.6" fill="#eceeed"/>
<rect x="546.55" y="874.13" width="13.75" height="18.6" fill="#eceeed"/>
<rect x="562.45" y="874.13" width="13.75" height="18.6" fill="#eceeed"/>
<rect x="577.35" y="874.13" width="13.75" height="9.31" fill="#dc3d3f"/>
<rect x="577.35" y="883.43" width="13.75" height="9.31" fill="#ee7e27"/>
<rect x="592.25" y="874.13" width="13.75" height="18.6" fill="#eceeed"/>
<rect x="608.15" y="874.13" width="13.75" height="18.6" fill="#eceeed"/>
<rect x="623.05" y="874.13" width="13.75" height="18.6" fill="#eceeed"/>
<rect x="637.95" y="874.13" width="13.75" height="18.6" fill="#eceeed"/>
<rect x="652.85" y="874.13" width="13.75" height="18.61" fill="#dc3d3f"/>
<rect x="667.75" y="874.13" width="13.75" height="18.6" fill="#eceeed"/>
<rect x="683.65" y="874.13" width="13.75" height="18.6" fill="#eceeed"/>
<rect x="698.55" y="874.13" width="13.75" height="18.6" fill="#eceeed"/>
<rect x="713.45" y="874.13" width="13.75" height="18.6" fill="#eceeed"/>
<rect x="728.35" y="874.13" width="13.75" height="18.6" fill="#eceeed"/>
<rect x="743.25" y="874.13" width="13.75" height="18.6" fill="#eceeed"/>
<rect x="758.15" y="874.13" width="13.75" height="18.6" fill="#eceeed"/>
<rect x="773.05" y="874.13" width="13.75" height="18.6" fill="#eceeed"/>
<rect x="787.95" y="874.13" width="13.75" height="18.6" fill="#eceeed"/>
<rect x="802.85" y="874.13" width="13.75" height="18.6" fill="#eceeed"/>
<rect x="817.75" y="874.13" width="13.75" height="18.6" fill="#eceeed"/>
<rect x="832.65" y="874.13" width="13.75" height="18.6" fill="#eceeed"/>
<rect x="848.55" y="874.13" width="13.75" height="18.6" fill="#eceeed"/>
<rect x="863.45" y="874.13" width="13.75" height="18.6" fill="#eceeed"/>
<rect x="878.35" y="874.13" width="13.75" height="18.6" fill="#eceeed"/>
<rect x="893.25" y="874.13" width="13.75" height="18.6" fill="#eceeed"/>
<rect x="908.15" y="874.13" width="13.75" height="18.6" fill="#eceeed"/>
<rect x="923.05" y="874.13" width="13.75" height="18.61" fill="#dc3d3f"/>
<rect x="937.95" y="874.13" width="13.75" height="18.6" fill="#eceeed"/>
<rect x="953.85" y="874.13" width="13.75" height="18.6" fill="#eceeed"/>
<rect x="968.75" y="874.13" width="13.75" height="18.6" fill="#eceeed"/>
<rect x="983.65" y="874.13" width="13.75" height="18.61" fill="#dc3d3f"/>
<rect x="998.55" y="874.13" width="13.75" height="18.6" fill="#eceeed"/>
<rect x="1013.45" y="874.13" width="13.75" height="18.6" fill="#eceeed"/>
<rect x="1028.35" y="874.13" width="13.75" height="18.6" fill="#eceeed"/>
<rect x="1043.25" y="874.13" width="13.75" height="18.6" fill="#eceeed"/>
<rect x="1058.15" y="874.13" width="13.75" height="18.6" fill="#eceeed"/>
<rect x="144.25" y="894.56" width="13.75" height="18.6" fill="#eceeed"/>
<rect x="159.15" y="894.56" width="13.75" height="18.6" fill="#eceeed"/>
<rect x="174.05" y="894.56" width="13.75" height="18.6" fill="#eceeed"/>
<rect x="188.95" y="894.56" width="13.75" height="18.6" fill="#eceeed"/>
<rect x="203.85" y="894.56" width="13.75" height="18.6" fill="#eceeed"/>
<rect x="218.75" y="894.56" width="13.75" height="18.6" fill="#eceeed"/>
<rect x="233.65" y="894.56" width="13.75" height="18.6" fill="#eceeed"/>
<rect x="248.55" y="894.56" width="13.75" height="18.6" fill="#eceeed"/>
<rect x="263.45" y="894.56" width="13.75" height="18.6" fill="#eceeed"/>
<rect x="278.35" y="894.56" width="13.75" height="18.6" fill="#eceeed"/>
<rect x="293.25" y="894.56" width="13.75" height="18.6" fill="#eceeed"/>
<rect x="308.15" y="894.56" width="13.75" height="18.6" fill="#eceeed"/>
<rect x="323.05" y="894.56" width="13.75" height="18.61" fill="#3f83c0"/>
<rect x="337.95" y="894.56" width="13.75" height="18.6" fill="#eceeed"/>
<rect x="352.85" y="894.56" width="13.75" height="18.61" fill="#dc3d3f"/>
<rect x="367.75" y="894.56" width="13.75" height="18.6" fill="#eceeed"/>
<rect x="382.65" y="894.56" width="13.75" height="18.6" fill="#eceeed"/>
<rect x="397.55" y="894.56" width="13.75" height="18.61" fill="#858585"/>
<rect x="412.45" y="894.56" width="13.75" height="18.6" fill="#eceeed"/>
<rect x="427.35" y="894.56" width="13.75" height="18.6" fill="#eceeed"/>
<rect x="442.25" y="894.56" width="13.75" height="18.6" fill="#eceeed"/>
<rect x="457.15" y="894.56" width="13.75" height="18.6" fill="#eceeed"/>
<rect x="472.05" y="894.56" width="13.75" height="18.6" fill="#eceeed"/>
<rect x="486.95" y="894.56" width="13.75" height="18.6" fill="#eceeed"/>
<rect x="501.85" y="894.56" width="13.75" height="18.6" fill="#eceeed"/>
<rect x="516.75" y="894.56" width="13.75" height="18.6" fill="#eceeed"/>
<rect x="531.65" y="894.56" width="13.75" height="18.6" fill="#eceeed"/>
<rect x="546.55" y="894.56" width="13.75" height="18.6" fill="#eceeed"/>
<rect x="562.45" y="894.56" width="13.75" height="18.6" fill="#eceeed"/>
<rect x="577.35" y="894.56" width="13.75" height="18.6" fill="#eceeed"/>
<rect x="592.25" y="894.56" width="13.75" height="18.6" fill="#eceeed"/>
<rect x="608.15" y="894.56" width="13.75" height="18.6" fill="#eceeed"/>
<rect x="623.05" y="894.56" width="13.75" height="18.6" fill="#eceeed"/>
<rect x="637.95" y="894.56" width="13.75" height="18.6" fill="#eceeed"/>
<rect x="652.85" y="894.56" width="13.75" height="18.6" fill="#eceeed"/>
<rect x="667.75" y="894.56" width="13.75" height="9.31" fill="#dc3d3f"/>
<rect x="667.75" y="903.86" width="13.75" height="9.31" fill="#3f83c0"/>
<rect x="683.65" y="894.56" width="13.75" height="18.6" fill="#eceeed"/>
<rect x="698.55" y="894.56" width="13.75" height="18.6" fill="#eceeed"/>
<rect x="713.45" y="894.56" width="13.75" height="18.6" fill="#eceeed"/>
<rect x="728.35" y="894.56" width="13.75" height="18.6" fill="#eceeed"/>
<rect x="743.25" y="894.56" width="13.75" height="18.6" fill="#eceeed"/>
<rect x="758.15" y="894.56" width="13.75" height="18.6" fill="#eceeed"/>
<rect x="773.05" y="894.56" width="13.75" height="18.6" fill="#eceeed"/>
<rect x="787.95" y="894.56" width="13.75" height="18.6" fill="#eceeed"/>
<rect x="802.85" y="894.56" width="13.75" height="18.6" fill="#eceeed"/>
<rect x="817.75" y="894.56" width="13.75" height="18.6" fill="#eceeed"/>
<rect x="832.65" y="894.56" width="13.75" height="18.6" fill="#eceeed"/>
<rect x="848.55" y="894.56" width="13.75" height="18.6" fill="#eceeed"/>
<rect x="863.45" y="894.56" width="13.75" height="18.6" fill="#eceeed"/>
<rect x="878.35" y="894.56" width="13.75" height="18.6" fill="#eceeed"/>
<rect x="893.25" y="894.56" width="13.75" height="18.6" fill="#eceeed"/>
<rect x="908.15" y="894.56" width="13.75" height="18.6" fill="#eceeed"/>
<rect x="923.05" y="894.56" width="13.75" height="18.6" fill="#eceeed"/>
<rect x="937.95" y="894.56" width="13.75" height="18.6" fill="#eceeed"/>
<rect x="953.85" y="894.56" width="13.75" height="18.6" fill="#eceeed"/>
<rect x="968.75" y="894.56" width="13.75" height="18.6" fill="#eceeed"/>
<rect x="983.65" y="894.56" width="13.75" height="18.6" fill="#eceeed"/>
<rect x="998.55" y="894.56" width="13.75" height="18.6" fill="#eceeed"/>
<rect x="1013.45" y="894.56" width="13.75" height="18.6" fill="#eceeed"/>
<rect x="1028.35" y="894.56" width="13.75" height="18.6" fill="#eceeed"/>
<rect x="1043.25" y="894.56" width="13.75" height="18.6" fill="#eceeed"/>
<rect x="1058.15" y="894.56" width="13.75" height="18.6" fill="#eceeed"/>
<rect x="144.25" y="914.99" width="13.75" height="18.6" fill="#eceeed"/>
<rect x="159.15" y="914.99" width="13.75" height="18.61" fill="#6459a8"/>
<text x="166.03" y="924.99" font-size="13" text-anchor="middle" fill="#000" font-family="DejaVu Sans, sans-serif">γ</text>
<rect x="174.05" y="914.99" width="13.75" height="18.6" fill="#eceeed"/>
<rect x="188.95" y="914.99" width="13.75" height="18.6" fill="#eceeed"/>
<rect x="203.85" y="914.99" width="13.75" height="18.6" fill="#eceeed"/>
<rect x="218.75" y="914.99" width="13.75" height="18.6" fill="#eceeed"/>
<rect x="233.65" y="914.99" width="13.75" height="18.6" fill="#eceeed"/>
<rect x="248.55" y="914.99" width="13.75" height="18.6" fill="#eceeed"/>
<rect x="263.45" y="914.99" width="13.75" height="18.6" fill="#eceeed"/>
<rect x="278.35" y="914.99" width="13.75" height="18.6" fill="#eceeed"/>
<rect x="293.25" y="914.99" width="13.75" height="18.6" fill="#eceeed"/>
<rect x="308.15" y="914.99" width="13.75" height="18.6" fill="#eceeed"/>
<rect x="323.05" y="914.99" width="13.75" height="18.6" fill="#eceeed"/>
<rect x="337.95" y="914.99" width="13.75" height="18.6" fill="#eceeed"/>
<rect x="352.85" y="914.99" width="13.75" height="18.6" fill="#eceeed"/>
<rect x="367.75" y="914.99" width="13.75" height="18.6" fill="#eceeed"/>
<rect x="382.65" y="914.99" width="13.75" height="18.6" fill="#eceeed"/>
<rect x="397.55" y="914.99" width="13.75" height="18.61" fill="#ee7e27"/>
<text x="404.43" y="924.99" font-size="13" text-anchor="middle" fill="#000" font-family="DejaVu Sans, sans-serif">γ</text>
<rect x="412.45" y="914.99" width="13.75" height="18.6" fill="#eceeed"/>
<rect x="427.35" y="914.99" width="13.75" height="18.6" fill="#eceeed"/>
<rect x="442.25" y="914.99" width="13.75" height="18.6" fill="#eceeed"/>
<rect x="457.15" y="914.99" width="13.75" height="18.6" fill="#eceeed"/>
<rect x="472.05" y="914.99" width="13.75" height="18.6" fill="#eceeed"/>
<rect x="486.95" y="914.99" width="13.75" height="18.6" fill="#eceeed"/>
<rect x="501.85" y="914.99" width="13.75" height="18.6" fill="#eceeed"/>
<rect x="516.75" y="914.99" width="13.75" height="18.6" fill="#eceeed"/>
<rect x="531.65" y="914.99" width="13.75" height="18.6" fill="#eceeed"/>
<rect x="546.55" y="914.99" width="13.75" height="18.6" fill="#eceeed"/>
<rect x="562.45" y="914.99" width="13.75" height="18.6" fill="#eceeed"/>
<rect x="577.35" y="914.99" width="13.75" height="18.6" fill="#eceeed"/>
<rect x="592.25" y="914.99" width="13.75" height="18.6" fill="#eceeed"/>
<rect x="608.15" y="914.99" width="13.75" height="18.6" fill="#eceeed"/>
<rect x="623.05" y="914.99" width="13.75" height="18.6" fill="#eceeed"/>
<rect x="637.95" y="914.99" width="13.75" height="18.6" fill="#eceeed"/>
<rect x="652.85" y="914.99" width="13.75" height="18.6" fill="#eceeed"/>
<rect x="667.75" y="914.99" width="13.75" height="18.6" fill="#eceeed"/>
<rect x="683.65" y="914.99" width="13.75" height="18.6" fill="#eceeed"/>
<rect x="698.55" y="914.99" width="13.75" height="18.6" fill="#eceeed"/>
<rect x="713.45" y="914.99" width="13.75" height="18.6" fill="#eceeed"/>
<rect x="728.35" y="914.99" width="13.75" height="18.6" fill="#eceeed"/>
<rect x="743.25" y="914.99" width="13.75" height="18.6" fill="#eceeed"/>
<rect x="758.15" y="914.99" width="13.75" height="18.6" fill="#eceeed"/>
<rect x="773.05" y="914.99" width="13.75" height="18.6" fill="#eceeed"/>
<rect x="787.95" y="914.99" width="13.75" height="18.6" fill="#eceeed"/>
<rect x="802.85" y="914.99" width="13.75" height="18.61" fill="#dc3d3f"/>
<rect x="817.75" y="914.99" width="13.75" height="18.6" fill="#eceeed"/>
<rect x="832.65" y="914.99" width="13.75" height="18.6" fill="#eceeed"/>
<rect x="848.55" y="914.99" width="13.75" height="18.6" fill="#eceeed"/>
<rect x="863.45" y="914.99" width="13.75" height="18.6" fill="#eceeed"/>
<rect x="878.35" y="914.99" width="13.75" height="18.6" fill="#eceeed"/>
<rect x="893.25" y="914.99" width="13.75" height="18.6" fill="#eceeed"/>
<rect x="908.15" y="914.99" width="13.75" height="18.6" fill="#eceeed"/>
<rect x="923.05" y="914.99" width="13.75" height="18.6" fill="#eceeed"/>
<rect x="937.95" y="914.99" width="13.75" height="18.6" fill="#eceeed"/>
<rect x="953.85" y="914.99" width="13.75" height="18.6" fill="#eceeed"/>
<rect x="968.75" y="914.99" width="13.75" height="18.6" fill="#eceeed"/>
<rect x="983.65" y="914.99" width="13.75" height="18.6" fill="#eceeed"/>
<rect x="998.55" y="914.99" width="13.75" height="18.6" fill="#eceeed"/>
<rect x="1013.45" y="914.99" width="13.75" height="18.6" fill="#eceeed"/>
<rect x="1028.35" y="914.99" width="13.75" height="18.6" fill="#eceeed"/>
<rect x="1043.25" y="914.99" width="13.75" height="18.6" fill="#eceeed"/>
<rect x="1058.15" y="914.99" width="13.75" height="18.6" fill="#eceeed"/>
<rect x="144.25" y="935.42" width="13.75" height="18.6" fill="#eceeed"/>
<rect x="159.15" y="935.42" width="13.75" height="18.6" fill="#eceeed"/>
<rect x="174.05" y="935.42" width="13.75" height="18.6" fill="#eceeed"/>
<rect x="188.95" y="935.42" width="13.75" height="18.6" fill="#eceeed"/>
<rect x="203.85" y="935.42" width="13.75" height="18.6" fill="#eceeed"/>
<rect x="218.75" y="935.42" width="13.75" height="18.6" fill="#eceeed"/>
<rect x="233.65" y="935.42" width="13.75" height="18.6" fill="#eceeed"/>
<rect x="248.55" y="935.42" width="13.75" height="18.6" fill="#eceeed"/>
<rect x="263.45" y="935.42" width="13.75" height="18.6" fill="#eceeed"/>
<rect x="278.35" y="935.42" width="13.75" height="18.6" fill="#eceeed"/>
<rect x="293.25" y="935.42" width="13.75" height="18.6" fill="#eceeed"/>
<rect x="308.15" y="935.42" width="13.75" height="18.6" fill="#eceeed"/>
<rect x="323.05" y="935.42" width="13.75" height="18.6" fill="#eceeed"/>
<rect x="337.95" y="935.42" width="13.75" height="18.6" fill="#eceeed"/>
<rect x="352.85" y="935.42" width="13.75" height="18.6" fill="#eceeed"/>
<rect x="367.75" y="935.42" width="13.75" height="18.6" fill="#eceeed"/>
<rect x="382.65" y="935.42" width="13.75" height="18.6" fill="#eceeed"/>
<rect x="397.55" y="935.42" width="13.75" height="18.6" fill="#eceeed"/>
<rect x="412.45" y="935.42" width="13.75" height="18.6" fill="#eceeed"/>
<rect x="427.35" y="935.42" width="13.75" height="18.6" fill="#eceeed"/>
<rect x="442.25" y="935.42" width="13.75" height="18.6" fill="#eceeed"/>
<rect x="457.15" y="935.42" width="13.75" height="18.6" fill="#eceeed"/>
<rect x="472.05" y="935.42" width="13.75" height="18.6" fill="#eceeed"/>
<rect x="486.95" y="935.42" width="13.75" height="18.6" fill="#eceeed"/>
<rect x="501.85" y="935.42" width="13.75" height="18.6" fill="#eceeed"/>
<rect x="516.75" y="935.42" width="13.75" height="18.6" fill="#eceeed"/>
<rect x="531.65" y="935.42" width="13.75" height="18.6" fill="#eceeed"/>
<rect x="546.55" y="935.42" width="13.75" height="18.6" fill="#eceeed"/>
<rect x="562.45" y="935.42" width="13.75" height="18.6" fill="#eceeed"/>
<rect x="577.35" y="935.42" width="13.75" height="18.6" fill="#eceeed"/>
<rect x="592.25" y="935.42" width="13.75" height="18.6" fill="#eceeed"/>
<rect x="608.15" y="935.42" width="13.75" height="18.61" fill="#ee7e27"/>
<rect x="623.05" y="935.42" width="13.75" height="18.6" fill="#eceeed"/>
<rect x="637.95" y="935.42" width="13.75" height="18.6" fill="#eceeed"/>
<rect x="652.85" y="935.42" width="13.75" height="18.6" fill="#eceeed"/>
<rect x="667.75" y="935.42" width="13.75" height="18.6" fill="#eceeed"/>
<rect x="683.65" y="935.42" width="13.75" height="18.6" fill="#eceeed"/>
<rect x="698.55" y="935.42" width="13.75" height="18.6" fill="#eceeed"/>
<rect x="713.45" y="935.42" width="13.75" height="18.6" fill="#eceeed"/>
<rect x="728.35" y="935.42" width="13.75" height="18.6" fill="#eceeed"/>
<rect x="743.25" y="935.42" width="13.75" height="18.6" fill="#eceeed"/>
<rect x="758.15" y="935.42" width="13.75" height="18.6" fill="#eceeed"/>
<rect x="773.05" y="935.42" width="13.75" height="18.6" fill="#eceeed"/>
<rect x="787.95" y="935.42" width="13.75" height="18.6" fill="#eceeed"/>
<rect x="802.85" y="935.42" width="13.75" height="18.6" fill="#eceeed"/>
<rect x="817.75" y="935.42" width="13.75" height="18.6" fill="#eceeed"/>
<rect x="832.65" y="935.42" width="13.75" height="18.6" fill="#eceeed"/>
<rect x="848.55" y="935.42" width="13.75" height="18.6" fill="#eceeed"/>
<rect x="863.45" y="935.42" width="13.75" height="18.6" fill="#eceeed"/>
<rect x="878.35" y="935.42" width="13.75" height="18.6" fill="#eceeed"/>
<rect x="893.25" y="935.42" width="13.75" height="18.6" fill="#eceeed"/>
<rect x="908.15" y="935.42" width="13.75" height="18.6" fill="#eceeed"/>
<rect x="923.05" y="935.42" width="13.75" height="18.6" fill="#eceeed"/>
<rect x="937.95" y="935.42" width="13.75" height="18.6" fill="#eceeed"/>
<rect x="953.85" y="935.42" width="13.75" height="18.6" fill="#eceeed"/>
<rect x="968.75" y="935.42" width="13.75" height="18.6" fill="#eceeed"/>
<rect x="983.65" y="935.42" width="13.75" height="18.6" fill="#eceeed"/>
<rect x="998.55" y="935.42" width="13.75" height="18.6" fill="#eceeed"/>
<rect x="1013.45" y="935.42" width="13.75" height="18.6" fill="#eceeed"/>
<rect x="1028.35" y="935.42" width="13.75" height="18.6" fill="#eceeed"/>
<rect x="1043.25" y="935.42" width="13.75" height="18.6" fill="#eceeed"/>
<rect x="1058.15" y="935.42" width="13.75" height="18.6" fill="#eceeed"/>
<line x1="561.38" y1="194" x2="561.38" y2="954.6" stroke="#fff" stroke-width="5.0"/>
<line x1="607.08" y1="194" x2="607.08" y2="954.6" stroke="#fff" stroke-width="5.0"/>
<line x1="682.58" y1="194" x2="682.58" y2="954.6" stroke="#fff" stroke-width="5.0"/>
<line x1="847.48" y1="194" x2="847.48" y2="954.6" stroke="#fff" stroke-width="5.0"/>
<line x1="952.78" y1="194" x2="952.78" y2="954.6" stroke="#fff" stroke-width="5.0"/>
<line x1="144" y1="440.25" x2="1072.2" y2="440.25" stroke="#fff" stroke-width="5.2"/>
<line x1="144" y1="563.85" x2="1072.2" y2="563.85" stroke="#fff" stroke-width="5.2"/>
<line x1="144" y1="728.8" x2="1072.2" y2="728.8" stroke="#fff" stroke-width="5.2"/>
<line x1="144" y1="852.8" x2="1072.2" y2="852.8" stroke="#fff" stroke-width="5.2"/>
<line x1="561.38" y1="193.4" x2="561.38" y2="955.2" stroke="#000" stroke-width="3.3"/>
<line x1="607.08" y1="193.4" x2="607.08" y2="955.2" stroke="#000" stroke-width="3.3"/>
<line x1="682.58" y1="193.4" x2="682.58" y2="955.2" stroke="#000" stroke-width="3.3"/>
<line x1="847.48" y1="193.4" x2="847.48" y2="955.2" stroke="#000" stroke-width="3.3"/>
<line x1="952.78" y1="193.4" x2="952.78" y2="955.2" stroke="#000" stroke-width="3.3"/>
<line x1="143.3" y1="440.25" x2="1072.9" y2="440.25" stroke="#000" stroke-width="3.4"/>
<line x1="143.3" y1="563.85" x2="1072.9" y2="563.85" stroke="#000" stroke-width="3.4"/>
<line x1="143.3" y1="728.8" x2="1072.9" y2="728.8" stroke="#000" stroke-width="3.4"/>
<line x1="143.3" y1="852.8" x2="1072.9" y2="852.8" stroke="#000" stroke-width="3.4"/>
<rect x="144.05" y="194.0" width="928.7" height="761" fill="none" stroke="#000" stroke-width="1.6"/>
<line x1="135.5" y1="202.82" x2="143.3" y2="202.82" stroke="#444" stroke-width="1.3"/>
<text x="137" y="206.12" font-size="11.3" font-weight="bold" text-anchor="end" font-family="'Liberation Sans', Arial, Helvetica, sans-serif">Primary Tumor</text>
<line x1="135.5" y1="223.38" x2="143.3" y2="223.38" stroke="#444" stroke-width="1.3"/>
<text x="139" y="226.68" font-size="11.3" font-weight="bold" text-anchor="end" font-family="'Liberation Sans', Arial, Helvetica, sans-serif">Secondary Diagnosis</text>
<line x1="135.5" y1="243.92" x2="143.3" y2="243.92" stroke="#444" stroke-width="1.3"/>
<text x="131.2" y="247.22" font-size="11.3" font-weight="bold" text-anchor="end" font-family="'Liberation Sans', Arial, Helvetica, sans-serif">WGS</text>
<line x1="135.5" y1="264.48" x2="143.3" y2="264.48" stroke="#444" stroke-width="1.3"/>
<text x="131.2" y="267.78" font-size="11.3" font-weight="bold" text-anchor="end" font-family="'Liberation Sans', Arial, Helvetica, sans-serif">WES</text>
<line x1="135.5" y1="285.03" x2="143.3" y2="285.03" stroke="#444" stroke-width="1.3"/>
<text x="132.4" y="288.33" font-size="11.3" font-weight="bold" text-anchor="end" font-family="'Liberation Sans', Arial, Helvetica, sans-serif">RNA-Seq</text>
<line x1="135.5" y1="305.58" x2="143.3" y2="305.58" stroke="#444" stroke-width="1.3"/>
<text x="133.3" y="308.88" font-size="11.3" font-weight="bold" text-anchor="end" font-family="'Liberation Sans', Arial, Helvetica, sans-serif">KMT2Ar</text>
<line x1="135.5" y1="326.12" x2="143.3" y2="326.12" stroke="#444" stroke-width="1.3"/>
<text x="132.4" y="329.43" font-size="11.3" font-weight="bold" text-anchor="end" font-family="'Liberation Sans', Arial, Helvetica, sans-serif">NUP98r</text>
<line x1="135.5" y1="346.68" x2="143.3" y2="346.68" stroke="#444" stroke-width="1.3"/>
<text x="132.6" y="349.98" font-size="11.3" font-weight="bold" text-anchor="end" font-family="'Liberation Sans', Arial, Helvetica, sans-serif">MECOM SV</text>
<line x1="135.5" y1="367.23" x2="143.3" y2="367.23" stroke="#444" stroke-width="1.3"/>
<text x="135.8" y="370.53" font-size="11.3" font-weight="bold" text-anchor="end" font-family="'Liberation Sans', Arial, Helvetica, sans-serif">MECOM expression</text>
<line x1="135.5" y1="387.78" x2="143.3" y2="387.78" stroke="#444" stroke-width="1.3"/>
<text x="134.6" y="391.08" font-size="11.3" font-weight="bold" text-anchor="end" font-family="'Liberation Sans', Arial, Helvetica, sans-serif">Complex</text>
<line x1="135.5" y1="408.33" x2="143.3" y2="408.33" stroke="#444" stroke-width="1.3"/>
<text x="131.6" y="411.63" font-size="11.3" font-weight="bold" text-anchor="end" font-family="'Liberation Sans', Arial, Helvetica, sans-serif">Del7</text>
<line x1="135.5" y1="428.88" x2="143.3" y2="428.88" stroke="#444" stroke-width="1.3"/>
<text x="139.5" y="432.18" font-size="11.3" font-weight="bold" text-anchor="end" font-family="'Liberation Sans', Arial, Helvetica, sans-serif">Mutation number</text>
<line x1="135.5" y1="450.8" x2="143.3" y2="450.8" stroke="#444" stroke-width="1.3"/>
<text x="131.6" y="454.1" font-size="11.3" font-weight="bold" text-anchor="end" font-family="'Liberation Sans', Arial, Helvetica, sans-serif">TP53 (13)</text>
<line x1="135.5" y1="471.28" x2="143.3" y2="471.28" stroke="#444" stroke-width="1.3"/>
<text x="131.6" y="474.58" font-size="11.3" font-weight="bold" text-anchor="end" font-family="'Liberation Sans', Arial, Helvetica, sans-serif">PPM1D (3)</text>
<line x1="135.5" y1="491.75" x2="143.3" y2="491.75" stroke="#444" stroke-width="1.3"/>
<text x="131.6" y="495.05" font-size="11.3" font-weight="bold" text-anchor="end" font-family="'Liberation Sans', Arial, Helvetica, sans-serif">PMS2 (2)</text>
<line x1="135.5" y1="512.23" x2="143.3" y2="512.23" stroke="#444" stroke-width="1.3"/>
<text x="131.6" y="515.52" font-size="11.3" font-weight="bold" text-anchor="end" font-family="'Liberation Sans', Arial, Helvetica, sans-serif">CHEK2 (1)</text>
<line x1="135.5" y1="532.7" x2="143.3" y2="532.7" stroke="#444" stroke-width="1.3"/>
<text x="131.6" y="536" font-size="11.3" font-weight="bold" text-anchor="end" font-family="'Liberation Sans', Arial, Helvetica, sans-serif">FANCD2 (1)</text>
<line x1="135.5" y1="553.17" x2="143.3" y2="553.17" stroke="#444" stroke-width="1.3"/>
<text x="131.6" y="556.47" font-size="11.3" font-weight="bold" text-anchor="end" font-family="'Liberation Sans', Arial, Helvetica, sans-serif">MSH6 (1)</text>
<line x1="135.5" y1="573.9" x2="143.3" y2="573.9" stroke="#444" stroke-width="1.3"/>
<text x="131.6" y="577.2" font-size="11.3" font-weight="bold" text-anchor="end" font-family="'Liberation Sans', Arial, Helvetica, sans-serif">KRAS (14)</text>
<line x1="135.5" y1="594.5" x2="143.3" y2="594.5" stroke="#444" stroke-width="1.3"/>
<text x="131.6" y="597.8" font-size="11.3" font-weight="bold" text-anchor="end" font-family="'Liberation Sans', Arial, Helvetica, sans-serif">NF1 (12)</text>
<line x1="135.5" y1="615.1" x2="143.3" y2="615.1" stroke="#444" stroke-width="1.3"/>
<text x="131.6" y="618.4" font-size="11.3" font-weight="bold" text-anchor="end" font-family="'Liberation Sans', Arial, Helvetica, sans-serif">NRAS (6)</text>
<line x1="135.5" y1="635.7" x2="143.3" y2="635.7" stroke="#444" stroke-width="1.3"/>
<text x="131.6" y="639" font-size="11.3" font-weight="bold" text-anchor="end" font-family="'Liberation Sans', Arial, Helvetica, sans-serif">FLT3 (5)</text>
<line x1="135.5" y1="656.3" x2="143.3" y2="656.3" stroke="#444" stroke-width="1.3"/>
<text x="131.6" y="659.6" font-size="11.3" font-weight="bold" text-anchor="end" font-family="'Liberation Sans', Arial, Helvetica, sans-serif">PTPN11 (4)</text>
<line x1="135.5" y1="676.9" x2="143.3" y2="676.9" stroke="#444" stroke-width="1.3"/>
<text x="131.6" y="680.2" font-size="11.3" font-weight="bold" text-anchor="end" font-family="'Liberation Sans', Arial, Helvetica, sans-serif">SOS1 (1)</text>
<line x1="135.5" y1="697.5" x2="143.3" y2="697.5" stroke="#444" stroke-width="1.3"/>
<text x="131.6" y="700.8" font-size="11.3" font-weight="bold" text-anchor="end" font-family="'Liberation Sans', Arial, Helvetica, sans-serif">CSF3R (1)</text>
<line x1="135.5" y1="718.1" x2="143.3" y2="718.1" stroke="#444" stroke-width="1.3"/>
<text x="131.6" y="721.4" font-size="11.3" font-weight="bold" text-anchor="end" font-family="'Liberation Sans', Arial, Helvetica, sans-serif">JAK2 (1)</text>
<line x1="135.5" y1="738.8" x2="143.3" y2="738.8" stroke="#444" stroke-width="1.3"/>
<text x="131.6" y="742.1" font-size="11.3" font-weight="bold" text-anchor="end" font-family="'Liberation Sans', Arial, Helvetica, sans-serif">ASXL1 (4)</text>
<line x1="135.5" y1="759.3" x2="143.3" y2="759.3" stroke="#444" stroke-width="1.3"/>
<text x="131.6" y="762.6" font-size="11.3" font-weight="bold" text-anchor="end" font-family="'Liberation Sans', Arial, Helvetica, sans-serif">SETBP1 (3)</text>
<line x1="135.5" y1="779.8" x2="143.3" y2="779.8" stroke="#444" stroke-width="1.3"/>
<text x="131.6" y="783.1" font-size="11.3" font-weight="bold" text-anchor="end" font-family="'Liberation Sans', Arial, Helvetica, sans-serif">ASXL3 (2)</text>
<line x1="135.5" y1="800.3" x2="143.3" y2="800.3" stroke="#444" stroke-width="1.3"/>
<text x="131.6" y="803.6" font-size="11.3" font-weight="bold" text-anchor="end" font-family="'Liberation Sans', Arial, Helvetica, sans-serif">BCORL1 (2)</text>
<line x1="135.5" y1="820.8" x2="143.3" y2="820.8" stroke="#444" stroke-width="1.3"/>
<text x="131.6" y="824.1" font-size="11.3" font-weight="bold" text-anchor="end" font-family="'Liberation Sans', Arial, Helvetica, sans-serif">EZH2 (3)</text>
<line x1="135.5" y1="841.3" x2="143.3" y2="841.3" stroke="#444" stroke-width="1.3"/>
<text x="131.6" y="844.6" font-size="11.3" font-weight="bold" text-anchor="end" font-family="'Liberation Sans', Arial, Helvetica, sans-serif">ASXL2 (1)</text>
<line x1="135.5" y1="863" x2="143.3" y2="863" stroke="#444" stroke-width="1.3"/>
<text x="131.6" y="866.3" font-size="11.3" font-weight="bold" text-anchor="end" font-family="'Liberation Sans', Arial, Helvetica, sans-serif">RUNX1 (11)</text>
<line x1="135.5" y1="883.43" x2="143.3" y2="883.43" stroke="#444" stroke-width="1.3"/>
<text x="131.6" y="886.73" font-size="11.3" font-weight="bold" text-anchor="end" font-family="'Liberation Sans', Arial, Helvetica, sans-serif">WT1 (6)</text>
<line x1="135.5" y1="903.86" x2="143.3" y2="903.86" stroke="#444" stroke-width="1.3"/>
<text x="131.6" y="907.16" font-size="11.3" font-weight="bold" text-anchor="end" font-family="'Liberation Sans', Arial, Helvetica, sans-serif">GATA2 (4)</text>
<line x1="135.5" y1="924.29" x2="143.3" y2="924.29" stroke="#444" stroke-width="1.3"/>
<text x="131.6" y="927.59" font-size="11.3" font-weight="bold" text-anchor="end" font-family="'Liberation Sans', Arial, Helvetica, sans-serif">ETV6 (3)</text>
<line x1="135.5" y1="944.72" x2="143.3" y2="944.72" stroke="#444" stroke-width="1.3"/>
<text x="131.6" y="948.02" font-size="11.3" font-weight="bold" text-anchor="end" font-family="'Liberation Sans', Arial, Helvetica, sans-serif">IKZF1 (1)</text>
<line x1="151.12" y1="956.4" x2="151.12" y2="961.8" stroke="#444" stroke-width="1.3"/>
<text transform="translate(154.53,966) rotate(-90) scale(1,1.15)" font-size="11.1" text-anchor="end" stroke="#000" stroke-width="0.25" font-family="'Liberation Sans', Arial, Helvetica, sans-serif">SJ005124</text>
<line x1="166.03" y1="956.4" x2="166.03" y2="961.8" stroke="#444" stroke-width="1.3"/>
<text transform="translate(169.43,966) rotate(-90) scale(1,1.15)" font-size="11.1" text-anchor="end" stroke="#000" stroke-width="0.25" font-family="'Liberation Sans', Arial, Helvetica, sans-serif">SJ021960</text>
<line x1="180.93" y1="956.4" x2="180.93" y2="961.8" stroke="#444" stroke-width="1.3"/>
<text transform="translate(184.33,966) rotate(-90) scale(1,1.15)" font-size="11.1" text-anchor="end" stroke="#000" stroke-width="0.25" font-family="'Liberation Sans', Arial, Helvetica, sans-serif">SJ016500</text>
<line x1="195.82" y1="956.4" x2="195.82" y2="961.8" stroke="#444" stroke-width="1.3"/>
<text transform="translate(199.22,966) rotate(-90) scale(1,1.15)" font-size="11.1" text-anchor="end" stroke="#000" stroke-width="0.25" font-family="'Liberation Sans', Arial, Helvetica, sans-serif">SJ004919</text>
<line x1="210.72" y1="956.4" x2="210.72" y2="961.8" stroke="#444" stroke-width="1.3"/>
<text transform="translate(214.12,966) rotate(-90) scale(1,1.15)" font-size="11.1" text-anchor="end" stroke="#000" stroke-width="0.25" font-family="'Liberation Sans', Arial, Helvetica, sans-serif">SJ016492</text>
<line x1="225.62" y1="956.4" x2="225.62" y2="961.8" stroke="#444" stroke-width="1.3"/>
<text transform="translate(229.03,966) rotate(-90) scale(1,1.15)" font-size="11.1" text-anchor="end" stroke="#000" stroke-width="0.25" font-family="'Liberation Sans', Arial, Helvetica, sans-serif">SJ016508</text>
<line x1="240.53" y1="956.4" x2="240.53" y2="961.8" stroke="#444" stroke-width="1.3"/>
<text transform="translate(243.93,966) rotate(-90) scale(1,1.15)" font-size="11.1" text-anchor="end" stroke="#000" stroke-width="0.25" font-family="'Liberation Sans', Arial, Helvetica, sans-serif">SJ043612</text>
<line x1="255.43" y1="956.4" x2="255.43" y2="961.8" stroke="#444" stroke-width="1.3"/>
<text transform="translate(258.82,966) rotate(-90) scale(1,1.15)" font-size="11.1" text-anchor="end" stroke="#000" stroke-width="0.25" font-family="'Liberation Sans', Arial, Helvetica, sans-serif">SJ043616</text>
<line x1="270.32" y1="956.4" x2="270.32" y2="961.8" stroke="#444" stroke-width="1.3"/>
<text transform="translate(273.72,966) rotate(-90) scale(1,1.15)" font-size="11.1" text-anchor="end" stroke="#000" stroke-width="0.25" font-family="'Liberation Sans', Arial, Helvetica, sans-serif">SJ005142</text>
<line x1="285.23" y1="956.4" x2="285.23" y2="961.8" stroke="#444" stroke-width="1.3"/>
<text transform="translate(288.62,966) rotate(-90) scale(1,1.15)" font-size="11.1" text-anchor="end" stroke="#000" stroke-width="0.25" font-family="'Liberation Sans', Arial, Helvetica, sans-serif">SJ016487</text>
<line x1="300.12" y1="956.4" x2="300.12" y2="961.8" stroke="#444" stroke-width="1.3"/>
<text transform="translate(303.52,966) rotate(-90) scale(1,1.15)" font-size="11.1" text-anchor="end" stroke="#000" stroke-width="0.25" font-family="'Liberation Sans', Arial, Helvetica, sans-serif">SJ016506</text>
<line x1="315.02" y1="956.4" x2="315.02" y2="961.8" stroke="#444" stroke-width="1.3"/>
<text transform="translate(318.42,966) rotate(-90) scale(1,1.15)" font-size="11.1" text-anchor="end" stroke="#000" stroke-width="0.25" font-family="'Liberation Sans', Arial, Helvetica, sans-serif">SJ003512</text>
<line x1="329.93" y1="956.4" x2="329.93" y2="961.8" stroke="#444" stroke-width="1.3"/>
<text transform="translate(333.32,966) rotate(-90) scale(1,1.15)" font-size="11.1" text-anchor="end" stroke="#000" stroke-width="0.25" font-family="'Liberation Sans', Arial, Helvetica, sans-serif">SJ016489</text>
<line x1="344.83" y1="956.4" x2="344.83" y2="961.8" stroke="#444" stroke-width="1.3"/>
<text transform="translate(348.23,966) rotate(-90) scale(1,1.15)" font-size="11.1" text-anchor="end" stroke="#000" stroke-width="0.25" font-family="'Liberation Sans', Arial, Helvetica, sans-serif">SJ016498</text>
<line x1="359.73" y1="956.4" x2="359.73" y2="961.8" stroke="#444" stroke-width="1.3"/>
<text transform="translate(363.12,966) rotate(-90) scale(1,1.15)" font-size="11.1" text-anchor="end" stroke="#000" stroke-width="0.25" font-family="'Liberation Sans', Arial, Helvetica, sans-serif">SJ016507</text>
<line x1="374.62" y1="956.4" x2="374.62" y2="961.8" stroke="#444" stroke-width="1.3"/>
<text transform="translate(378.02,966) rotate(-90) scale(1,1.15)" font-size="11.1" text-anchor="end" stroke="#000" stroke-width="0.25" font-family="'Liberation Sans', Arial, Helvetica, sans-serif">SJ043613</text>
<line x1="389.52" y1="956.4" x2="389.52" y2="961.8" stroke="#444" stroke-width="1.3"/>
<text transform="translate(392.92,966) rotate(-90) scale(1,1.15)" font-size="11.1" text-anchor="end" stroke="#000" stroke-width="0.25" font-family="'Liberation Sans', Arial, Helvetica, sans-serif">SJ016491</text>
<line x1="404.43" y1="956.4" x2="404.43" y2="961.8" stroke="#444" stroke-width="1.3"/>
<text transform="translate(407.82,966) rotate(-90) scale(1,1.15)" font-size="11.1" text-anchor="end" stroke="#000" stroke-width="0.25" font-family="'Liberation Sans', Arial, Helvetica, sans-serif">SJ043618</text>
<line x1="419.32" y1="956.4" x2="419.32" y2="961.8" stroke="#444" stroke-width="1.3"/>
<text transform="translate(422.72,966) rotate(-90) scale(1,1.15)" font-size="11.1" text-anchor="end" stroke="#000" stroke-width="0.25" font-family="'Liberation Sans', Arial, Helvetica, sans-serif">SJ003151</text>
<line x1="434.23" y1="956.4" x2="434.23" y2="961.8" stroke="#444" stroke-width="1.3"/>
<text transform="translate(437.62,966) rotate(-90) scale(1,1.15)" font-size="11.1" text-anchor="end" stroke="#000" stroke-width="0.25" font-family="'Liberation Sans', Arial, Helvetica, sans-serif">SJ015847</text>
<line x1="449.12" y1="956.4" x2="449.12" y2="961.8" stroke="#444" stroke-width="1.3"/>
<text transform="translate(452.52,966) rotate(-90) scale(1,1.15)" font-size="11.1" text-anchor="end" stroke="#000" stroke-width="0.25" font-family="'Liberation Sans', Arial, Helvetica, sans-serif">SJ016462</text>
<line x1="464.03" y1="956.4" x2="464.03" y2="961.8" stroke="#444" stroke-width="1.3"/>
<text transform="translate(467.43,966) rotate(-90) scale(1,1.15)" font-size="11.1" text-anchor="end" stroke="#000" stroke-width="0.25" font-family="'Liberation Sans', Arial, Helvetica, sans-serif">SJ016493</text>
<line x1="478.93" y1="956.4" x2="478.93" y2="961.8" stroke="#444" stroke-width="1.3"/>
<text transform="translate(482.32,966) rotate(-90) scale(1,1.15)" font-size="11.1" text-anchor="end" stroke="#000" stroke-width="0.25" font-family="'Liberation Sans', Arial, Helvetica, sans-serif">SJ016513</text>
<line x1="493.82" y1="956.4" x2="493.82" y2="961.8" stroke="#444" stroke-width="1.3"/>
<text transform="translate(497.22,966) rotate(-90) scale(1,1.15)" font-size="11.1" text-anchor="end" stroke="#000" stroke-width="0.25" font-family="'Liberation Sans', Arial, Helvetica, sans-serif">SJ016517</text>
<line x1="508.73" y1="956.4" x2="508.73" y2="961.8" stroke="#444" stroke-width="1.3"/>
<text transform="translate(512.12,966) rotate(-90) scale(1,1.15)" font-size="11.1" text-anchor="end" stroke="#000" stroke-width="0.25" font-family="'Liberation Sans', Arial, Helvetica, sans-serif">SJ041447</text>
<line x1="523.62" y1="956.4" x2="523.62" y2="961.8" stroke="#444" stroke-width="1.3"/>
<text transform="translate(527.02,966) rotate(-90) scale(1,1.15)" font-size="11.1" text-anchor="end" stroke="#000" stroke-width="0.25" font-family="'Liberation Sans', Arial, Helvetica, sans-serif">SJ043614</text>
<line x1="538.53" y1="956.4" x2="538.53" y2="961.8" stroke="#444" stroke-width="1.3"/>
<text transform="translate(541.93,966) rotate(-90) scale(1,1.15)" font-size="11.1" text-anchor="end" stroke="#000" stroke-width="0.25" font-family="'Liberation Sans', Arial, Helvetica, sans-serif">SJ043615</text>
<line x1="553.42" y1="956.4" x2="553.42" y2="961.8" stroke="#444" stroke-width="1.3"/>
<text transform="translate(556.82,966) rotate(-90) scale(1,1.15)" font-size="11.1" text-anchor="end" stroke="#000" stroke-width="0.25" font-family="'Liberation Sans', Arial, Helvetica, sans-serif">SJ043619</text>
<line x1="569.33" y1="956.4" x2="569.33" y2="961.8" stroke="#444" stroke-width="1.3"/>
<text transform="translate(572.73,966) rotate(-90) scale(1,1.15)" font-size="11.1" text-anchor="end" stroke="#000" stroke-width="0.25" font-family="'Liberation Sans', Arial, Helvetica, sans-serif">SJ016512</text>
<line x1="584.23" y1="956.4" x2="584.23" y2="961.8" stroke="#444" stroke-width="1.3"/>
<text transform="translate(587.62,966) rotate(-90) scale(1,1.15)" font-size="11.1" text-anchor="end" stroke="#000" stroke-width="0.25" font-family="'Liberation Sans', Arial, Helvetica, sans-serif">SJ015363</text>
<line x1="599.12" y1="956.4" x2="599.12" y2="961.8" stroke="#444" stroke-width="1.3"/>
<text transform="translate(602.52,966) rotate(-90) scale(1,1.15)" font-size="11.1" text-anchor="end" stroke="#000" stroke-width="0.25" font-family="'Liberation Sans', Arial, Helvetica, sans-serif">SJ016502</text>
<line x1="615.03" y1="956.4" x2="615.03" y2="961.8" stroke="#444" stroke-width="1.3"/>
<text transform="translate(618.43,966) rotate(-90) scale(1,1.15)" font-size="11.1" text-anchor="end" stroke="#000" stroke-width="0.25" font-family="'Liberation Sans', Arial, Helvetica, sans-serif">SJ030799</text>
<line x1="629.92" y1="956.4" x2="629.92" y2="961.8" stroke="#444" stroke-width="1.3"/>
<text transform="translate(633.32,966) rotate(-90) scale(1,1.15)" font-size="11.1" text-anchor="end" stroke="#000" stroke-width="0.25" font-family="'Liberation Sans', Arial, Helvetica, sans-serif">SJ016494</text>
<line x1="644.83" y1="956.4" x2="644.83" y2="961.8" stroke="#444" stroke-width="1.3"/>
<text transform="translate(648.23,966) rotate(-90) scale(1,1.15)" font-size="11.1" text-anchor="end" stroke="#000" stroke-width="0.25" font-family="'Liberation Sans', Arial, Helvetica, sans-serif">SJ016468</text>
<line x1="659.73" y1="956.4" x2="659.73" y2="961.8" stroke="#444" stroke-width="1.3"/>
<text transform="translate(663.12,966) rotate(-90) scale(1,1.15)" font-size="11.1" text-anchor="end" stroke="#000" stroke-width="0.25" font-family="'Liberation Sans', Arial, Helvetica, sans-serif">SJ030441</text>
<line x1="674.62" y1="956.4" x2="674.62" y2="961.8" stroke="#444" stroke-width="1.3"/>
<text transform="translate(678.02,966) rotate(-90) scale(1,1.15)" font-size="11.1" text-anchor="end" stroke="#000" stroke-width="0.25" font-family="'Liberation Sans', Arial, Helvetica, sans-serif">SJ040265</text>
<line x1="690.52" y1="956.4" x2="690.52" y2="961.8" stroke="#444" stroke-width="1.3"/>
<text transform="translate(693.92,966) rotate(-90) scale(1,1.15)" font-size="11.1" text-anchor="end" stroke="#000" stroke-width="0.25" font-family="'Liberation Sans', Arial, Helvetica, sans-serif">SJ001119</text>
<line x1="705.43" y1="956.4" x2="705.43" y2="961.8" stroke="#444" stroke-width="1.3"/>
<text transform="translate(708.83,966) rotate(-90) scale(1,1.15)" font-size="11.1" text-anchor="end" stroke="#000" stroke-width="0.25" font-family="'Liberation Sans', Arial, Helvetica, sans-serif">SJ015849</text>
<line x1="720.33" y1="956.4" x2="720.33" y2="961.8" stroke="#444" stroke-width="1.3"/>
<text transform="translate(723.73,966) rotate(-90) scale(1,1.15)" font-size="11.1" text-anchor="end" stroke="#000" stroke-width="0.25" font-family="'Liberation Sans', Arial, Helvetica, sans-serif">SJ043624</text>
<line x1="735.23" y1="956.4" x2="735.23" y2="961.8" stroke="#444" stroke-width="1.3"/>
<text transform="translate(738.62,966) rotate(-90) scale(1,1.15)" font-size="11.1" text-anchor="end" stroke="#000" stroke-width="0.25" font-family="'Liberation Sans', Arial, Helvetica, sans-serif">SJ015852</text>
<line x1="750.12" y1="956.4" x2="750.12" y2="961.8" stroke="#444" stroke-width="1.3"/>
<text transform="translate(753.52,966) rotate(-90) scale(1,1.15)" font-size="11.1" text-anchor="end" stroke="#000" stroke-width="0.25" font-family="'Liberation Sans', Arial, Helvetica, sans-serif">SJ043076</text>
<line x1="765.02" y1="956.4" x2="765.02" y2="961.8" stroke="#444" stroke-width="1.3"/>
<text transform="translate(768.42,966) rotate(-90) scale(1,1.15)" font-size="11.1" text-anchor="end" stroke="#000" stroke-width="0.25" font-family="'Liberation Sans', Arial, Helvetica, sans-serif">SJ018205</text>
<line x1="779.93" y1="956.4" x2="779.93" y2="961.8" stroke="#444" stroke-width="1.3"/>
<text transform="translate(783.33,966) rotate(-90) scale(1,1.15)" font-size="11.1" text-anchor="end" stroke="#000" stroke-width="0.25" font-family="'Liberation Sans', Arial, Helvetica, sans-serif">SJ030708</text>
<line x1="794.83" y1="956.4" x2="794.83" y2="961.8" stroke="#444" stroke-width="1.3"/>
<text transform="translate(798.23,966) rotate(-90) scale(1,1.15)" font-size="11.1" text-anchor="end" stroke="#000" stroke-width="0.25" font-family="'Liberation Sans', Arial, Helvetica, sans-serif">SJ018195</text>
<line x1="809.73" y1="956.4" x2="809.73" y2="961.8" stroke="#444" stroke-width="1.3"/>
<text transform="translate(813.12,966) rotate(-90) scale(1,1.15)" font-size="11.1" text-anchor="end" stroke="#000" stroke-width="0.25" font-family="'Liberation Sans', Arial, Helvetica, sans-serif">SJ016473</text>
<line x1="824.62" y1="956.4" x2="824.62" y2="961.8" stroke="#444" stroke-width="1.3"/>
<text transform="translate(828.02,966) rotate(-90) scale(1,1.15)" font-size="11.1" text-anchor="end" stroke="#000" stroke-width="0.25" font-family="'Liberation Sans', Arial, Helvetica, sans-serif">SJ016511</text>
<line x1="839.52" y1="956.4" x2="839.52" y2="961.8" stroke="#444" stroke-width="1.3"/>
<text transform="translate(842.92,966) rotate(-90) scale(1,1.15)" font-size="11.1" text-anchor="end" stroke="#000" stroke-width="0.25" font-family="'Liberation Sans', Arial, Helvetica, sans-serif">SJ016469</text>
<line x1="855.43" y1="956.4" x2="855.43" y2="961.8" stroke="#444" stroke-width="1.3"/>
<text transform="translate(858.83,966) rotate(-90) scale(1,1.15)" font-size="11.1" text-anchor="end" stroke="#000" stroke-width="0.25" font-family="'Liberation Sans', Arial, Helvetica, sans-serif">SJ016496</text>
<line x1="870.33" y1="956.4" x2="870.33" y2="961.8" stroke="#444" stroke-width="1.3"/>
<text transform="translate(873.73,966) rotate(-90) scale(1,1.15)" font-size="11.1" text-anchor="end" stroke="#000" stroke-width="0.25" font-family="'Liberation Sans', Arial, Helvetica, sans-serif">SJ016501</text>
<line x1="885.23" y1="956.4" x2="885.23" y2="961.8" stroke="#444" stroke-width="1.3"/>
<text transform="translate(888.62,966) rotate(-90) scale(1,1.15)" font-size="11.1" text-anchor="end" stroke="#000" stroke-width="0.25" font-family="'Liberation Sans', Arial, Helvetica, sans-serif">SJ016519</text>
<line x1="900.12" y1="956.4" x2="900.12" y2="961.8" stroke="#444" stroke-width="1.3"/>
<text transform="translate(903.52,966) rotate(-90) scale(1,1.15)" font-size="11.1" text-anchor="end" stroke="#000" stroke-width="0.25" font-family="'Liberation Sans', Arial, Helvetica, sans-serif">SJ018209</text>
<line x1="915.02" y1="956.4" x2="915.02" y2="961.8" stroke="#444" stroke-width="1.3"/>
<text transform="translate(918.42,966) rotate(-90) scale(1,1.15)" font-size="11.1" text-anchor="end" stroke="#000" stroke-width="0.25" font-family="'Liberation Sans', Arial, Helvetica, sans-serif">SJ030727</text>
<line x1="929.93" y1="956.4" x2="929.93" y2="961.8" stroke="#444" stroke-width="1.3"/>
<text transform="translate(933.33,966) rotate(-90) scale(1,1.15)" font-size="11.1" text-anchor="end" stroke="#000" stroke-width="0.25" font-family="'Liberation Sans', Arial, Helvetica, sans-serif">SJ016475</text>
<line x1="944.83" y1="956.4" x2="944.83" y2="961.8" stroke="#444" stroke-width="1.3"/>
<text transform="translate(948.23,966) rotate(-90) scale(1,1.15)" font-size="11.1" text-anchor="end" stroke="#000" stroke-width="0.25" font-family="'Liberation Sans', Arial, Helvetica, sans-serif">SJ016470</text>
<line x1="960.73" y1="956.4" x2="960.73" y2="961.8" stroke="#444" stroke-width="1.3"/>
<text transform="translate(964.12,966) rotate(-90) scale(1,1.15)" font-size="11.1" text-anchor="end" stroke="#000" stroke-width="0.25" font-family="'Liberation Sans', Arial, Helvetica, sans-serif">SJ007109</text>
<line x1="975.62" y1="956.4" x2="975.62" y2="961.8" stroke="#444" stroke-width="1.3"/>
<text transform="translate(979.02,966) rotate(-90) scale(1,1.15)" font-size="11.1" text-anchor="end" stroke="#000" stroke-width="0.25" font-family="'Liberation Sans', Arial, Helvetica, sans-serif">SJ016480</text>
<line x1="990.52" y1="956.4" x2="990.52" y2="961.8" stroke="#444" stroke-width="1.3"/>
<text transform="translate(993.92,966) rotate(-90) scale(1,1.15)" font-size="11.1" text-anchor="end" stroke="#000" stroke-width="0.25" font-family="'Liberation Sans', Arial, Helvetica, sans-serif">SJ016478</text>
<line x1="1005.43" y1="956.4" x2="1005.43" y2="961.8" stroke="#444" stroke-width="1.3"/>
<text transform="translate(1008.83,966) rotate(-90) scale(1,1.15)" font-size="11.1" text-anchor="end" stroke="#000" stroke-width="0.25" font-family="'Liberation Sans', Arial, Helvetica, sans-serif">SJ001305</text>
<line x1="1020.33" y1="956.4" x2="1020.33" y2="961.8" stroke="#444" stroke-width="1.3"/>
<text transform="translate(1023.73,966) rotate(-90) scale(1,1.15)" font-size="11.1" text-anchor="end" stroke="#000" stroke-width="0.25" font-family="'Liberation Sans', Arial, Helvetica, sans-serif">SJ004031</text>
<line x1="1035.22" y1="956.4" x2="1035.22" y2="961.8" stroke="#444" stroke-width="1.3"/>
<text transform="translate(1038.62,966) rotate(-90) scale(1,1.15)" font-size="11.1" text-anchor="end" stroke="#000" stroke-width="0.25" font-family="'Liberation Sans', Arial, Helvetica, sans-serif">SJ000089</text>
<line x1="1050.12" y1="956.4" x2="1050.12" y2="961.8" stroke="#444" stroke-width="1.3"/>
<text transform="translate(1053.53,966) rotate(-90) scale(1,1.15)" font-size="11.1" text-anchor="end" stroke="#000" stroke-width="0.25" font-family="'Liberation Sans', Arial, Helvetica, sans-serif">SJ016476</text>
<line x1="1065.03" y1="956.4" x2="1065.03" y2="961.8" stroke="#444" stroke-width="1.3"/>
<text transform="translate(1068.43,966) rotate(-90) scale(1,1.15)" font-size="11.1" text-anchor="end" stroke="#000" stroke-width="0.25" font-family="'Liberation Sans', Arial, Helvetica, sans-serif">SJ018194</text>
<text transform="translate(1079.1,502) rotate(90)" font-size="11" font-weight="bold" text-anchor="middle" font-family="'Liberation Sans', Arial, Helvetica, sans-serif">DNA Damage/Repair</text>
<text transform="translate(1079.1,646.4) rotate(90)" font-size="11" font-weight="bold" text-anchor="middle" font-family="'Liberation Sans', Arial, Helvetica, sans-serif">Signaling</text>
<text transform="translate(1079.1,791.2) rotate(90)" font-size="11" font-weight="bold" text-anchor="middle" font-family="'Liberation Sans', Arial, Helvetica, sans-serif">Epigenomic</text>
<text transform="translate(1091.8,904.6) rotate(90)" font-size="11" font-weight="bold" text-anchor="middle" font-family="'Liberation Sans', Arial, Helvetica, sans-serif">Transcriptional</text>
<text transform="translate(1076.9,904.7) rotate(90)" font-size="11" font-weight="bold" text-anchor="middle" font-family="'Liberation Sans', Arial, Helvetica, sans-serif">Regulation</text>
<text x="-1.5" y="23" font-size="44" font-weight="bold" font-family="'Liberation Sans', Arial, Helvetica, sans-serif">a</text>
<text x="-1.6" y="1088.8" font-size="42.8" font-weight="bold" font-family="'Liberation Sans', Arial, Helvetica, sans-serif">b</text>
<rect x="99.3" y="1096.3" width="16.3" height="16.7" fill="#d5d12a"/>
<text x="119.3" y="1110.3" font-size="19.6" font-weight="bold" font-family="'Liberation Sans', Arial, Helvetica, sans-serif">C(G)&gt;T(A)</text>
<rect x="244.6" y="1096.3" width="16.3" height="16.7" fill="#f2e86a"/>
<text x="264.6" y="1110.3" font-size="19.6" font-weight="bold" font-family="'Liberation Sans', Arial, Helvetica, sans-serif">A(T)&gt;G(C)</text>
<rect x="387.3" y="1096.3" width="16.3" height="16.7" fill="#0a6a8a"/>
<text x="407.3" y="1110.3" font-size="19.6" font-weight="bold" font-family="'Liberation Sans', Arial, Helvetica, sans-serif">C(G)&gt;G(C)</text>
<rect x="531.9" y="1096.3" width="16.3" height="16.7" fill="#139bcc"/>
<text x="551.9" y="1110.3" font-size="19.6" font-weight="bold" font-family="'Liberation Sans', Arial, Helvetica, sans-serif">C(G)&gt;A(T)</text>
<rect x="671.0" y="1096.3" width="16.3" height="16.7" fill="#46abd8"/>
<text x="691" y="1110.3" font-size="19.6" font-weight="bold" font-family="'Liberation Sans', Arial, Helvetica, sans-serif">A(T)&gt;T(A)</text>
<rect x="808.0" y="1096.3" width="16.3" height="16.7" fill="#5db6df"/>
<text x="828" y="1110.3" font-size="19.6" font-weight="bold" font-family="'Liberation Sans', Arial, Helvetica, sans-serif">A(T)&gt;C(G)</text>
<rect x="95.9" y="1123.0" width="1006.88" height="271.4" fill="#d5d12a"/>
<rect x="95.9" y="1123" width="17.24" height="78.39" fill="#d5d12a"/>
<rect x="95.9" y="1200.89" width="17.24" height="116.61" fill="#0a6a8a"/>
<rect x="95.9" y="1316.99" width="17.24" height="39.36" fill="#139bcc"/>
<rect x="95.9" y="1355.86" width="17.24" height="39.04" fill="#46abd8"/>
<rect x="112.14" y="1123" width="17.24" height="74.69" fill="#d5d12a"/>
<rect x="112.14" y="1197.19" width="17.24" height="25.55" fill="#f2e86a"/>
<rect x="112.14" y="1222.25" width="17.24" height="98.78" fill="#0a6a8a"/>
<rect x="112.14" y="1320.53" width="17.24" height="49.48" fill="#139bcc"/>
<rect x="112.14" y="1369.51" width="17.24" height="25.39" fill="#5db6df"/>
<rect x="128.38" y="1123" width="17.24" height="82.4" fill="#d5d12a"/>
<rect x="128.38" y="1204.9" width="17.24" height="27.32" fill="#f2e86a"/>
<rect x="128.38" y="1231.72" width="17.24" height="54.78" fill="#0a6a8a"/>
<rect x="128.38" y="1286" width="17.24" height="27.8" fill="#139bcc"/>
<rect x="128.38" y="1313.3" width="17.24" height="54.3" fill="#46abd8"/>
<rect x="128.38" y="1367.1" width="17.24" height="27.8" fill="#5db6df"/>
<rect x="144.62" y="1123" width="17.24" height="109.22" fill="#d5d12a"/>
<rect x="144.62" y="1231.72" width="17.24" height="109.06" fill="#0a6a8a"/>
<rect x="144.62" y="1340.28" width="17.24" height="54.62" fill="#46abd8"/>
<rect x="160.86" y="1123" width="17.24" height="109.22" fill="#d5d12a"/>
<rect x="160.86" y="1231.72" width="17.24" height="54.78" fill="#0a6a8a"/>
<rect x="160.86" y="1286" width="17.24" height="54.78" fill="#139bcc"/>
<rect x="160.86" y="1340.28" width="17.24" height="54.62" fill="#5db6df"/>
<rect x="177.1" y="1123" width="17.24" height="116.93" fill="#d5d12a"/>
<rect x="177.1" y="1239.43" width="17.24" height="78.07" fill="#0a6a8a"/>
<rect x="177.1" y="1316.99" width="17.24" height="39.36" fill="#139bcc"/>
<rect x="177.1" y="1355.86" width="17.24" height="39.04" fill="#5db6df"/>
<rect x="193.34" y="1123" width="17.24" height="116.93" fill="#d5d12a"/>
<rect x="193.34" y="1239.43" width="17.24" height="39.04" fill="#0a6a8a"/>
<rect x="193.34" y="1277.97" width="17.24" height="78.39" fill="#46abd8"/>
<rect x="193.34" y="1355.86" width="17.24" height="39.04" fill="#5db6df"/>
<rect x="209.58" y="1123" width="17.24" height="84.33" fill="#d5d12a"/>
<rect x="209.58" y="1206.83" width="17.24" height="41.93" fill="#f2e86a"/>
<rect x="209.58" y="1248.26" width="17.24" height="42.25" fill="#0a6a8a"/>
<rect x="209.58" y="1290.02" width="17.24" height="63.13" fill="#139bcc"/>
<rect x="209.58" y="1352.65" width="17.24" height="21.38" fill="#46abd8"/>
<rect x="209.58" y="1373.52" width="17.24" height="21.38" fill="#5db6df"/>
<rect x="225.82" y="1123" width="17.24" height="107.29" fill="#d5d12a"/>
<rect x="225.82" y="1229.79" width="17.24" height="22.5" fill="#f2e86a"/>
<rect x="225.82" y="1251.79" width="17.24" height="14.63" fill="#0a6a8a"/>
<rect x="225.82" y="1265.93" width="17.24" height="61.52" fill="#139bcc"/>
<rect x="225.82" y="1326.95" width="17.24" height="57.51" fill="#46abd8"/>
<rect x="225.82" y="1383.96" width="17.24" height="10.94" fill="#5db6df"/>
<rect x="242.06" y="1123" width="17.24" height="136.52" fill="#d5d12a"/>
<rect x="242.06" y="1259.02" width="17.24" height="68.43" fill="#0a6a8a"/>
<rect x="242.06" y="1326.95" width="17.24" height="67.95" fill="#139bcc"/>
<rect x="258.3" y="1123" width="17.24" height="136.52" fill="#d5d12a"/>
<rect x="258.3" y="1259.02" width="17.24" height="135.88" fill="#5db6df"/>
<rect x="274.54" y="1123" width="17.24" height="91.23" fill="#d5d12a"/>
<rect x="274.54" y="1213.73" width="17.24" height="60.72" fill="#f2e86a"/>
<rect x="274.54" y="1273.96" width="17.24" height="90.75" fill="#139bcc"/>
<rect x="274.54" y="1364.21" width="17.24" height="30.69" fill="#5db6df"/>
<rect x="290.78" y="1123" width="17.24" height="120.94" fill="#d5d12a"/>
<rect x="290.78" y="1243.44" width="17.24" height="31.01" fill="#f2e86a"/>
<rect x="290.78" y="1273.96" width="17.24" height="90.75" fill="#0a6a8a"/>
<rect x="290.78" y="1364.21" width="17.24" height="30.69" fill="#139bcc"/>
<rect x="307.02" y="1123" width="17.24" height="134.27" fill="#d5d12a"/>
<rect x="307.02" y="1256.77" width="17.24" height="23.3" fill="#f2e86a"/>
<rect x="307.02" y="1279.58" width="17.24" height="18.97" fill="#0a6a8a"/>
<rect x="307.02" y="1298.04" width="17.24" height="51.09" fill="#139bcc"/>
<rect x="307.02" y="1348.63" width="17.24" height="32.62" fill="#46abd8"/>
<rect x="307.02" y="1380.75" width="17.24" height="14.15" fill="#5db6df"/>
<rect x="323.26" y="1123" width="17.24" height="129.29" fill="#d5d12a"/>
<rect x="323.26" y="1251.79" width="17.24" height="29.09" fill="#f2e86a"/>
<rect x="323.26" y="1280.38" width="17.24" height="43.06" fill="#0a6a8a"/>
<rect x="323.26" y="1322.94" width="17.24" height="43.06" fill="#139bcc"/>
<rect x="323.26" y="1365.49" width="17.24" height="14.95" fill="#46abd8"/>
<rect x="323.26" y="1379.95" width="17.24" height="14.95" fill="#5db6df"/>
<rect x="339.5" y="1123" width="17.24" height="136.52" fill="#d5d12a"/>
<rect x="339.5" y="1259.02" width="17.24" height="22.66" fill="#f2e86a"/>
<rect x="339.5" y="1281.18" width="17.24" height="45.95" fill="#0a6a8a"/>
<rect x="339.5" y="1326.63" width="17.24" height="45.79" fill="#139bcc"/>
<rect x="339.5" y="1371.92" width="17.24" height="22.98" fill="#5db6df"/>
<rect x="355.74" y="1123" width="17.24" height="136.52" fill="#d5d12a"/>
<rect x="355.74" y="1259.02" width="17.24" height="22.66" fill="#f2e86a"/>
<rect x="355.74" y="1281.18" width="17.24" height="23.79" fill="#0a6a8a"/>
<rect x="355.74" y="1304.47" width="17.24" height="45.79" fill="#139bcc"/>
<rect x="355.74" y="1349.76" width="17.24" height="45.14" fill="#46abd8"/>
<rect x="371.98" y="1123" width="17.24" height="158.68" fill="#d5d12a"/>
<rect x="371.98" y="1281.18" width="17.24" height="23.79" fill="#0a6a8a"/>
<rect x="371.98" y="1304.47" width="17.24" height="22.98" fill="#139bcc"/>
<rect x="371.98" y="1326.95" width="17.24" height="23.3" fill="#46abd8"/>
<rect x="371.98" y="1349.76" width="17.24" height="45.14" fill="#5db6df"/>
<rect x="388.22" y="1123" width="17.24" height="159.49" fill="#d5d12a"/>
<rect x="388.22" y="1281.99" width="17.24" height="22.98" fill="#0a6a8a"/>
<rect x="388.22" y="1304.47" width="17.24" height="90.43" fill="#139bcc"/>
<rect x="404.46" y="1123" width="17.24" height="136.52" fill="#d5d12a"/>
<rect x="404.46" y="1259.02" width="17.24" height="27.48" fill="#f2e86a"/>
<rect x="404.46" y="1286" width="17.24" height="27.8" fill="#0a6a8a"/>
<rect x="404.46" y="1313.3" width="17.24" height="81.6" fill="#139bcc"/>
<rect x="420.7" y="1123" width="17.24" height="145.51" fill="#d5d12a"/>
<rect x="420.7" y="1268.01" width="17.24" height="18.49" fill="#f2e86a"/>
<rect x="420.7" y="1286" width="17.24" height="36.63" fill="#0a6a8a"/>
<rect x="420.7" y="1322.13" width="17.24" height="72.77" fill="#139bcc"/>
<rect x="436.94" y="1123" width="17.24" height="145.51" fill="#d5d12a"/>
<rect x="436.94" y="1268.01" width="17.24" height="18.49" fill="#f2e86a"/>
<rect x="436.94" y="1286" width="17.24" height="72.77" fill="#139bcc"/>
<rect x="436.94" y="1358.27" width="17.24" height="36.63" fill="#46abd8"/>
<rect x="453.18" y="1123" width="17.24" height="163.5" fill="#d5d12a"/>
<rect x="453.18" y="1286" width="17.24" height="108.9" fill="#0a6a8a"/>
<rect x="469.42" y="1123" width="17.24" height="163.5" fill="#d5d12a"/>
<rect x="469.42" y="1286" width="17.24" height="55.1" fill="#46abd8"/>
<rect x="469.42" y="1340.6" width="17.24" height="54.3" fill="#5db6df"/>
<rect x="485.66" y="1123" width="17.24" height="163.5" fill="#d5d12a"/>
<rect x="485.66" y="1286" width="17.24" height="90.43" fill="#139bcc"/>
<rect x="485.66" y="1375.93" width="17.24" height="18.97" fill="#5db6df"/>
<rect x="501.9" y="1123" width="17.24" height="136.52" fill="#d5d12a"/>
<rect x="501.9" y="1259.02" width="17.24" height="34.38" fill="#f2e86a"/>
<rect x="501.9" y="1292.91" width="17.24" height="34.22" fill="#0a6a8a"/>
<rect x="501.9" y="1326.63" width="17.24" height="68.27" fill="#139bcc"/>
<rect x="518.14" y="1123" width="17.24" height="124.16" fill="#d5d12a"/>
<rect x="518.14" y="1246.66" width="17.24" height="49.48" fill="#f2e86a"/>
<rect x="518.14" y="1295.64" width="17.24" height="25.39" fill="#0a6a8a"/>
<rect x="518.14" y="1320.53" width="17.24" height="49.48" fill="#139bcc"/>
<rect x="518.14" y="1369.51" width="17.24" height="25.39" fill="#5db6df"/>
<rect x="534.38" y="1123" width="17.24" height="173.14" fill="#d5d12a"/>
<rect x="534.38" y="1295.64" width="17.24" height="49.48" fill="#139bcc"/>
<rect x="534.38" y="1344.62" width="17.24" height="25.39" fill="#46abd8"/>
<rect x="534.38" y="1369.51" width="17.24" height="25.39" fill="#5db6df"/>
<rect x="550.62" y="1123" width="17.24" height="181.65" fill="#d5d12a"/>
<rect x="550.62" y="1304.15" width="17.24" height="90.75" fill="#46abd8"/>
<rect x="566.86" y="1123" width="17.24" height="181.65" fill="#d5d12a"/>
<rect x="566.86" y="1304.15" width="17.24" height="90.75" fill="#46abd8"/>
<rect x="583.1" y="1123" width="17.24" height="181.65" fill="#d5d12a"/>
<rect x="583.1" y="1304.15" width="17.24" height="90.75" fill="#139bcc"/>
<rect x="599.34" y="1123" width="17.24" height="163.5" fill="#d5d12a"/>
<rect x="599.34" y="1286" width="17.24" height="27.8" fill="#f2e86a"/>
<rect x="599.34" y="1313.3" width="17.24" height="27.8" fill="#0a6a8a"/>
<rect x="599.34" y="1340.6" width="17.24" height="27" fill="#46abd8"/>
<rect x="599.34" y="1367.1" width="17.24" height="27.8" fill="#5db6df"/>
<rect x="615.58" y="1123" width="17.24" height="171.53" fill="#d5d12a"/>
<rect x="615.58" y="1294.03" width="17.24" height="20.57" fill="#f2e86a"/>
<rect x="615.58" y="1314.1" width="17.24" height="20.57" fill="#0a6a8a"/>
<rect x="615.58" y="1334.18" width="17.24" height="31.01" fill="#139bcc"/>
<rect x="615.58" y="1364.69" width="17.24" height="30.21" fill="#46abd8"/>
<rect x="631.82" y="1123" width="17.24" height="194.49" fill="#d5d12a"/>
<rect x="631.82" y="1316.99" width="17.24" height="39.36" fill="#139bcc"/>
<rect x="631.82" y="1355.86" width="17.24" height="39.04" fill="#5db6df"/>
<rect x="648.06" y="1123" width="17.24" height="194.49" fill="#d5d12a"/>
<rect x="648.06" y="1316.99" width="17.24" height="39.36" fill="#139bcc"/>
<rect x="648.06" y="1355.86" width="17.24" height="39.04" fill="#5db6df"/>
<rect x="664.3" y="1123" width="17.24" height="136.52" fill="#d5d12a"/>
<rect x="664.3" y="1259.02" width="17.24" height="60.4" fill="#f2e86a"/>
<rect x="664.3" y="1318.92" width="17.24" height="15.76" fill="#0a6a8a"/>
<rect x="664.3" y="1334.18" width="17.24" height="45.47" fill="#139bcc"/>
<rect x="664.3" y="1379.14" width="17.24" height="15.76" fill="#46abd8"/>
<rect x="680.54" y="1123" width="17.24" height="154.67" fill="#d5d12a"/>
<rect x="680.54" y="1277.17" width="17.24" height="45.47" fill="#f2e86a"/>
<rect x="680.54" y="1322.13" width="17.24" height="36.63" fill="#0a6a8a"/>
<rect x="680.54" y="1358.27" width="17.24" height="18.17" fill="#46abd8"/>
<rect x="680.54" y="1375.93" width="17.24" height="18.97" fill="#5db6df"/>
<rect x="696.78" y="1123" width="17.24" height="190.8" fill="#d5d12a"/>
<rect x="696.78" y="1313.3" width="17.24" height="14.15" fill="#f2e86a"/>
<rect x="696.78" y="1326.95" width="17.24" height="27.8" fill="#0a6a8a"/>
<rect x="696.78" y="1354.25" width="17.24" height="13.35" fill="#46abd8"/>
<rect x="696.78" y="1367.1" width="17.24" height="27.8" fill="#5db6df"/>
<rect x="713.02" y="1123" width="17.24" height="204.45" fill="#d5d12a"/>
<rect x="713.02" y="1326.95" width="17.24" height="34.22" fill="#0a6a8a"/>
<rect x="713.02" y="1360.68" width="17.24" height="34.22" fill="#5db6df"/>
<rect x="729.26" y="1123" width="17.24" height="204.45" fill="#d5d12a"/>
<rect x="729.26" y="1326.95" width="17.24" height="34.22" fill="#0a6a8a"/>
<rect x="729.26" y="1360.68" width="17.24" height="34.22" fill="#139bcc"/>
<rect x="745.5" y="1123" width="17.24" height="204.45" fill="#d5d12a"/>
<rect x="745.5" y="1326.95" width="17.24" height="34.22" fill="#0a6a8a"/>
<rect x="745.5" y="1360.68" width="17.24" height="34.22" fill="#139bcc"/>
<rect x="761.74" y="1123" width="17.24" height="204.45" fill="#d5d12a"/>
<rect x="761.74" y="1326.95" width="17.24" height="67.95" fill="#5db6df"/>
<rect x="777.98" y="1123" width="17.24" height="218.1" fill="#d5d12a"/>
<rect x="777.98" y="1340.6" width="17.24" height="54.3" fill="#0a6a8a"/>
<rect x="794.22" y="1123" width="17.24" height="148.57" fill="#d5d12a"/>
<rect x="794.22" y="1271.07" width="17.24" height="74.53" fill="#f2e86a"/>
<rect x="794.22" y="1345.1" width="17.24" height="25.23" fill="#139bcc"/>
<rect x="794.22" y="1369.83" width="17.24" height="25.07" fill="#5db6df"/>
<rect x="810.46" y="1123" width="17.24" height="173.46" fill="#d5d12a"/>
<rect x="810.46" y="1295.96" width="17.24" height="49.64" fill="#f2e86a"/>
<rect x="810.46" y="1345.1" width="17.24" height="25.23" fill="#139bcc"/>
<rect x="810.46" y="1369.83" width="17.24" height="25.07" fill="#46abd8"/>
<rect x="826.7" y="1123" width="17.24" height="226.95" fill="#d5d12a"/>
<rect x="826.7" y="1349.45" width="17.24" height="45.45" fill="#0a6a8a"/>
<rect x="842.94" y="1123" width="17.24" height="131.01" fill="#d5d12a"/>
<rect x="842.94" y="1253.51" width="17.24" height="98.17" fill="#f2e86a"/>
<rect x="842.94" y="1351.18" width="17.24" height="11.74" fill="#139bcc"/>
<rect x="842.94" y="1362.42" width="17.24" height="10.87" fill="#46abd8"/>
<rect x="842.94" y="1372.79" width="17.24" height="22.11" fill="#5db6df"/>
<rect x="859.18" y="1123" width="17.24" height="233.52" fill="#d5d12a"/>
<rect x="859.18" y="1356.02" width="17.24" height="38.88" fill="#139bcc"/>
<rect x="875.42" y="1123" width="17.24" height="233.52" fill="#d5d12a"/>
<rect x="875.42" y="1356.02" width="17.24" height="38.88" fill="#139bcc"/>
<rect x="891.66" y="1123" width="17.24" height="238.19" fill="#d5d12a"/>
<rect x="891.66" y="1360.69" width="17.24" height="34.21" fill="#0a6a8a"/>
<rect x="907.9" y="1123" width="17.24" height="181.66" fill="#d5d12a"/>
<rect x="907.9" y="1304.16" width="17.24" height="61" fill="#f2e86a"/>
<rect x="907.9" y="1364.67" width="17.24" height="30.23" fill="#0a6a8a"/>
<rect x="924.14" y="1123" width="17.24" height="181.66" fill="#d5d12a"/>
<rect x="924.14" y="1304.16" width="17.24" height="61" fill="#f2e86a"/>
<rect x="924.14" y="1364.67" width="17.24" height="30.23" fill="#139bcc"/>
<rect x="940.38" y="1123" width="17.24" height="191.52" fill="#d5d12a"/>
<rect x="940.38" y="1314.02" width="17.24" height="51.84" fill="#f2e86a"/>
<rect x="940.38" y="1365.36" width="17.24" height="10.18" fill="#0a6a8a"/>
<rect x="940.38" y="1375.04" width="17.24" height="16.92" fill="#139bcc"/>
<rect x="940.38" y="1391.46" width="17.24" height="3.44" fill="#5db6df"/>
<rect x="956.62" y="1123" width="17.24" height="247.35" fill="#d5d12a"/>
<rect x="956.62" y="1369.85" width="17.24" height="25.05" fill="#46abd8"/>
<rect x="972.86" y="1123" width="17.24" height="169.04" fill="#d5d12a"/>
<rect x="972.86" y="1291.54" width="17.24" height="86.07" fill="#f2e86a"/>
<rect x="972.86" y="1377.11" width="17.24" height="3.44" fill="#0a6a8a"/>
<rect x="972.86" y="1380.05" width="17.24" height="2.75" fill="#46abd8"/>
<rect x="972.86" y="1382.3" width="17.24" height="12.6" fill="#5db6df"/>
<rect x="989.1" y="1123" width="17.24" height="136.55" fill="#d5d12a"/>
<rect x="989.1" y="1259.05" width="17.24" height="135.85" fill="#f2e86a"/>
<rect x="1005.34" y="1123" width="17.24" height="181.66" fill="#d5d12a"/>
<rect x="1005.34" y="1304.16" width="17.24" height="90.74" fill="#f2e86a"/>
<rect x="1021.58" y="1123" width="17.24" height="271.9" fill="#d5d12a"/>
<rect x="1037.82" y="1123" width="17.24" height="271.9" fill="#d5d12a"/>
<rect x="1054.06" y="1123" width="17.24" height="271.9" fill="#d5d12a"/>
<rect x="1070.3" y="1123" width="17.24" height="271.9" fill="#d5d12a"/>
<rect x="1086.54" y="1123" width="16.24" height="271.9" fill="#d5d12a"/>
<line x1="94.6" y1="1122.4" x2="94.6" y2="1395.2" stroke="#000" stroke-width="2.6"/>
<line x1="90.5" y1="1123.0" x2="95" y2="1123.0" stroke="#000" stroke-width="1.5"/>
<line x1="90.5" y1="1394.4" x2="95" y2="1394.4" stroke="#000" stroke-width="1.5"/>
<text x="89.2" y="1127" font-size="10.6" text-anchor="end" font-family="'Liberation Sans', Arial, Helvetica, sans-serif">1</text>
<text x="89.2" y="1398.4" font-size="10.6" text-anchor="end" font-family="'Liberation Sans', Arial, Helvetica, sans-serif">0</text>
<text x="53.5" y="1258.8" font-size="12" font-weight="bold" text-anchor="middle" font-family="'Liberation Sans', Arial, Helvetica, sans-serif">Mutation</text>
<text x="53.5" y="1269.3" font-size="12" font-weight="bold" text-anchor="middle" font-family="'Liberation Sans', Arial, Helvetica, sans-serif">Spectrum</text>
<text transform="translate(104.3,1397.8) rotate(-90)" font-size="16.2" text-anchor="end" font-family="'Liberation Sans', Arial, Helvetica, sans-serif">SJ016492</text>
<text transform="translate(120.54,1397.8) rotate(-90)" font-size="16.2" text-anchor="end" font-family="'Liberation Sans', Arial, Helvetica, sans-serif">SJ018205</text>
<text transform="translate(136.78,1397.8) rotate(-90)" font-size="16.2" text-anchor="end" font-family="'Liberation Sans', Arial, Helvetica, sans-serif">SJ016506</text>
<text transform="translate(153.02,1397.8) rotate(-90)" font-size="16.2" text-anchor="end" font-family="'Liberation Sans', Arial, Helvetica, sans-serif">SJ016491</text>
<text transform="translate(169.26,1397.8) rotate(-90)" font-size="16.2" text-anchor="end" font-family="'Liberation Sans', Arial, Helvetica, sans-serif">SJ015363</text>
<text transform="translate(185.5,1397.8) rotate(-90)" font-size="16.2" text-anchor="end" font-family="'Liberation Sans', Arial, Helvetica, sans-serif">SJ016500</text>
<text transform="translate(201.74,1397.8) rotate(-90)" font-size="16.2" text-anchor="end" font-family="'Liberation Sans', Arial, Helvetica, sans-serif">SJ030708</text>
<text transform="translate(217.98,1397.8) rotate(-90)" font-size="16.2" text-anchor="end" font-family="'Liberation Sans', Arial, Helvetica, sans-serif">SJ016480</text>
<text transform="translate(234.22,1397.8) rotate(-90)" font-size="16.2" text-anchor="end" font-family="'Liberation Sans', Arial, Helvetica, sans-serif">SJ016473</text>
<text transform="translate(250.46,1397.8) rotate(-90)" font-size="16.2" text-anchor="end" font-family="'Liberation Sans', Arial, Helvetica, sans-serif">SJ043614</text>
<text transform="translate(266.7,1397.8) rotate(-90)" font-size="16.2" text-anchor="end" font-family="'Liberation Sans', Arial, Helvetica, sans-serif">SJ043612</text>
<text transform="translate(282.94,1397.8) rotate(-90)" font-size="16.2" text-anchor="end" font-family="'Liberation Sans', Arial, Helvetica, sans-serif">SJ043619</text>
<text transform="translate(299.18,1397.8) rotate(-90)" font-size="16.2" text-anchor="end" font-family="'Liberation Sans', Arial, Helvetica, sans-serif">SJ030441</text>
<text transform="translate(315.42,1397.8) rotate(-90)" font-size="16.2" text-anchor="end" font-family="'Liberation Sans', Arial, Helvetica, sans-serif">SJ043076</text>
<text transform="translate(331.66,1397.8) rotate(-90)" font-size="16.2" text-anchor="end" font-family="'Liberation Sans', Arial, Helvetica, sans-serif">SJ016501</text>
<text transform="translate(347.9,1397.8) rotate(-90)" font-size="16.2" text-anchor="end" font-family="'Liberation Sans', Arial, Helvetica, sans-serif">SJ016470</text>
<text transform="translate(364.14,1397.8) rotate(-90)" font-size="16.2" text-anchor="end" font-family="'Liberation Sans', Arial, Helvetica, sans-serif">SJ016469</text>
<text transform="translate(380.38,1397.8) rotate(-90)" font-size="16.2" text-anchor="end" font-family="'Liberation Sans', Arial, Helvetica, sans-serif">SJ005142</text>
<text transform="translate(396.62,1397.8) rotate(-90)" font-size="16.2" text-anchor="end" font-family="'Liberation Sans', Arial, Helvetica, sans-serif">SJ001119</text>
<text transform="translate(412.86,1397.8) rotate(-90)" font-size="16.2" text-anchor="end" font-family="'Liberation Sans', Arial, Helvetica, sans-serif">SJ016478</text>
<text transform="translate(429.1,1397.8) rotate(-90)" font-size="16.2" text-anchor="end" font-family="'Liberation Sans', Arial, Helvetica, sans-serif">SJ043613</text>
<text transform="translate(445.34,1397.8) rotate(-90)" font-size="16.2" text-anchor="end" font-family="'Liberation Sans', Arial, Helvetica, sans-serif">SJ030799</text>
<text transform="translate(461.58,1397.8) rotate(-90)" font-size="16.2" text-anchor="end" font-family="'Liberation Sans', Arial, Helvetica, sans-serif">SJ041447</text>
<text transform="translate(477.82,1397.8) rotate(-90)" font-size="16.2" text-anchor="end" font-family="'Liberation Sans', Arial, Helvetica, sans-serif">SJ016513</text>
<text transform="translate(494.06,1397.8) rotate(-90)" font-size="16.2" text-anchor="end" font-family="'Liberation Sans', Arial, Helvetica, sans-serif">SJ015852</text>
<text transform="translate(510.3,1397.8) rotate(-90)" font-size="16.2" text-anchor="end" font-family="'Liberation Sans', Arial, Helvetica, sans-serif">SJ004919</text>
<text transform="translate(526.54,1397.8) rotate(-90)" font-size="16.2" text-anchor="end" font-family="'Liberation Sans', Arial, Helvetica, sans-serif">SJ001305</text>
<text transform="translate(542.78,1397.8) rotate(-90)" font-size="16.2" text-anchor="end" font-family="'Liberation Sans', Arial, Helvetica, sans-serif">SJ016475</text>
<text transform="translate(559.02,1397.8) rotate(-90)" font-size="16.2" text-anchor="end" font-family="'Liberation Sans', Arial, Helvetica, sans-serif">SJ003151</text>
<text transform="translate(575.26,1397.8) rotate(-90)" font-size="16.2" text-anchor="end" font-family="'Liberation Sans', Arial, Helvetica, sans-serif">SJ016508</text>
<text transform="translate(591.5,1397.8) rotate(-90)" font-size="16.2" text-anchor="end" font-family="'Liberation Sans', Arial, Helvetica, sans-serif">SJ016517</text>
<text transform="translate(607.74,1397.8) rotate(-90)" font-size="16.2" text-anchor="end" font-family="'Liberation Sans', Arial, Helvetica, sans-serif">SJ016512</text>
<text transform="translate(623.98,1397.8) rotate(-90)" font-size="16.2" text-anchor="end" font-family="'Liberation Sans', Arial, Helvetica, sans-serif">SJ016511</text>
<text transform="translate(640.22,1397.8) rotate(-90)" font-size="16.2" text-anchor="end" font-family="'Liberation Sans', Arial, Helvetica, sans-serif">SJ040265</text>
<text transform="translate(656.46,1397.8) rotate(-90)" font-size="16.2" text-anchor="end" font-family="'Liberation Sans', Arial, Helvetica, sans-serif">SJ004031</text>
<text transform="translate(672.7,1397.8) rotate(-90)" font-size="16.2" text-anchor="end" font-family="'Liberation Sans', Arial, Helvetica, sans-serif">SJ030727</text>
<text transform="translate(688.94,1397.8) rotate(-90)" font-size="16.2" text-anchor="end" font-family="'Liberation Sans', Arial, Helvetica, sans-serif">SJ005124</text>
<text transform="translate(705.18,1397.8) rotate(-90)" font-size="16.2" text-anchor="end" font-family="'Liberation Sans', Arial, Helvetica, sans-serif">SJ016496</text>
<text transform="translate(721.42,1397.8) rotate(-90)" font-size="16.2" text-anchor="end" font-family="'Liberation Sans', Arial, Helvetica, sans-serif">SJ018195</text>
<text transform="translate(737.66,1397.8) rotate(-90)" font-size="16.2" text-anchor="end" font-family="'Liberation Sans', Arial, Helvetica, sans-serif">SJ016462</text>
<text transform="translate(753.9,1397.8) rotate(-90)" font-size="16.2" text-anchor="end" font-family="'Liberation Sans', Arial, Helvetica, sans-serif">SJ016502</text>
<text transform="translate(770.14,1397.8) rotate(-90)" font-size="16.2" text-anchor="end" font-family="'Liberation Sans', Arial, Helvetica, sans-serif">SJ016487</text>
<text transform="translate(786.38,1397.8) rotate(-90)" font-size="16.2" text-anchor="end" font-family="'Liberation Sans', Arial, Helvetica, sans-serif">SJ043624</text>
<text transform="translate(802.62,1397.8) rotate(-90)" font-size="16.2" text-anchor="end" font-family="'Liberation Sans', Arial, Helvetica, sans-serif">SJ016468</text>
<text transform="translate(818.86,1397.8) rotate(-90)" font-size="16.2" text-anchor="end" font-family="'Liberation Sans', Arial, Helvetica, sans-serif">SJ000089</text>
<text transform="translate(835.1,1397.8) rotate(-90)" font-size="16.2" text-anchor="end" font-family="'Liberation Sans', Arial, Helvetica, sans-serif">SJ021960</text>
<text transform="translate(851.34,1397.8) rotate(-90)" font-size="16.2" text-anchor="end" font-family="'Liberation Sans', Arial, Helvetica, sans-serif">SJ018209</text>
<text transform="translate(867.58,1397.8) rotate(-90)" font-size="16.2" text-anchor="end" font-family="'Liberation Sans', Arial, Helvetica, sans-serif">SJ003512</text>
<text transform="translate(883.82,1397.8) rotate(-90)" font-size="16.2" text-anchor="end" font-family="'Liberation Sans', Arial, Helvetica, sans-serif">SJ043618</text>
<text transform="translate(900.06,1397.8) rotate(-90)" font-size="16.2" text-anchor="end" font-family="'Liberation Sans', Arial, Helvetica, sans-serif">SJ043616</text>
<text transform="translate(916.3,1397.8) rotate(-90)" font-size="16.2" text-anchor="end" font-family="'Liberation Sans', Arial, Helvetica, sans-serif">SJ018194</text>
<text transform="translate(932.54,1397.8) rotate(-90)" font-size="16.2" text-anchor="end" font-family="'Liberation Sans', Arial, Helvetica, sans-serif">SJ016498</text>
<text transform="translate(948.78,1397.8) rotate(-90)" font-size="16.2" text-anchor="end" font-family="'Liberation Sans', Arial, Helvetica, sans-serif">SJ016494</text>
<text transform="translate(965.02,1397.8) rotate(-90)" font-size="16.2" text-anchor="end" font-family="'Liberation Sans', Arial, Helvetica, sans-serif">SJ016489</text>
<text transform="translate(981.26,1397.8) rotate(-90)" font-size="16.2" text-anchor="end" font-family="'Liberation Sans', Arial, Helvetica, sans-serif">SJ016519</text>
<text transform="translate(997.5,1397.8) rotate(-90)" font-size="16.2" text-anchor="end" font-family="'Liberation Sans', Arial, Helvetica, sans-serif">SJ016476</text>
<text transform="translate(1013.74,1397.8) rotate(-90)" font-size="16.2" text-anchor="end" font-family="'Liberation Sans', Arial, Helvetica, sans-serif">SJ016507</text>
<text transform="translate(1029.98,1397.8) rotate(-90)" font-size="16.2" text-anchor="end" font-family="'Liberation Sans', Arial, Helvetica, sans-serif">SJ015849</text>
<text transform="translate(1046.22,1397.8) rotate(-90)" font-size="16.2" text-anchor="end" font-family="'Liberation Sans', Arial, Helvetica, sans-serif">SJ043615</text>
<text transform="translate(1062.46,1397.8) rotate(-90)" font-size="16.2" text-anchor="end" font-family="'Liberation Sans', Arial, Helvetica, sans-serif">SJ007109</text>
<text transform="translate(1078.7,1397.8) rotate(-90)" font-size="16.2" text-anchor="end" font-family="'Liberation Sans', Arial, Helvetica, sans-serif">SJ015847</text>
<text transform="translate(1094.94,1397.8) rotate(-90)" font-size="16.2" text-anchor="end" font-family="'Liberation Sans', Arial, Helvetica, sans-serif">SJ016493</text>
<line x1="95.9" y1="1477.2" x2="1102.9" y2="1477.2" stroke="#555" stroke-width="1"/>
<rect x="95.9" y="1477.2" width="17.24" height="3.85" fill="#555"/>
<rect x="112.14" y="1477.2" width="17.24" height="5.78" fill="#555"/>
<rect x="128.38" y="1477.2" width="17.24" height="5.46" fill="#555"/>
<rect x="144.62" y="1477.2" width="17.24" height="3.21" fill="#555"/>
<rect x="160.86" y="1477.2" width="17.24" height="3.21" fill="#555"/>
<rect x="177.1" y="1477.2" width="17.24" height="4.18" fill="#555"/>
<rect x="193.34" y="1477.2" width="17.24" height="4.18" fill="#555"/>
<rect x="209.58" y="1477.2" width="17.24" height="6.42" fill="#555"/>
<rect x="225.82" y="1477.2" width="17.24" height="35.34" fill="#555"/>
<rect x="242.06" y="1477.2" width="17.24" height="2.57" fill="#555"/>
<rect x="258.3" y="1477.2" width="17.24" height="1.28" fill="#555"/>
<rect x="274.54" y="1477.2" width="17.24" height="4.5" fill="#555"/>
<rect x="290.78" y="1477.2" width="17.24" height="4.5" fill="#555"/>
<rect x="307.02" y="1477.2" width="17.24" height="27.63" fill="#555"/>
<rect x="323.26" y="1477.2" width="17.24" height="8.99" fill="#555"/>
<rect x="339.5" y="1477.2" width="17.24" height="6.42" fill="#555"/>
<rect x="355.74" y="1477.2" width="17.24" height="6.42" fill="#555"/>
<rect x="371.98" y="1477.2" width="17.24" height="6.42" fill="#555"/>
<rect x="388.22" y="1477.2" width="17.24" height="6.42" fill="#555"/>
<rect x="404.46" y="1477.2" width="17.24" height="6.42" fill="#555"/>
<rect x="420.7" y="1477.2" width="17.24" height="7.39" fill="#555"/>
<rect x="436.94" y="1477.2" width="17.24" height="7.39" fill="#555"/>
<rect x="453.18" y="1477.2" width="17.24" height="3.21" fill="#555"/>
<rect x="469.42" y="1477.2" width="17.24" height="3.21" fill="#555"/>
<rect x="485.66" y="1477.2" width="17.24" height="7.39" fill="#555"/>
<rect x="501.9" y="1477.2" width="17.24" height="8.03" fill="#555"/>
<rect x="518.14" y="1477.2" width="17.24" height="5.78" fill="#555"/>
<rect x="534.38" y="1477.2" width="17.24" height="5.78" fill="#555"/>
<rect x="550.62" y="1477.2" width="17.24" height="1.61" fill="#555"/>
<rect x="566.86" y="1477.2" width="17.24" height="1.61" fill="#555"/>
<rect x="583.1" y="1477.2" width="17.24" height="1.61" fill="#555"/>
<rect x="599.34" y="1477.2" width="17.24" height="4.18" fill="#555"/>
<rect x="615.58" y="1477.2" width="17.24" height="12.21" fill="#555"/>
<rect x="631.82" y="1477.2" width="17.24" height="3.53" fill="#555"/>
<rect x="648.06" y="1477.2" width="17.24" height="3.53" fill="#555"/>
<rect x="664.3" y="1477.2" width="17.24" height="8.03" fill="#555"/>
<rect x="680.54" y="1477.2" width="17.24" height="13.17" fill="#555"/>
<rect x="696.78" y="1477.2" width="17.24" height="8.99" fill="#555"/>
<rect x="713.02" y="1477.2" width="17.24" height="3.53" fill="#555"/>
<rect x="729.26" y="1477.2" width="17.24" height="3.21" fill="#555"/>
<rect x="745.5" y="1477.2" width="17.24" height="3.21" fill="#555"/>
<rect x="761.74" y="1477.2" width="17.24" height="1.93" fill="#555"/>
<rect x="777.98" y="1477.2" width="17.24" height="1.61" fill="#555"/>
<rect x="794.22" y="1477.2" width="17.24" height="4.82" fill="#555"/>
<rect x="810.46" y="1477.2" width="17.24" height="4.82" fill="#555"/>
<rect x="826.7" y="1477.2" width="17.24" height="3.21" fill="#555"/>
<rect x="842.94" y="1477.2" width="17.24" height="11.24" fill="#555"/>
<rect x="859.18" y="1477.2" width="17.24" height="3.21" fill="#555"/>
<rect x="875.42" y="1477.2" width="17.24" height="2.57" fill="#555"/>
<rect x="891.66" y="1477.2" width="17.24" height="3.21" fill="#555"/>
<rect x="907.9" y="1477.2" width="17.24" height="3.53" fill="#555"/>
<rect x="924.14" y="1477.2" width="17.24" height="3.53" fill="#555"/>
<rect x="940.38" y="1477.2" width="17.24" height="38.55" fill="#555"/>
<rect x="956.62" y="1477.2" width="17.24" height="4.18" fill="#555"/>
<rect x="972.86" y="1477.2" width="17.24" height="42.72" fill="#555"/>
<rect x="989.1" y="1477.2" width="17.24" height="0.64" fill="#555"/>
<rect x="1005.34" y="1477.2" width="17.24" height="1.28" fill="#555"/>
<rect x="1021.58" y="1477.2" width="17.24" height="3.53" fill="#555"/>
<rect x="1037.82" y="1477.2" width="17.24" height="0.32" fill="#555"/>
<rect x="1054.06" y="1477.2" width="17.24" height="0.32" fill="#555"/>
<rect x="1070.3" y="1477.2" width="17.24" height="2.57" fill="#555"/>
<rect x="1086.54" y="1477.2" width="16.24" height="0.32" fill="#555"/>
<line x1="93.3" y1="1476.6000000000001" x2="93.3" y2="1520.6" stroke="#000" stroke-width="2.6"/>
<line x1="89.5" y1="1477.2" x2="93.5" y2="1477.2" stroke="#000" stroke-width="1.5"/>
<line x1="89.5" y1="1519.8" x2="93.5" y2="1519.8" stroke="#000" stroke-width="1.5"/>
<text x="88.2" y="1481.2" font-size="10.6" text-anchor="end" font-family="'Liberation Sans', Arial, Helvetica, sans-serif">0</text>
<text x="88.2" y="1523.8" font-size="10.6" text-anchor="end" font-family="'Liberation Sans', Arial, Helvetica, sans-serif">92</text>
<text x="55.6" y="1495.4" font-size="12" font-weight="bold" text-anchor="middle" font-family="'Liberation Sans', Arial, Helvetica, sans-serif">Mutation</text>
<text x="55.6" y="1505.8" font-size="12" font-weight="bold" text-anchor="middle" font-family="'Liberation Sans', Arial, Helvetica, sans-serif">Count</text>
<text x="-1.5" y="1597.9" font-size="44" font-weight="bold" font-family="'Liberation Sans', Arial, Helvetica, sans-serif">c</text>
<rect x="100.4" y="1651.2" width="467.8" height="738.8" fill="none" stroke="#000" stroke-width="1.3"/>
<line x1="89.8" y1="2362.2" x2="100.4" y2="2362.2" stroke="#000" stroke-width="1.3"/>
<text transform="translate(73.6,2362.2) rotate(-90)" font-size="20.2" text-anchor="middle" font-family="'Liberation Sans', Arial, Helvetica, sans-serif">0.0</text>
<line x1="89.8" y1="2225.6" x2="100.4" y2="2225.6" stroke="#000" stroke-width="1.3"/>
<text transform="translate(73.6,2225.6) rotate(-90)" font-size="20.2" text-anchor="middle" font-family="'Liberation Sans', Arial, Helvetica, sans-serif">0.2</text>
<line x1="89.8" y1="2089" x2="100.4" y2="2089" stroke="#000" stroke-width="1.3"/>
<text transform="translate(73.6,2089) rotate(-90)" font-size="20.2" text-anchor="middle" font-family="'Liberation Sans', Arial, Helvetica, sans-serif">0.4</text>
<line x1="89.8" y1="1952.4" x2="100.4" y2="1952.4" stroke="#000" stroke-width="1.3"/>
<text transform="translate(73.6,1952.4) rotate(-90)" font-size="20.2" text-anchor="middle" font-family="'Liberation Sans', Arial, Helvetica, sans-serif">0.6</text>
<line x1="89.8" y1="1815.8" x2="100.4" y2="1815.8" stroke="#000" stroke-width="1.3"/>
<text transform="translate(73.6,1815.8) rotate(-90)" font-size="20.2" text-anchor="middle" font-family="'Liberation Sans', Arial, Helvetica, sans-serif">0.8</text>
<line x1="89.8" y1="1679.2" x2="100.4" y2="1679.2" stroke="#000" stroke-width="1.3"/>
<text transform="translate(73.6,1679.2) rotate(-90)" font-size="20.2" text-anchor="middle" font-family="'Liberation Sans', Arial, Helvetica, sans-serif">1.0</text>
<line x1="154.2" y1="2390.0" x2="154.2" y2="2401.4" stroke="#000" stroke-width="1.3"/>
<text x="154.2" y="2432.6" font-size="19.4" text-anchor="middle" font-family="'Liberation Sans', Arial, Helvetica, sans-serif">A&gt;C</text>
<line x1="154.2" y1="2305.1" x2="154.2" y2="2225.6" stroke="#000" stroke-width="1.2" stroke-dasharray="5,4"/>
<line x1="139.7" y1="2225.6" x2="168.7" y2="2225.6" stroke="#000" stroke-width="1.2"/>
<rect x="125.3" y="2305.1" width="57.8" height="57.1" fill="none" stroke="#000" stroke-width="1.2"/>
<line x1="125.3" y1="2336.59" x2="183.1" y2="2336.59" stroke="#000" stroke-width="3.6"/>
<circle cx="154.2" cy="2191.45" r="4.6" fill="none" stroke="#000" stroke-width="1.2"/>
<line x1="226.4" y1="2390.0" x2="226.4" y2="2401.4" stroke="#000" stroke-width="1.3"/>
<text x="226.4" y="2432.6" font-size="19.4" text-anchor="middle" font-family="'Liberation Sans', Arial, Helvetica, sans-serif">A&gt;G</text>
<line x1="226.4" y1="2259.75" x2="226.4" y2="2134.76" stroke="#000" stroke-width="1.2" stroke-dasharray="5,4"/>
<line x1="211.9" y1="2134.76" x2="240.9" y2="2134.76" stroke="#000" stroke-width="1.2"/>
<rect x="197.5" y="2259.75" width="57.8" height="102.45" fill="none" stroke="#000" stroke-width="1.2"/>
<line x1="197.5" y1="2302.92" x2="255.3" y2="2302.92" stroke="#000" stroke-width="3.6"/>
<circle cx="226.4" cy="2105.73" r="4.6" fill="none" stroke="#000" stroke-width="1.2"/>
<circle cx="226.4" cy="2065.78" r="4.6" fill="none" stroke="#000" stroke-width="1.2"/>
<line x1="298.7" y1="2390.0" x2="298.7" y2="2401.4" stroke="#000" stroke-width="1.3"/>
<text x="298.7" y="2432.6" font-size="19.4" text-anchor="middle" font-family="'Liberation Sans', Arial, Helvetica, sans-serif">C&gt;A</text>
<line x1="298.7" y1="2248.41" x2="298.7" y2="2134.76" stroke="#000" stroke-width="1.2" stroke-dasharray="5,4"/>
<line x1="284.2" y1="2134.76" x2="313.2" y2="2134.76" stroke="#000" stroke-width="1.2"/>
<line x1="298.7" y1="2362.2" x2="298.7" y2="2349.22" stroke="#000" stroke-width="1.2" stroke-dasharray="5,4"/>
<line x1="284.2" y1="2362.2" x2="313.2" y2="2362.2" stroke="#000" stroke-width="1.2"/>
<rect x="269.8" y="2248.41" width="57.8" height="100.81" fill="none" stroke="#000" stroke-width="1.2"/>
<line x1="269.8" y1="2289.8" x2="327.6" y2="2289.8" stroke="#000" stroke-width="3.6"/>
<line x1="370.9" y1="2390.0" x2="370.9" y2="2401.4" stroke="#000" stroke-width="1.3"/>
<text x="370.9" y="2432.6" font-size="19.4" text-anchor="middle" font-family="'Liberation Sans', Arial, Helvetica, sans-serif">C&gt;G</text>
<line x1="370.9" y1="2276.82" x2="370.9" y2="2180.18" stroke="#000" stroke-width="1.2" stroke-dasharray="5,4"/>
<line x1="356.4" y1="2180.18" x2="385.4" y2="2180.18" stroke="#000" stroke-width="1.2"/>
<rect x="342" y="2276.82" width="57.8" height="85.38" fill="none" stroke="#000" stroke-width="1.2"/>
<line x1="342" y1="2311.38" x2="399.8" y2="2311.38" stroke="#000" stroke-width="3.6"/>
<line x1="443" y1="2390.0" x2="443" y2="2401.4" stroke="#000" stroke-width="1.3"/>
<text x="443" y="2432.6" font-size="19.4" text-anchor="middle" font-family="'Liberation Sans', Arial, Helvetica, sans-serif">C&gt;T</text>
<line x1="443" y1="1884.1" x2="443" y2="1754.33" stroke="#000" stroke-width="1.2" stroke-dasharray="5,4"/>
<line x1="428.5" y1="1754.33" x2="457.5" y2="1754.33" stroke="#000" stroke-width="1.2"/>
<line x1="443" y1="2134.76" x2="443" y2="2020.7" stroke="#000" stroke-width="1.2" stroke-dasharray="5,4"/>
<line x1="428.5" y1="2134.76" x2="457.5" y2="2134.76" stroke="#000" stroke-width="1.2"/>
<rect x="414.1" y="1884.1" width="57.8" height="136.6" fill="none" stroke="#000" stroke-width="1.2"/>
<line x1="414.1" y1="1948.98" x2="471.9" y2="1948.98" stroke="#000" stroke-width="3.6"/>
<circle cx="443" cy="1679.2" r="4.6" fill="none" stroke="#000" stroke-width="1.2"/>
<line x1="515.2" y1="2390.0" x2="515.2" y2="2401.4" stroke="#000" stroke-width="1.3"/>
<text x="515.2" y="2432.6" font-size="19.4" text-anchor="middle" font-family="'Liberation Sans', Arial, Helvetica, sans-serif">T&gt;A</text>
<line x1="515.2" y1="2305.1" x2="515.2" y2="2225.6" stroke="#000" stroke-width="1.2" stroke-dasharray="5,4"/>
<line x1="500.7" y1="2225.6" x2="529.7" y2="2225.6" stroke="#000" stroke-width="1.2"/>
<rect x="486.3" y="2305.1" width="57.8" height="57.1" fill="none" stroke="#000" stroke-width="1.2"/>
<line x1="486.3" y1="2341.03" x2="544.1" y2="2341.03" stroke="#000" stroke-width="3.6"/>
<circle cx="515.2" cy="2191.45" r="4.6" fill="none" stroke="#000" stroke-width="1.2"/>
<text x="814.5" y="1597.3" font-size="40" font-weight="bold" font-family="'Liberation Sans', Arial, Helvetica, sans-serif">d</text>
<text x="1169.4" y="1603.2" font-size="17.5" font-weight="bold" text-anchor="middle" font-family="'Liberation Sans', Arial, Helvetica, sans-serif">WGS</text>
<text x="1565.3" y="1603.0" font-size="17.5" font-weight="bold" text-anchor="middle" font-family="'Liberation Sans', Arial, Helvetica, sans-serif">WES</text>
<line x1="937.7" y1="1609.3" x2="937.7" y2="1789.4" stroke="#333" stroke-width="1.3"/>
<line x1="929.7" y1="1609.9" x2="937.7" y2="1609.9" stroke="#333" stroke-width="1.3"/>
<text x="926.4" y="1616" font-size="17.7" text-anchor="end" font-family="'Liberation Sans', Arial, Helvetica, sans-serif">1000</text>
<line x1="929.7" y1="1645.8" x2="937.7" y2="1645.8" stroke="#333" stroke-width="1.3"/>
<text x="926.4" y="1651.9" font-size="17.7" text-anchor="end" font-family="'Liberation Sans', Arial, Helvetica, sans-serif">800</text>
<line x1="929.7" y1="1681.7" x2="937.7" y2="1681.7" stroke="#333" stroke-width="1.3"/>
<text x="926.4" y="1687.8" font-size="17.7" text-anchor="end" font-family="'Liberation Sans', Arial, Helvetica, sans-serif">600</text>
<line x1="929.7" y1="1717.6" x2="937.7" y2="1717.6" stroke="#333" stroke-width="1.3"/>
<text x="926.4" y="1723.7" font-size="17.7" text-anchor="end" font-family="'Liberation Sans', Arial, Helvetica, sans-serif">400</text>
<line x1="929.7" y1="1753.5" x2="937.7" y2="1753.5" stroke="#333" stroke-width="1.3"/>
<text x="926.4" y="1759.6" font-size="17.7" text-anchor="end" font-family="'Liberation Sans', Arial, Helvetica, sans-serif">200</text>
<line x1="929.7" y1="1789.4" x2="937.7" y2="1789.4" stroke="#333" stroke-width="1.3"/>
<text x="926.4" y="1795.5" font-size="17.7" text-anchor="end" font-family="'Liberation Sans', Arial, Helvetica, sans-serif">0</text>
<text transform="translate(884.2,1703.3) rotate(-90)" font-size="17.6" text-anchor="middle" font-family="'Liberation Sans', Arial, Helvetica, sans-serif">number of SNVs</text>
<rect x="956.2" y="1783.84" width="24.8" height="5.56" fill="#a6a6a6"/>
<rect x="956.2" y="1769.3" width="24.8" height="14.54" fill="#e0e0e0"/>
<line x1="956.2" y1="1783.84" x2="981" y2="1783.84" stroke="#8c8c8c" stroke-width="0.9"/>
<rect x="956.2" y="1769.3" width="24.8" height="20.1" fill="none" stroke="#8c8c8c" stroke-width="1"/>
<rect x="985.4" y="1770.19" width="24.8" height="19.21" fill="#a6a6a6"/>
<rect x="985.4" y="1735.55" width="24.8" height="34.64" fill="#e0e0e0"/>
<line x1="985.4" y1="1770.19" x2="1010.2" y2="1770.19" stroke="#8c8c8c" stroke-width="0.9"/>
<rect x="985.4" y="1735.55" width="24.8" height="53.85" fill="none" stroke="#8c8c8c" stroke-width="1"/>
<rect x="1014.6" y="1775.04" width="24.8" height="14.36" fill="#a6a6a6"/>
<rect x="1014.6" y="1724.42" width="24.8" height="50.62" fill="#e0e0e0"/>
<line x1="1014.6" y1="1775.04" x2="1039.4" y2="1775.04" stroke="#8c8c8c" stroke-width="0.9"/>
<rect x="1014.6" y="1724.42" width="24.8" height="64.98" fill="none" stroke="#8c8c8c" stroke-width="1"/>
<rect x="1043.8" y="1782.94" width="24.8" height="6.46" fill="#a6a6a6"/>
<rect x="1043.8" y="1721.91" width="24.8" height="61.03" fill="#e0e0e0"/>
<line x1="1043.8" y1="1782.94" x2="1068.6" y2="1782.94" stroke="#8c8c8c" stroke-width="0.9"/>
<rect x="1043.8" y="1721.91" width="24.8" height="67.49" fill="none" stroke="#8c8c8c" stroke-width="1"/>
<rect x="1073" y="1765.71" width="24.8" height="23.69" fill="#a6a6a6"/>
<rect x="1073" y="1697.86" width="24.8" height="67.85" fill="#e0e0e0"/>
<line x1="1073" y1="1765.71" x2="1097.8" y2="1765.71" stroke="#8c8c8c" stroke-width="0.9"/>
<rect x="1073" y="1697.86" width="24.8" height="91.55" fill="none" stroke="#8c8c8c" stroke-width="1"/>
<rect x="1102.2" y="1757.63" width="24.8" height="31.77" fill="#a6a6a6"/>
<rect x="1102.2" y="1678.11" width="24.8" height="79.52" fill="#e0e0e0"/>
<line x1="1102.2" y1="1757.63" x2="1127" y2="1757.63" stroke="#8c8c8c" stroke-width="0.9"/>
<rect x="1102.2" y="1678.11" width="24.8" height="111.29" fill="none" stroke="#8c8c8c" stroke-width="1"/>
<rect x="1131.4" y="1766.6" width="24.8" height="22.8" fill="#a6a6a6"/>
<rect x="1131.4" y="1736.09" width="24.8" height="30.52" fill="#e0e0e0"/>
<rect x="1131.4" y="1677.03" width="24.8" height="59.06" fill="#ffffff"/>
<line x1="1131.4" y1="1766.6" x2="1156.2" y2="1766.6" stroke="#8c8c8c" stroke-width="0.9"/>
<line x1="1131.4" y1="1736.09" x2="1156.2" y2="1736.09" stroke="#8c8c8c" stroke-width="0.9"/>
<rect x="1131.4" y="1677.03" width="24.8" height="112.37" fill="none" stroke="#8c8c8c" stroke-width="1"/>
<rect x="1160.6" y="1777.01" width="24.8" height="12.39" fill="#a6a6a6"/>
<rect x="1160.6" y="1648.85" width="24.8" height="128.16" fill="#e0e0e0"/>
<line x1="1160.6" y1="1777.01" x2="1185.4" y2="1777.01" stroke="#8c8c8c" stroke-width="0.9"/>
<rect x="1160.6" y="1648.85" width="24.8" height="140.55" fill="none" stroke="#8c8c8c" stroke-width="1"/>
<rect x="1189.8" y="1780.6" width="24.8" height="8.8" fill="#a6a6a6"/>
<rect x="1189.8" y="1734.47" width="24.8" height="46.13" fill="#e0e0e0"/>
<rect x="1189.8" y="1726.4" width="24.8" height="8.08" fill="#d12227"/>
<rect x="1189.8" y="1715.09" width="24.8" height="11.31" fill="#ad2224"/>
<line x1="1189.8" y1="1780.6" x2="1214.6" y2="1780.6" stroke="#8c8c8c" stroke-width="0.9"/>
<line x1="1189.8" y1="1734.47" x2="1214.6" y2="1734.47" stroke="#8c8c8c" stroke-width="0.9"/>
<line x1="1189.8" y1="1726.4" x2="1214.6" y2="1726.4" stroke="#8c8c8c" stroke-width="0.9"/>
<rect x="1189.8" y="1715.09" width="24.8" height="74.31" fill="none" stroke="#8c8c8c" stroke-width="1"/>
<rect x="1219" y="1783.3" width="24.8" height="6.1" fill="#a6a6a6"/>
<rect x="1219" y="1731.6" width="24.8" height="51.7" fill="#d12227"/>
<rect x="1219" y="1696.96" width="24.8" height="34.64" fill="#ad2224"/>
<line x1="1219" y1="1783.3" x2="1243.8" y2="1783.3" stroke="#8c8c8c" stroke-width="0.9"/>
<line x1="1219" y1="1731.6" x2="1243.8" y2="1731.6" stroke="#8c8c8c" stroke-width="0.9"/>
<rect x="1219" y="1696.96" width="24.8" height="92.44" fill="none" stroke="#8c8c8c" stroke-width="1"/>
<rect x="1248.2" y="1779.35" width="24.8" height="10.05" fill="#a6a6a6"/>
<rect x="1248.2" y="1769.66" width="24.8" height="9.69" fill="#e0e0e0"/>
<rect x="1248.2" y="1749.19" width="24.8" height="20.46" fill="#6366ae"/>
<line x1="1248.2" y1="1779.35" x2="1273" y2="1779.35" stroke="#8c8c8c" stroke-width="0.9"/>
<line x1="1248.2" y1="1769.66" x2="1273" y2="1769.66" stroke="#8c8c8c" stroke-width="0.9"/>
<rect x="1248.2" y="1749.19" width="24.8" height="40.21" fill="none" stroke="#8c8c8c" stroke-width="1"/>
<rect x="1277.4" y="1779.35" width="24.8" height="10.05" fill="#a6a6a6"/>
<rect x="1277.4" y="1761.22" width="24.8" height="18.13" fill="#e0e0e0"/>
<rect x="1277.4" y="1721.91" width="24.8" height="39.31" fill="#6366ae"/>
<line x1="1277.4" y1="1779.35" x2="1302.2" y2="1779.35" stroke="#8c8c8c" stroke-width="0.9"/>
<line x1="1277.4" y1="1761.22" x2="1302.2" y2="1761.22" stroke="#8c8c8c" stroke-width="0.9"/>
<rect x="1277.4" y="1721.91" width="24.8" height="67.49" fill="none" stroke="#8c8c8c" stroke-width="1"/>
<rect x="1306.6" y="1770.91" width="24.8" height="18.49" fill="#a6a6a6"/>
<rect x="1306.6" y="1735.91" width="24.8" height="35" fill="#e0e0e0"/>
<rect x="1306.6" y="1694.27" width="24.8" height="41.64" fill="#6366ae"/>
<line x1="1306.6" y1="1770.91" x2="1331.4" y2="1770.91" stroke="#8c8c8c" stroke-width="0.9"/>
<line x1="1306.6" y1="1735.91" x2="1331.4" y2="1735.91" stroke="#8c8c8c" stroke-width="0.9"/>
<rect x="1306.6" y="1694.27" width="24.8" height="95.13" fill="none" stroke="#8c8c8c" stroke-width="1"/>
<rect x="1335.8" y="1768.58" width="24.8" height="20.82" fill="#a6a6a6"/>
<rect x="1335.8" y="1692.29" width="24.8" height="76.29" fill="#e0e0e0"/>
<rect x="1335.8" y="1650.11" width="24.8" height="42.18" fill="#6366ae"/>
<line x1="1335.8" y1="1768.58" x2="1360.6" y2="1768.58" stroke="#8c8c8c" stroke-width="0.9"/>
<line x1="1335.8" y1="1692.29" x2="1360.6" y2="1692.29" stroke="#8c8c8c" stroke-width="0.9"/>
<rect x="1335.8" y="1650.11" width="24.8" height="139.29" fill="none" stroke="#8c8c8c" stroke-width="1"/>
<rect x="1365" y="1742.73" width="24.8" height="46.67" fill="#f1bc4b"/>
<rect x="1365" y="1671.83" width="24.8" height="70.9" fill="#a96aae"/>
<line x1="1365" y1="1742.73" x2="1389.8" y2="1742.73" stroke="#8c8c8c" stroke-width="0.9"/>
<rect x="1365" y="1671.83" width="24.8" height="117.57" fill="none" stroke="#8c8c8c" stroke-width="1"/>
<rect x="1394.2" y="1584.6" width="24.8" height="204.8" fill="#a96aae" stroke="#8c8c8c" stroke-width="1"/>
<rect x="1394.2" y="1783.2" width="24.8" height="6.2" fill="#e0e0e0" stroke="#8c8c8c" stroke-width="0.9"/>
<rect x="1393.2" y="1599.9" width="26.8" height="3.2" fill="#fff"/>
<text x="1406.6" y="1580.9" font-size="14" text-anchor="middle" font-family="'Liberation Sans', Arial, Helvetica, sans-serif">3,250</text>
<line x1="937.7" y1="1828.3" x2="937.7" y2="2006.4" stroke="#333" stroke-width="1.3"/>
<line x1="929.7" y1="1828.9" x2="937.7" y2="1828.9" stroke="#333" stroke-width="1.3"/>
<text x="926.4" y="1835" font-size="17.7" text-anchor="end" font-family="'Liberation Sans', Arial, Helvetica, sans-serif">1.0</text>
<line x1="929.7" y1="1864.4" x2="937.7" y2="1864.4" stroke="#333" stroke-width="1.3"/>
<text x="926.4" y="1870.5" font-size="17.7" text-anchor="end" font-family="'Liberation Sans', Arial, Helvetica, sans-serif">0.8</text>
<line x1="929.7" y1="1899.9" x2="937.7" y2="1899.9" stroke="#333" stroke-width="1.3"/>
<text x="926.4" y="1906" font-size="17.7" text-anchor="end" font-family="'Liberation Sans', Arial, Helvetica, sans-serif">0.6</text>
<line x1="929.7" y1="1935.4" x2="937.7" y2="1935.4" stroke="#333" stroke-width="1.3"/>
<text x="926.4" y="1941.5" font-size="17.7" text-anchor="end" font-family="'Liberation Sans', Arial, Helvetica, sans-serif">0.4</text>
<line x1="929.7" y1="1970.9" x2="937.7" y2="1970.9" stroke="#333" stroke-width="1.3"/>
<text x="926.4" y="1977" font-size="17.7" text-anchor="end" font-family="'Liberation Sans', Arial, Helvetica, sans-serif">0.2</text>
<line x1="929.7" y1="2006.4" x2="937.7" y2="2006.4" stroke="#333" stroke-width="1.3"/>
<text x="926.4" y="2012.5" font-size="17.7" text-anchor="end" font-family="'Liberation Sans', Arial, Helvetica, sans-serif">0.0</text>
<text transform="translate(884.5,1911.4) rotate(-90)" font-size="17.6" text-anchor="middle" font-family="'Liberation Sans', Arial, Helvetica, sans-serif">proportion of SNVs</text>
<rect x="956.2" y="1963.09" width="24.8" height="43.31" fill="#a6a6a6"/>
<rect x="956.2" y="1828.9" width="24.8" height="134.19" fill="#e0e0e0"/>
<line x1="956.2" y1="1963.09" x2="981" y2="1963.09" stroke="#8c8c8c" stroke-width="0.9"/>
<rect x="956.2" y="1828.9" width="24.8" height="177.5" fill="none" stroke="#8c8c8c" stroke-width="1"/>
<rect x="985.4" y="1944.1" width="24.8" height="62.3" fill="#a6a6a6"/>
<rect x="985.4" y="1828.9" width="24.8" height="115.2" fill="#e0e0e0"/>
<line x1="985.4" y1="1944.1" x2="1010.2" y2="1944.1" stroke="#8c8c8c" stroke-width="0.9"/>
<rect x="985.4" y="1828.9" width="24.8" height="177.5" fill="none" stroke="#8c8c8c" stroke-width="1"/>
<rect x="1014.6" y="1967" width="24.8" height="39.41" fill="#a6a6a6"/>
<rect x="1014.6" y="1828.9" width="24.8" height="138.09" fill="#e0e0e0"/>
<line x1="1014.6" y1="1967" x2="1039.4" y2="1967" stroke="#8c8c8c" stroke-width="0.9"/>
<rect x="1014.6" y="1828.9" width="24.8" height="177.5" fill="none" stroke="#8c8c8c" stroke-width="1"/>
<rect x="1043.8" y="1990.43" width="24.8" height="15.97" fill="#a6a6a6"/>
<rect x="1043.8" y="1828.9" width="24.8" height="161.53" fill="#e0e0e0"/>
<line x1="1043.8" y1="1990.43" x2="1068.6" y2="1990.43" stroke="#8c8c8c" stroke-width="0.9"/>
<rect x="1043.8" y="1828.9" width="24.8" height="177.5" fill="none" stroke="#8c8c8c" stroke-width="1"/>
<rect x="1073" y="1960.25" width="24.8" height="46.15" fill="#a6a6a6"/>
<rect x="1073" y="1828.9" width="24.8" height="131.35" fill="#e0e0e0"/>
<line x1="1073" y1="1960.25" x2="1097.8" y2="1960.25" stroke="#8c8c8c" stroke-width="0.9"/>
<rect x="1073" y="1828.9" width="24.8" height="177.5" fill="none" stroke="#8c8c8c" stroke-width="1"/>
<rect x="1102.2" y="1956.7" width="24.8" height="49.7" fill="#a6a6a6"/>
<rect x="1102.2" y="1828.9" width="24.8" height="127.8" fill="#e0e0e0"/>
<line x1="1102.2" y1="1956.7" x2="1127" y2="1956.7" stroke="#8c8c8c" stroke-width="0.9"/>
<rect x="1102.2" y="1828.9" width="24.8" height="177.5" fill="none" stroke="#8c8c8c" stroke-width="1"/>
<rect x="1131.4" y="1970.19" width="24.8" height="36.21" fill="#a6a6a6"/>
<rect x="1131.4" y="1922.98" width="24.8" height="47.22" fill="#e0e0e0"/>
<rect x="1131.4" y="1828.9" width="24.8" height="94.08" fill="#ffffff"/>
<line x1="1131.4" y1="1970.19" x2="1156.2" y2="1970.19" stroke="#8c8c8c" stroke-width="0.9"/>
<line x1="1131.4" y1="1922.98" x2="1156.2" y2="1922.98" stroke="#8c8c8c" stroke-width="0.9"/>
<rect x="1131.4" y="1828.9" width="24.8" height="177.5" fill="none" stroke="#8c8c8c" stroke-width="1"/>
<rect x="1160.6" y="1991.13" width="24.8" height="15.26" fill="#a6a6a6"/>
<rect x="1160.6" y="1828.9" width="24.8" height="162.24" fill="#e0e0e0"/>
<line x1="1160.6" y1="1991.13" x2="1185.4" y2="1991.13" stroke="#8c8c8c" stroke-width="0.9"/>
<rect x="1160.6" y="1828.9" width="24.8" height="177.5" fill="none" stroke="#8c8c8c" stroke-width="1"/>
<rect x="1189.8" y="1985.1" width="24.8" height="21.3" fill="#a6a6a6"/>
<rect x="1189.8" y="1874.7" width="24.8" height="110.41" fill="#e0e0e0"/>
<rect x="1189.8" y="1855.53" width="24.8" height="19.17" fill="#d12227"/>
<rect x="1189.8" y="1828.9" width="24.8" height="26.62" fill="#ad2224"/>
<line x1="1189.8" y1="1985.1" x2="1214.6" y2="1985.1" stroke="#8c8c8c" stroke-width="0.9"/>
<line x1="1189.8" y1="1874.7" x2="1214.6" y2="1874.7" stroke="#8c8c8c" stroke-width="0.9"/>
<line x1="1189.8" y1="1855.53" x2="1214.6" y2="1855.53" stroke="#8c8c8c" stroke-width="0.9"/>
<rect x="1189.8" y="1828.9" width="24.8" height="177.5" fill="none" stroke="#8c8c8c" stroke-width="1"/>
<rect x="1219" y="1995.93" width="24.8" height="10.47" fill="#a6a6a6"/>
<rect x="1219" y="1896.35" width="24.8" height="99.58" fill="#d12227"/>
<rect x="1219" y="1828.9" width="24.8" height="67.45" fill="#ad2224"/>
<line x1="1219" y1="1995.93" x2="1243.8" y2="1995.93" stroke="#8c8c8c" stroke-width="0.9"/>
<line x1="1219" y1="1896.35" x2="1243.8" y2="1896.35" stroke="#8c8c8c" stroke-width="0.9"/>
<rect x="1219" y="1828.9" width="24.8" height="177.5" fill="none" stroke="#8c8c8c" stroke-width="1"/>
<rect x="1248.2" y="1964.24" width="24.8" height="42.16" fill="#a6a6a6"/>
<rect x="1248.2" y="1921.2" width="24.8" height="43.04" fill="#e0e0e0"/>
<rect x="1248.2" y="1828.9" width="24.8" height="92.3" fill="#6366ae"/>
<line x1="1248.2" y1="1964.24" x2="1273" y2="1964.24" stroke="#8c8c8c" stroke-width="0.9"/>
<line x1="1248.2" y1="1921.2" x2="1273" y2="1921.2" stroke="#8c8c8c" stroke-width="0.9"/>
<rect x="1248.2" y="1828.9" width="24.8" height="177.5" fill="none" stroke="#8c8c8c" stroke-width="1"/>
<rect x="1277.4" y="1981.11" width="24.8" height="25.29" fill="#a6a6a6"/>
<rect x="1277.4" y="1934.16" width="24.8" height="46.95" fill="#e0e0e0"/>
<rect x="1277.4" y="1828.9" width="24.8" height="105.26" fill="#6366ae"/>
<line x1="1277.4" y1="1981.11" x2="1302.2" y2="1981.11" stroke="#8c8c8c" stroke-width="0.9"/>
<line x1="1277.4" y1="1934.16" x2="1302.2" y2="1934.16" stroke="#8c8c8c" stroke-width="0.9"/>
<rect x="1277.4" y="1828.9" width="24.8" height="177.5" fill="none" stroke="#8c8c8c" stroke-width="1"/>
<rect x="1306.6" y="1972.32" width="24.8" height="34.08" fill="#a6a6a6"/>
<rect x="1306.6" y="1906.47" width="24.8" height="65.85" fill="#e0e0e0"/>
<rect x="1306.6" y="1828.9" width="24.8" height="77.57" fill="#6366ae"/>
<line x1="1306.6" y1="1972.32" x2="1331.4" y2="1972.32" stroke="#8c8c8c" stroke-width="0.9"/>
<line x1="1306.6" y1="1906.47" x2="1331.4" y2="1906.47" stroke="#8c8c8c" stroke-width="0.9"/>
<rect x="1306.6" y="1828.9" width="24.8" height="177.5" fill="none" stroke="#8c8c8c" stroke-width="1"/>
<rect x="1335.8" y="1979.42" width="24.8" height="26.98" fill="#a6a6a6"/>
<rect x="1335.8" y="1882.33" width="24.8" height="97.09" fill="#e0e0e0"/>
<rect x="1335.8" y="1828.9" width="24.8" height="53.43" fill="#6366ae"/>
<line x1="1335.8" y1="1979.42" x2="1360.6" y2="1979.42" stroke="#8c8c8c" stroke-width="0.9"/>
<line x1="1335.8" y1="1882.33" x2="1360.6" y2="1882.33" stroke="#8c8c8c" stroke-width="0.9"/>
<rect x="1335.8" y="1828.9" width="24.8" height="177.5" fill="none" stroke="#8c8c8c" stroke-width="1"/>
<rect x="1365" y="1935.4" width="24.8" height="71" fill="#f1bc4b"/>
<rect x="1365" y="1828.9" width="24.8" height="106.5" fill="#a96aae"/>
<line x1="1365" y1="1935.4" x2="1389.8" y2="1935.4" stroke="#8c8c8c" stroke-width="0.9"/>
<rect x="1365" y="1828.9" width="24.8" height="177.5" fill="none" stroke="#8c8c8c" stroke-width="1"/>
<rect x="1394.2" y="2004.98" width="24.8" height="1.42" fill="#e0e0e0"/>
<rect x="1394.2" y="1828.9" width="24.8" height="176.08" fill="#a96aae"/>
<line x1="1394.2" y1="2004.98" x2="1419" y2="2004.98" stroke="#8c8c8c" stroke-width="0.9"/>
<rect x="1394.2" y="1828.9" width="24.8" height="177.5" fill="none" stroke="#8c8c8c" stroke-width="1"/>
<text transform="translate(975.4,2015.5) rotate(-90)" font-size="16.5" font-weight="bold" text-anchor="end" font-family="'Liberation Sans', Arial, Helvetica, sans-serif">SJ030708</text>
<text transform="translate(1004.6,2015.5) rotate(-90)" font-size="16.5" font-weight="bold" text-anchor="end" font-family="'Liberation Sans', Arial, Helvetica, sans-serif">SJ016507</text>
<text transform="translate(1033.8,2015.5) rotate(-90)" font-size="16.5" font-weight="bold" text-anchor="end" font-family="'Liberation Sans', Arial, Helvetica, sans-serif">SJ016512</text>
<text transform="translate(1063,2015.5) rotate(-90)" font-size="16.5" font-weight="bold" text-anchor="end" font-family="'Liberation Sans', Arial, Helvetica, sans-serif">SJ016513</text>
<text transform="translate(1092.2,2015.5) rotate(-90)" font-size="16.5" font-weight="bold" text-anchor="end" font-family="'Liberation Sans', Arial, Helvetica, sans-serif">SJ005142</text>
<text transform="translate(1121.4,2015.5) rotate(-90)" font-size="16.5" font-weight="bold" text-anchor="end" font-family="'Liberation Sans', Arial, Helvetica, sans-serif">SJ040265</text>
<text transform="translate(1150.6,2015.5) rotate(-90)" font-size="16.5" font-weight="bold" text-anchor="end" font-family="'Liberation Sans', Arial, Helvetica, sans-serif">SJ016462</text>
<text transform="translate(1179.8,2015.5) rotate(-90)" font-size="16.5" font-weight="bold" text-anchor="end" font-family="'Liberation Sans', Arial, Helvetica, sans-serif">SJ016468</text>
<text transform="translate(1209,2015.5) rotate(-90)" font-size="16.5" font-weight="bold" text-anchor="end" font-family="'Liberation Sans', Arial, Helvetica, sans-serif">SJ030441</text>
<text transform="translate(1238.2,2015.5) rotate(-90)" font-size="16.5" font-weight="bold" text-anchor="end" font-family="'Liberation Sans', Arial, Helvetica, sans-serif">SJ030799</text>
<text transform="translate(1267.4,2015.5) rotate(-90)" font-size="16.5" font-weight="bold" text-anchor="end" font-family="'Liberation Sans', Arial, Helvetica, sans-serif">SJ021960</text>
<text transform="translate(1296.6,2015.5) rotate(-90)" font-size="16.5" font-weight="bold" text-anchor="end" font-family="'Liberation Sans', Arial, Helvetica, sans-serif">SJ016502</text>
<text transform="translate(1325.8,2015.5) rotate(-90)" font-size="16.5" font-weight="bold" text-anchor="end" font-family="'Liberation Sans', Arial, Helvetica, sans-serif">SJ030727</text>
<text transform="translate(1355,2015.5) rotate(-90)" font-size="16.5" font-weight="bold" text-anchor="end" font-family="'Liberation Sans', Arial, Helvetica, sans-serif">SJ016496</text>
<text transform="translate(1384.2,2015.5) rotate(-90)" font-size="16.5" font-weight="bold" text-anchor="end" font-family="'Liberation Sans', Arial, Helvetica, sans-serif">SJ016519</text>
<text transform="translate(1413.4,2015.5) rotate(-90)" font-size="16.5" font-weight="bold" text-anchor="end" font-family="'Liberation Sans', Arial, Helvetica, sans-serif">SJ016494</text>
<line x1="949.3" y1="2097.2" x2="1442.9" y2="2097.2" stroke="#000" stroke-width="1.6"/>
<polygon points="964.1,2098 974.0,2098 991.4,2134.2 956.9,2134.2" fill="#e8dada"/>
<polygon points="994.1,2098 1003.4,2098 1013.5,2134.2 995.4,2134.2" fill="#e8dada"/>
<polygon points="1020.3,2098 1029.9,2098 1033.9,2134.2 1017.1,2134.2" fill="#e8dada"/>
<polygon points="1078.1,2098 1088.5,2098 1055.6,2134.2 1038,2134.2" fill="#e8dada"/>
<polygon points="1106.2,2098 1117.5,2098 1077.3,2134.2 1058.8,2134.2" fill="#e8dada"/>
<polygon points="1158,2098 1176,2098 1118.5,2134.2 1081,2134.2" fill="#e8dada"/>
<polygon points="1216,2098 1236.5,2098 1198.8,2134.2 1122,2134.2" fill="#e8dada"/>
<polygon points="1250,2098 1267.4,2098 1219.2,2134.2 1201.3,2134.2" fill="#e8dada"/>
<polygon points="1302,2098 1318.6,2098 1240.8,2134.2 1222.3,2134.2" fill="#e8dada"/>
<polygon points="1320.5,2098 1352,2098 1279,2134.2 1243.3,2134.2" fill="#e8dada"/>
<polygon points="1353.8,2098 1385,2098 1397.4,2134.2 1281.6,2134.2" fill="#e8dada"/>
<polygon points="1397.4,2098 1411.3,2098 1439,2134.2 1399.2,2134.2" fill="#e8dada"/>
<line x1="949.3" y1="2135" x2="1440.5" y2="2135" stroke="#222" stroke-width="1.6"/>
<line x1="937.2" y1="2137.8" x2="937.2" y2="2317.8" stroke="#333" stroke-width="1.3"/>
<line x1="929.2" y1="2138.4" x2="937.2" y2="2138.4" stroke="#333" stroke-width="1.3"/>
<text x="925.8" y="2144.5" font-size="17.7" text-anchor="end" font-family="'Liberation Sans', Arial, Helvetica, sans-serif">1.0</text>
<line x1="929.2" y1="2174.28" x2="937.2" y2="2174.28" stroke="#333" stroke-width="1.3"/>
<text x="925.8" y="2180.38" font-size="17.7" text-anchor="end" font-family="'Liberation Sans', Arial, Helvetica, sans-serif">0.8</text>
<line x1="929.2" y1="2210.16" x2="937.2" y2="2210.16" stroke="#333" stroke-width="1.3"/>
<text x="925.8" y="2216.26" font-size="17.7" text-anchor="end" font-family="'Liberation Sans', Arial, Helvetica, sans-serif">0.6</text>
<line x1="929.2" y1="2246.04" x2="937.2" y2="2246.04" stroke="#333" stroke-width="1.3"/>
<text x="925.8" y="2252.14" font-size="17.7" text-anchor="end" font-family="'Liberation Sans', Arial, Helvetica, sans-serif">0.4</text>
<line x1="929.2" y1="2281.92" x2="937.2" y2="2281.92" stroke="#333" stroke-width="1.3"/>
<text x="925.8" y="2288.02" font-size="17.7" text-anchor="end" font-family="'Liberation Sans', Arial, Helvetica, sans-serif">0.2</text>
<line x1="929.2" y1="2317.8" x2="937.2" y2="2317.8" stroke="#333" stroke-width="1.3"/>
<text x="925.8" y="2323.9" font-size="17.7" text-anchor="end" font-family="'Liberation Sans', Arial, Helvetica, sans-serif">0.0</text>
<text transform="translate(865.8,2219.4) rotate(-90)" font-size="17.6" text-anchor="middle" font-family="'Liberation Sans', Arial, Helvetica, sans-serif">probability induced</text>
<text transform="translate(885.0,2219.4) rotate(-90)" font-size="17.6" text-anchor="middle" font-family="'Liberation Sans', Arial, Helvetica, sans-serif">by signature</text>
<rect x="956" y="2262.19" width="17.3" height="55.61" fill="#e0e0e0"/>
<rect x="956" y="2138.4" width="17.3" height="123.79" fill="#a6a6a6"/>
<line x1="956" y1="2262.19" x2="973.3" y2="2262.19" stroke="#8c8c8c" stroke-width="0.9"/>
<rect x="956" y="2138.4" width="17.3" height="179.4" fill="none" stroke="#8c8c8c" stroke-width="1"/>
<rect x="976.25" y="2141.09" width="17.3" height="176.71" fill="#e0e0e0"/>
<rect x="976.25" y="2138.4" width="17.3" height="2.69" fill="#a6a6a6"/>
<line x1="976.25" y1="2141.09" x2="993.55" y2="2141.09" stroke="#8c8c8c" stroke-width="0.9"/>
<rect x="976.25" y="2138.4" width="17.3" height="179.4" fill="none" stroke="#8c8c8c" stroke-width="1"/>
<rect x="996.5" y="2167.1" width="17.3" height="150.7" fill="#e0e0e0"/>
<rect x="996.5" y="2138.4" width="17.3" height="28.7" fill="#a6a6a6"/>
<line x1="996.5" y1="2167.1" x2="1013.8" y2="2167.1" stroke="#8c8c8c" stroke-width="0.9"/>
<rect x="996.5" y="2138.4" width="17.3" height="179.4" fill="none" stroke="#8c8c8c" stroke-width="1"/>
<rect x="1016.75" y="2140.19" width="17.3" height="177.61" fill="#e0e0e0"/>
<rect x="1016.75" y="2138.4" width="17.3" height="1.79" fill="#a6a6a6"/>
<line x1="1016.75" y1="2140.19" x2="1034.05" y2="2140.19" stroke="#8c8c8c" stroke-width="0.9"/>
<rect x="1016.75" y="2138.4" width="17.3" height="179.4" fill="none" stroke="#8c8c8c" stroke-width="1"/>
<rect x="1037" y="2308.83" width="17.3" height="8.97" fill="#e0e0e0"/>
<rect x="1037" y="2138.4" width="17.3" height="170.43" fill="#a6a6a6"/>
<line x1="1037" y1="2308.83" x2="1054.3" y2="2308.83" stroke="#8c8c8c" stroke-width="0.9"/>
<rect x="1037" y="2138.4" width="17.3" height="179.4" fill="none" stroke="#8c8c8c" stroke-width="1"/>
<rect x="1057.25" y="2141.09" width="17.3" height="176.71" fill="#e0e0e0"/>
<rect x="1057.25" y="2138.4" width="17.3" height="2.69" fill="#a6a6a6"/>
<line x1="1057.25" y1="2141.09" x2="1074.55" y2="2141.09" stroke="#8c8c8c" stroke-width="0.9"/>
<rect x="1057.25" y="2138.4" width="17.3" height="179.4" fill="none" stroke="#8c8c8c" stroke-width="1"/>
<rect x="1077.5" y="2140.19" width="17.3" height="177.61" fill="#e0e0e0"/>
<rect x="1077.5" y="2138.4" width="17.3" height="1.79" fill="#a6a6a6"/>
<line x1="1077.5" y1="2140.19" x2="1094.8" y2="2140.19" stroke="#8c8c8c" stroke-width="0.9"/>
<rect x="1077.5" y="2138.4" width="17.3" height="179.4" fill="none" stroke="#8c8c8c" stroke-width="1"/>
<rect x="1097.75" y="2145.58" width="17.3" height="172.22" fill="#e0e0e0"/>
<rect x="1097.75" y="2138.4" width="17.3" height="7.18" fill="#a6a6a6"/>
<line x1="1097.75" y1="2145.58" x2="1115.05" y2="2145.58" stroke="#8c8c8c" stroke-width="0.9"/>
<rect x="1097.75" y="2138.4" width="17.3" height="179.4" fill="none" stroke="#8c8c8c" stroke-width="1"/>
<rect x="1118" y="2278.33" width="17.3" height="39.47" fill="#ad2224"/>
<rect x="1118" y="2148.27" width="17.3" height="130.07" fill="#d12227"/>
<rect x="1118" y="2138.4" width="17.3" height="9.87" fill="#a6a6a6"/>
<line x1="1118" y1="2278.33" x2="1135.3" y2="2278.33" stroke="#8c8c8c" stroke-width="0.9"/>
<line x1="1118" y1="2148.27" x2="1135.3" y2="2148.27" stroke="#8c8c8c" stroke-width="0.9"/>
<rect x="1118" y="2138.4" width="17.3" height="179.4" fill="none" stroke="#8c8c8c" stroke-width="1"/>
<rect x="1138.25" y="2202.98" width="17.3" height="114.82" fill="#ad2224"/>
<rect x="1138.25" y="2138.4" width="17.3" height="64.58" fill="#d12227"/>
<line x1="1138.25" y1="2202.98" x2="1155.55" y2="2202.98" stroke="#8c8c8c" stroke-width="0.9"/>
<rect x="1138.25" y="2138.4" width="17.3" height="179.4" fill="none" stroke="#8c8c8c" stroke-width="1"/>
<rect x="1158.5" y="2306.14" width="17.3" height="11.66" fill="#ad2224"/>
<rect x="1158.5" y="2292.68" width="17.3" height="13.46" fill="#d12227"/>
<rect x="1158.5" y="2138.4" width="17.3" height="154.28" fill="#a6a6a6"/>
<line x1="1158.5" y1="2306.14" x2="1175.8" y2="2306.14" stroke="#8c8c8c" stroke-width="0.9"/>
<line x1="1158.5" y1="2292.68" x2="1175.8" y2="2292.68" stroke="#8c8c8c" stroke-width="0.9"/>
<rect x="1158.5" y="2138.4" width="17.3" height="179.4" fill="none" stroke="#8c8c8c" stroke-width="1"/>
<rect x="1178.75" y="2299.86" width="17.3" height="17.94" fill="#ad2224"/>
<rect x="1178.75" y="2138.4" width="17.3" height="161.46" fill="#d12227"/>
<line x1="1178.75" y1="2299.86" x2="1196.05" y2="2299.86" stroke="#8c8c8c" stroke-width="0.9"/>
<rect x="1178.75" y="2138.4" width="17.3" height="179.4" fill="none" stroke="#8c8c8c" stroke-width="1"/>
<rect x="1199" y="2236.17" width="17.3" height="81.63" fill="#6366ae"/>
<rect x="1199" y="2223.62" width="17.3" height="12.56" fill="#e0e0e0"/>
<rect x="1199" y="2138.4" width="17.3" height="85.22" fill="#a6a6a6"/>
<line x1="1199" y1="2236.17" x2="1216.3" y2="2236.17" stroke="#8c8c8c" stroke-width="0.9"/>
<line x1="1199" y1="2223.62" x2="1216.3" y2="2223.62" stroke="#8c8c8c" stroke-width="0.9"/>
<rect x="1199" y="2138.4" width="17.3" height="179.4" fill="none" stroke="#8c8c8c" stroke-width="1"/>
<rect x="1219.25" y="2204.78" width="17.3" height="113.02" fill="#6366ae"/>
<rect x="1219.25" y="2146.47" width="17.3" height="58.31" fill="#e0e0e0"/>
<rect x="1219.25" y="2138.4" width="17.3" height="8.07" fill="#a6a6a6"/>
<line x1="1219.25" y1="2204.78" x2="1236.55" y2="2204.78" stroke="#8c8c8c" stroke-width="0.9"/>
<line x1="1219.25" y1="2146.47" x2="1236.55" y2="2146.47" stroke="#8c8c8c" stroke-width="0.9"/>
<rect x="1219.25" y="2138.4" width="17.3" height="179.4" fill="none" stroke="#8c8c8c" stroke-width="1"/>
<rect x="1239.5" y="2204.78" width="17.3" height="113.02" fill="#6366ae"/>
<rect x="1239.5" y="2188.63" width="17.3" height="16.15" fill="#e0e0e0"/>
<rect x="1239.5" y="2138.4" width="17.3" height="50.23" fill="#a6a6a6"/>
<line x1="1239.5" y1="2204.78" x2="1256.8" y2="2204.78" stroke="#8c8c8c" stroke-width="0.9"/>
<line x1="1239.5" y1="2188.63" x2="1256.8" y2="2188.63" stroke="#8c8c8c" stroke-width="0.9"/>
<rect x="1239.5" y="2138.4" width="17.3" height="179.4" fill="none" stroke="#8c8c8c" stroke-width="1"/>
<rect x="1259.75" y="2260.39" width="17.3" height="57.41" fill="#6366ae"/>
<rect x="1259.75" y="2138.4" width="17.3" height="121.99" fill="#e0e0e0"/>
<line x1="1259.75" y1="2260.39" x2="1277.05" y2="2260.39" stroke="#8c8c8c" stroke-width="0.9"/>
<rect x="1259.75" y="2138.4" width="17.3" height="179.4" fill="none" stroke="#8c8c8c" stroke-width="1"/>
<rect x="1280" y="2242.45" width="17.3" height="75.35" fill="#a96aae"/>
<rect x="1280" y="2141.09" width="17.3" height="101.36" fill="#f1bc4b"/>
<rect x="1280" y="2138.4" width="17.3" height="2.69" fill="#e0e0e0"/>
<line x1="1280" y1="2242.45" x2="1297.3" y2="2242.45" stroke="#8c8c8c" stroke-width="0.9"/>
<line x1="1280" y1="2141.09" x2="1297.3" y2="2141.09" stroke="#8c8c8c" stroke-width="0.9"/>
<rect x="1280" y="2138.4" width="17.3" height="179.4" fill="none" stroke="#8c8c8c" stroke-width="1"/>
<rect x="1300.25" y="2272.95" width="17.3" height="44.85" fill="#a96aae"/>
<rect x="1300.25" y="2140.19" width="17.3" height="132.76" fill="#f1bc4b"/>
<rect x="1300.25" y="2138.4" width="17.3" height="1.79" fill="#e0e0e0"/>
<line x1="1300.25" y1="2272.95" x2="1317.55" y2="2272.95" stroke="#8c8c8c" stroke-width="0.9"/>
<line x1="1300.25" y1="2140.19" x2="1317.55" y2="2140.19" stroke="#8c8c8c" stroke-width="0.9"/>
<rect x="1300.25" y="2138.4" width="17.3" height="179.4" fill="none" stroke="#8c8c8c" stroke-width="1"/>
<rect x="1320.5" y="2273.85" width="17.3" height="43.95" fill="#a96aae"/>
<rect x="1320.5" y="2141.09" width="17.3" height="132.76" fill="#f1bc4b"/>
<rect x="1320.5" y="2138.4" width="17.3" height="2.69" fill="#e0e0e0"/>
<line x1="1320.5" y1="2273.85" x2="1337.8" y2="2273.85" stroke="#8c8c8c" stroke-width="0.9"/>
<line x1="1320.5" y1="2141.09" x2="1337.8" y2="2141.09" stroke="#8c8c8c" stroke-width="0.9"/>
<rect x="1320.5" y="2138.4" width="17.3" height="179.4" fill="none" stroke="#8c8c8c" stroke-width="1"/>
<rect x="1340.75" y="2167.1" width="17.3" height="150.7" fill="#a96aae"/>
<rect x="1340.75" y="2141.09" width="17.3" height="26.01" fill="#f1bc4b"/>
<rect x="1340.75" y="2138.4" width="17.3" height="2.69" fill="#e0e0e0"/>
<line x1="1340.75" y1="2167.1" x2="1358.05" y2="2167.1" stroke="#8c8c8c" stroke-width="0.9"/>
<line x1="1340.75" y1="2141.09" x2="1358.05" y2="2141.09" stroke="#8c8c8c" stroke-width="0.9"/>
<rect x="1340.75" y="2138.4" width="17.3" height="179.4" fill="none" stroke="#8c8c8c" stroke-width="1"/>
<rect x="1361" y="2145.58" width="17.3" height="172.22" fill="#a96aae"/>
<rect x="1361" y="2138.4" width="17.3" height="7.18" fill="#f1bc4b"/>
<line x1="1361" y1="2145.58" x2="1378.3" y2="2145.58" stroke="#8c8c8c" stroke-width="0.9"/>
<rect x="1361" y="2138.4" width="17.3" height="179.4" fill="none" stroke="#8c8c8c" stroke-width="1"/>
<rect x="1381.25" y="2167.1" width="17.3" height="150.7" fill="#a96aae"/>
<rect x="1381.25" y="2141.09" width="17.3" height="26.01" fill="#f1bc4b"/>
<rect x="1381.25" y="2138.4" width="17.3" height="2.69" fill="#e0e0e0"/>
<line x1="1381.25" y1="2167.1" x2="1398.55" y2="2167.1" stroke="#8c8c8c" stroke-width="0.9"/>
<line x1="1381.25" y1="2141.09" x2="1398.55" y2="2141.09" stroke="#8c8c8c" stroke-width="0.9"/>
<rect x="1381.25" y="2138.4" width="17.3" height="179.4" fill="none" stroke="#8c8c8c" stroke-width="1"/>
<rect x="1401.5" y="2142.89" width="17.3" height="174.92" fill="#a96aae"/>
<rect x="1401.5" y="2138.4" width="17.3" height="4.49" fill="#e0e0e0"/>
<line x1="1401.5" y1="2142.89" x2="1418.8" y2="2142.89" stroke="#8c8c8c" stroke-width="0.9"/>
<rect x="1401.5" y="2138.4" width="17.3" height="179.4" fill="none" stroke="#8c8c8c" stroke-width="1"/>
<rect x="1421.75" y="2143.78" width="17.3" height="174.02" fill="#a96aae"/>
<rect x="1421.75" y="2138.4" width="17.3" height="5.38" fill="#e0e0e0"/>
<line x1="1421.75" y1="2143.78" x2="1439.05" y2="2143.78" stroke="#8c8c8c" stroke-width="0.9"/>
<rect x="1421.75" y="2138.4" width="17.3" height="179.4" fill="none" stroke="#8c8c8c" stroke-width="1"/>
<rect x="957.9" y="2322.3" width="36.6" height="10.9" fill="#e8dada"/>
<rect x="1076.2" y="2322.3" width="36.4" height="10.9" fill="#e8dada"/>
<rect x="1120.7" y="2322.3" width="73.5" height="10.9" fill="#e8dada"/>
<rect x="1240.2" y="2322.3" width="35.8" height="10.9" fill="#e8dada"/>
<rect x="1283.5" y="2322.3" width="112.6" height="10.9" fill="#e8dada"/>
<rect x="1403" y="2322.3" width="36.1" height="10.9" fill="#e8dada"/>
<text transform="translate(968.35,2339.6) rotate(-90)" font-size="13.35" font-weight="bold" text-anchor="end" font-family="'Liberation Sans', Arial, Helvetica, sans-serif">NF1 R1241*</text>
<text transform="translate(988.6,2339.6) rotate(-90)" font-size="13.35" font-weight="bold" text-anchor="end" font-family="'Liberation Sans', Arial, Helvetica, sans-serif">PDGFRA M862R</text>
<text transform="translate(1008.85,2339.6) rotate(-90)" font-size="13.35" font-weight="bold" text-anchor="end" font-family="'Liberation Sans', Arial, Helvetica, sans-serif">NRAS G12D</text>
<text transform="translate(1029.1,2339.6) rotate(-90)" font-size="13.35" font-weight="bold" text-anchor="end" font-family="'Liberation Sans', Arial, Helvetica, sans-serif">JAK2 R683G</text>
<text transform="translate(1049.35,2339.6) rotate(-90)" font-size="13.35" font-weight="bold" text-anchor="end" font-family="'Liberation Sans', Arial, Helvetica, sans-serif">TP53 R273H</text>
<text transform="translate(1069.6,2339.6) rotate(-90)" font-size="13.35" font-weight="bold" text-anchor="end" font-family="'Liberation Sans', Arial, Helvetica, sans-serif">GATA2 W360G</text>
<text transform="translate(1089.85,2339.6) rotate(-90)" font-size="13.35" font-weight="bold" text-anchor="end" font-family="'Liberation Sans', Arial, Helvetica, sans-serif">NRAS Q61P</text>
<text transform="translate(1110.1,2339.6) rotate(-90)" font-size="13.35" font-weight="bold" text-anchor="end" font-family="'Liberation Sans', Arial, Helvetica, sans-serif">PTPN11 T73I</text>
<text transform="translate(1130.35,2339.6) rotate(-90)" font-size="13.35" font-weight="bold" text-anchor="end" font-family="'Liberation Sans', Arial, Helvetica, sans-serif">KRAS G12D</text>
<text transform="translate(1150.6,2339.6) rotate(-90)" font-size="13.35" font-weight="bold" text-anchor="end" font-family="'Liberation Sans', Arial, Helvetica, sans-serif">NF1 V1371_E31splice</text>
<text transform="translate(1170.85,2339.6) rotate(-90)" font-size="13.35" font-weight="bold" text-anchor="end" font-family="'Liberation Sans', Arial, Helvetica, sans-serif">IKZF1 R511*</text>
<text transform="translate(1191.1,2339.6) rotate(-90)" font-size="13.35" font-weight="bold" text-anchor="end" font-family="'Liberation Sans', Arial, Helvetica, sans-serif">IKZF1 *520Q</text>
<text transform="translate(1211.35,2339.6) rotate(-90)" font-size="13.35" font-weight="bold" text-anchor="end" font-family="'Liberation Sans', Arial, Helvetica, sans-serif">CBL R420Q</text>
<text transform="translate(1231.6,2339.6) rotate(-90)" font-size="13.35" font-weight="bold" text-anchor="end" font-family="'Liberation Sans', Arial, Helvetica, sans-serif">RUNX1 Y287*</text>
<text transform="translate(1251.85,2339.6) rotate(-90)" font-size="13.35" font-weight="bold" text-anchor="end" font-family="'Liberation Sans', Arial, Helvetica, sans-serif">TP53 R248Q</text>
<text transform="translate(1272.1,2339.6) rotate(-90)" font-size="13.35" font-weight="bold" text-anchor="end" font-family="'Liberation Sans', Arial, Helvetica, sans-serif">TP53 K139*</text>
<text transform="translate(1292.35,2339.6) rotate(-90)" font-size="13.35" font-weight="bold" text-anchor="end" font-family="'Liberation Sans', Arial, Helvetica, sans-serif">NRAS Q61H</text>
<text transform="translate(1312.6,2339.6) rotate(-90)" font-size="13.35" font-weight="bold" text-anchor="end" font-family="'Liberation Sans', Arial, Helvetica, sans-serif">NRAS Q61R</text>
<text transform="translate(1332.85,2339.6) rotate(-90)" font-size="13.35" font-weight="bold" text-anchor="end" font-family="'Liberation Sans', Arial, Helvetica, sans-serif">EZH2 D672_E17splice_region</text>
<text transform="translate(1353.1,2339.6) rotate(-90)" font-size="13.35" font-weight="bold" text-anchor="end" font-family="'Liberation Sans', Arial, Helvetica, sans-serif">KRAS G13D</text>
<text transform="translate(1373.35,2339.6) rotate(-90)" font-size="13.35" font-weight="bold" text-anchor="end" font-family="'Liberation Sans', Arial, Helvetica, sans-serif">RUNX1 R201Q</text>
<text transform="translate(1393.6,2339.6) rotate(-90)" font-size="13.35" font-weight="bold" text-anchor="end" font-family="'Liberation Sans', Arial, Helvetica, sans-serif">RUNX1 A134T</text>
<text transform="translate(1413.85,2339.6) rotate(-90)" font-size="13.35" font-weight="bold" text-anchor="end" font-family="'Liberation Sans', Arial, Helvetica, sans-serif">KRAS Q61H</text>
<text transform="translate(1434.1,2339.6) rotate(-90)" font-size="13.35" font-weight="bold" text-anchor="end" font-family="'Liberation Sans', Arial, Helvetica, sans-serif">KRAS G12D</text>
<line x1="1514.1" y1="1577.4" x2="1514.1" y2="1789.5" stroke="#333" stroke-width="1.3"/>
<line x1="1506.1" y1="1578" x2="1514.1" y2="1578" stroke="#333" stroke-width="1.3"/>
<text x="1503" y="1584.1" font-size="17.7" text-anchor="end" font-family="'Liberation Sans', Arial, Helvetica, sans-serif">200</text>
<line x1="1506.1" y1="1630.88" x2="1514.1" y2="1630.88" stroke="#333" stroke-width="1.3"/>
<text x="1503" y="1636.97" font-size="17.7" text-anchor="end" font-family="'Liberation Sans', Arial, Helvetica, sans-serif">150</text>
<line x1="1506.1" y1="1683.75" x2="1514.1" y2="1683.75" stroke="#333" stroke-width="1.3"/>
<text x="1503" y="1689.85" font-size="17.7" text-anchor="end" font-family="'Liberation Sans', Arial, Helvetica, sans-serif">100</text>
<line x1="1506.1" y1="1736.62" x2="1514.1" y2="1736.62" stroke="#333" stroke-width="1.3"/>
<text x="1503" y="1742.72" font-size="17.7" text-anchor="end" font-family="'Liberation Sans', Arial, Helvetica, sans-serif">50</text>
<line x1="1506.1" y1="1789.5" x2="1514.1" y2="1789.5" stroke="#333" stroke-width="1.3"/>
<text x="1503" y="1795.6" font-size="17.7" text-anchor="end" font-family="'Liberation Sans', Arial, Helvetica, sans-serif">0</text>
<rect x="1522.1" y="1786.86" width="24.2" height="2.64" fill="#a6a6a6"/>
<rect x="1522.1" y="1698.03" width="24.2" height="88.83" fill="#d12227"/>
<rect x="1522.1" y="1674.23" width="24.2" height="23.79" fill="#ad2224"/>
<line x1="1522.1" y1="1786.86" x2="1546.3" y2="1786.86" stroke="#8c8c8c" stroke-width="0.9"/>
<line x1="1522.1" y1="1698.03" x2="1546.3" y2="1698.03" stroke="#8c8c8c" stroke-width="0.9"/>
<rect x="1522.1" y="1674.23" width="24.2" height="115.27" fill="none" stroke="#8c8c8c" stroke-width="1"/>
<rect x="1551.6" y="1768.88" width="24.2" height="20.62" fill="#e0e0e0"/>
<rect x="1551.6" y="1671.06" width="24.2" height="97.82" fill="#d12227"/>
<rect x="1551.6" y="1630.88" width="24.2" height="40.19" fill="#ad2224"/>
<line x1="1551.6" y1="1768.88" x2="1575.8" y2="1768.88" stroke="#8c8c8c" stroke-width="0.9"/>
<line x1="1551.6" y1="1671.06" x2="1575.8" y2="1671.06" stroke="#8c8c8c" stroke-width="0.9"/>
<rect x="1551.6" y="1630.88" width="24.2" height="158.62" fill="none" stroke="#8c8c8c" stroke-width="1"/>
<rect x="1580.7" y="1736.62" width="24.2" height="52.88" fill="#6366ae"/>
<rect x="1580.7" y="1736.62" width="24.2" height="52.88" fill="none" stroke="#8c8c8c" stroke-width="1"/>
<line x1="1514.1" y1="1828" x2="1514.1" y2="2006.4" stroke="#333" stroke-width="1.3"/>
<line x1="1506.1" y1="1828.6" x2="1514.1" y2="1828.6" stroke="#333" stroke-width="1.3"/>
<text x="1503" y="1834.7" font-size="17.7" text-anchor="end" font-family="'Liberation Sans', Arial, Helvetica, sans-serif">1.0</text>
<line x1="1506.1" y1="1864.16" x2="1514.1" y2="1864.16" stroke="#333" stroke-width="1.3"/>
<text x="1503" y="1870.26" font-size="17.7" text-anchor="end" font-family="'Liberation Sans', Arial, Helvetica, sans-serif">0.8</text>
<line x1="1506.1" y1="1899.72" x2="1514.1" y2="1899.72" stroke="#333" stroke-width="1.3"/>
<text x="1503" y="1905.82" font-size="17.7" text-anchor="end" font-family="'Liberation Sans', Arial, Helvetica, sans-serif">0.6</text>
<line x1="1506.1" y1="1935.28" x2="1514.1" y2="1935.28" stroke="#333" stroke-width="1.3"/>
<text x="1503" y="1941.38" font-size="17.7" text-anchor="end" font-family="'Liberation Sans', Arial, Helvetica, sans-serif">0.4</text>
<line x1="1506.1" y1="1970.84" x2="1514.1" y2="1970.84" stroke="#333" stroke-width="1.3"/>
<text x="1503" y="1976.94" font-size="17.7" text-anchor="end" font-family="'Liberation Sans', Arial, Helvetica, sans-serif">0.2</text>
<line x1="1506.1" y1="2006.4" x2="1514.1" y2="2006.4" stroke="#333" stroke-width="1.3"/>
<text x="1503" y="2012.5" font-size="17.7" text-anchor="end" font-family="'Liberation Sans', Arial, Helvetica, sans-serif">0.0</text>
<rect x="1522.1" y="2002.84" width="24.2" height="3.56" fill="#a6a6a6"/>
<rect x="1522.1" y="1865.94" width="24.2" height="136.91" fill="#d12227"/>
<rect x="1522.1" y="1828.6" width="24.2" height="37.34" fill="#ad2224"/>
<line x1="1522.1" y1="2002.84" x2="1546.3" y2="2002.84" stroke="#8c8c8c" stroke-width="0.9"/>
<line x1="1522.1" y1="1865.94" x2="1546.3" y2="1865.94" stroke="#8c8c8c" stroke-width="0.9"/>
<rect x="1522.1" y="1828.6" width="24.2" height="177.8" fill="none" stroke="#8c8c8c" stroke-width="1"/>
<rect x="1551.6" y="1982.57" width="24.2" height="23.83" fill="#e0e0e0"/>
<rect x="1551.6" y="1873.23" width="24.2" height="109.35" fill="#d12227"/>
<rect x="1551.6" y="1828.6" width="24.2" height="44.63" fill="#ad2224"/>
<line x1="1551.6" y1="1982.57" x2="1575.8" y2="1982.57" stroke="#8c8c8c" stroke-width="0.9"/>
<line x1="1551.6" y1="1873.23" x2="1575.8" y2="1873.23" stroke="#8c8c8c" stroke-width="0.9"/>
<rect x="1551.6" y="1828.6" width="24.2" height="177.8" fill="none" stroke="#8c8c8c" stroke-width="1"/>
<rect x="1580.7" y="1828.6" width="24.2" height="177.8" fill="#6366ae"/>
<rect x="1580.7" y="1828.6" width="24.2" height="177.8" fill="none" stroke="#8c8c8c" stroke-width="1"/>
<text transform="translate(1538.6,2015.3) rotate(-90)" font-size="16.5" font-weight="bold" text-anchor="end" font-family="'Liberation Sans', Arial, Helvetica, sans-serif">SJ043076</text>
<text transform="translate(1568.1,2015.3) rotate(-90)" font-size="16.5" font-weight="bold" text-anchor="end" font-family="'Liberation Sans', Arial, Helvetica, sans-serif">SJ016473</text>
<text transform="translate(1597.2,2015.3) rotate(-90)" font-size="16.5" font-weight="bold" text-anchor="end" font-family="'Liberation Sans', Arial, Helvetica, sans-serif">SJ016511</text>
<line x1="1513.7" y1="2096.9" x2="1658.6" y2="2096.9" stroke="#000" stroke-width="1.6"/>
<polygon points="1528.5,2097.9 1539,2097.9 1534.8,2134.6 1516.9,2134.6" fill="#e8dada"/>
<polygon points="1556.9,2097.9 1571.6,2097.9 1613.8,2134.6 1539,2134.6" fill="#e8dada"/>
<polygon points="1591.6,2097.9 1604.3,2097.9 1654.8,2134.6 1615.9,2134.6" fill="#e8dada"/>
<line x1="1513.7" y1="2135.4" x2="1659" y2="2135.4" stroke="#222" stroke-width="1.6"/>
<line x1="1509.5" y1="2137.8" x2="1509.5" y2="2317.6" stroke="#333" stroke-width="1.3"/>
<line x1="1501.5" y1="2138.4" x2="1509.5" y2="2138.4" stroke="#333" stroke-width="1.3"/>
<text x="1500.5" y="2144.5" font-size="17.7" text-anchor="end" font-family="'Liberation Sans', Arial, Helvetica, sans-serif">1.0</text>
<line x1="1501.5" y1="2174.24" x2="1509.5" y2="2174.24" stroke="#333" stroke-width="1.3"/>
<text x="1500.5" y="2180.34" font-size="17.7" text-anchor="end" font-family="'Liberation Sans', Arial, Helvetica, sans-serif">0.8</text>
<line x1="1501.5" y1="2210.08" x2="1509.5" y2="2210.08" stroke="#333" stroke-width="1.3"/>
<text x="1500.5" y="2216.18" font-size="17.7" text-anchor="end" font-family="'Liberation Sans', Arial, Helvetica, sans-serif">0.6</text>
<line x1="1501.5" y1="2245.92" x2="1509.5" y2="2245.92" stroke="#333" stroke-width="1.3"/>
<text x="1500.5" y="2252.02" font-size="17.7" text-anchor="end" font-family="'Liberation Sans', Arial, Helvetica, sans-serif">0.4</text>
<line x1="1501.5" y1="2281.76" x2="1509.5" y2="2281.76" stroke="#333" stroke-width="1.3"/>
<text x="1500.5" y="2287.86" font-size="17.7" text-anchor="end" font-family="'Liberation Sans', Arial, Helvetica, sans-serif">0.2</text>
<line x1="1501.5" y1="2317.6" x2="1509.5" y2="2317.6" stroke="#333" stroke-width="1.3"/>
<text x="1500.5" y="2323.7" font-size="17.7" text-anchor="end" font-family="'Liberation Sans', Arial, Helvetica, sans-serif">0.0</text>
<rect x="1516.9" y="2245.92" width="16.8" height="71.68" fill="#ad2224"/>
<rect x="1516.9" y="2140.19" width="16.8" height="105.73" fill="#d12227"/>
<rect x="1516.9" y="2138.4" width="16.8" height="1.79" fill="#a6a6a6"/>
<line x1="1516.9" y1="2245.92" x2="1533.7" y2="2245.92" stroke="#8c8c8c" stroke-width="0.9"/>
<line x1="1516.9" y1="2140.19" x2="1533.7" y2="2140.19" stroke="#8c8c8c" stroke-width="0.9"/>
<rect x="1516.9" y="2138.4" width="16.8" height="179.2" fill="none" stroke="#8c8c8c" stroke-width="1"/>
<rect x="1537.18" y="2296.1" width="16.8" height="21.5" fill="#ad2224"/>
<rect x="1537.18" y="2167.07" width="16.8" height="129.02" fill="#d12227"/>
<rect x="1537.18" y="2138.4" width="16.8" height="28.67" fill="#e0e0e0"/>
<line x1="1537.18" y1="2296.1" x2="1553.98" y2="2296.1" stroke="#8c8c8c" stroke-width="0.9"/>
<line x1="1537.18" y1="2167.07" x2="1553.98" y2="2167.07" stroke="#8c8c8c" stroke-width="0.9"/>
<rect x="1537.18" y="2138.4" width="16.8" height="179.2" fill="none" stroke="#8c8c8c" stroke-width="1"/>
<rect x="1557.46" y="2279.07" width="16.8" height="38.53" fill="#ad2224"/>
<rect x="1557.46" y="2191.26" width="16.8" height="87.81" fill="#d12227"/>
<rect x="1557.46" y="2138.4" width="16.8" height="52.86" fill="#e0e0e0"/>
<line x1="1557.46" y1="2279.07" x2="1574.26" y2="2279.07" stroke="#8c8c8c" stroke-width="0.9"/>
<line x1="1557.46" y1="2191.26" x2="1574.26" y2="2191.26" stroke="#8c8c8c" stroke-width="0.9"/>
<rect x="1557.46" y="2138.4" width="16.8" height="179.2" fill="none" stroke="#8c8c8c" stroke-width="1"/>
<rect x="1577.74" y="2219.94" width="16.8" height="97.66" fill="#ad2224"/>
<rect x="1577.74" y="2142.88" width="16.8" height="77.06" fill="#d12227"/>
<rect x="1577.74" y="2138.4" width="16.8" height="4.48" fill="#e0e0e0"/>
<line x1="1577.74" y1="2219.94" x2="1594.54" y2="2219.94" stroke="#8c8c8c" stroke-width="0.9"/>
<line x1="1577.74" y1="2142.88" x2="1594.54" y2="2142.88" stroke="#8c8c8c" stroke-width="0.9"/>
<rect x="1577.74" y="2138.4" width="16.8" height="179.2" fill="none" stroke="#8c8c8c" stroke-width="1"/>
<rect x="1598.02" y="2294.3" width="16.8" height="23.3" fill="#ad2224"/>
<rect x="1598.02" y="2249.5" width="16.8" height="44.8" fill="#d12227"/>
<rect x="1598.02" y="2193.06" width="16.8" height="56.45" fill="#e0e0e0"/>
<rect x="1598.02" y="2138.4" width="16.8" height="54.66" fill="#a6a6a6"/>
<line x1="1598.02" y1="2294.3" x2="1614.82" y2="2294.3" stroke="#8c8c8c" stroke-width="0.9"/>
<line x1="1598.02" y1="2249.5" x2="1614.82" y2="2249.5" stroke="#8c8c8c" stroke-width="0.9"/>
<line x1="1598.02" y1="2193.06" x2="1614.82" y2="2193.06" stroke="#8c8c8c" stroke-width="0.9"/>
<rect x="1598.02" y="2138.4" width="16.8" height="179.2" fill="none" stroke="#8c8c8c" stroke-width="1"/>
<rect x="1618.3" y="2138.4" width="16.8" height="179.2" fill="#6366ae"/>
<rect x="1618.3" y="2138.4" width="16.8" height="179.2" fill="none" stroke="#8c8c8c" stroke-width="1"/>
<rect x="1638.58" y="2138.4" width="16.8" height="179.2" fill="#6366ae"/>
<rect x="1638.58" y="2138.4" width="16.8" height="179.2" fill="none" stroke="#8c8c8c" stroke-width="1"/>
<rect x="1540" y="2321.8" width="72" height="11" fill="#e8dada"/>
<rect x="1618.4" y="2321.8" width="36.4" height="11" fill="#e8dada"/>
<text transform="translate(1530,2338.7) rotate(-90)" font-size="13.1" font-weight="bold" text-anchor="end" font-family="'Liberation Sans', Arial, Helvetica, sans-serif">TP53 G266V</text>
<text transform="translate(1550.28,2338.7) rotate(-90)" font-size="13.1" font-weight="bold" text-anchor="end" font-family="'Liberation Sans', Arial, Helvetica, sans-serif">PIK3CD E81K</text>
<text transform="translate(1570.56,2338.7) rotate(-90)" font-size="13.1" font-weight="bold" text-anchor="end" font-family="'Liberation Sans', Arial, Helvetica, sans-serif">PTPN11 A72T</text>
<text transform="translate(1590.84,2338.7) rotate(-90)" font-size="13.1" font-weight="bold" text-anchor="end" font-family="'Liberation Sans', Arial, Helvetica, sans-serif">PTPN11 Q510L</text>
<text transform="translate(1611.12,2338.7) rotate(-90)" font-size="13.1" font-weight="bold" text-anchor="end" font-family="'Liberation Sans', Arial, Helvetica, sans-serif">TP53 R273C</text>
<text transform="translate(1631.4,2338.7) rotate(-90)" font-size="13.1" font-weight="bold" text-anchor="end" font-family="'Liberation Sans', Arial, Helvetica, sans-serif">KRAS A18D</text>
<text transform="translate(1651.68,2338.7) rotate(-90)" font-size="13.1" font-weight="bold" text-anchor="end" font-family="'Liberation Sans', Arial, Helvetica, sans-serif">BCORL1 F174L</text>
<text x="1632.7" y="1732.2" font-size="24.2" font-weight="bold" font-family="'Liberation Sans', Arial, Helvetica, sans-serif">Signature</text>
<line x1="1631.6" y1="1735.5" x2="1745.8" y2="1735.5" stroke="#000" stroke-width="2.3"/>
<rect x="1633.2" y="1749.1" width="17.6" height="14.6" fill="#a6a6a6" stroke="#999" stroke-width="1"/>
<text x="1665" y="1762.8" font-size="18.3" font-family="'Liberation Sans', Arial, Helvetica, sans-serif">1 (clock-like)</text>
<rect x="1633.2" y="1770.8" width="17.6" height="14.6" fill="#e0e0e0" stroke="#999" stroke-width="1"/>
<text x="1665" y="1784.5" font-size="18.3" font-family="'Liberation Sans', Arial, Helvetica, sans-serif">5 (clock-like)</text>
<rect x="1633.2" y="1792.9" width="17.6" height="14.6" fill="#ffffff" stroke="#999" stroke-width="1"/>
<text x="1665" y="1806.6" font-size="18.3" font-family="'Liberation Sans', Arial, Helvetica, sans-serif">40 (clock-like)</text>
<rect x="1633.2" y="1834" width="17.6" height="14.6" fill="#f1bc4b" stroke="#999" stroke-width="1"/>
<text x="1665" y="1847.7" font-size="18.3" font-family="'Liberation Sans', Arial, Helvetica, sans-serif">26 (MMR-def)</text>
<rect x="1633.2" y="1880.7" width="17.6" height="14.6" fill="#d12227" stroke="#999" stroke-width="1"/>
<text x="1665" y="1894.4" font-size="18.3" font-family="'Liberation Sans', Arial, Helvetica, sans-serif">31 (cisplatin)</text>
<rect x="1633.2" y="1902.8" width="17.6" height="14.6" fill="#ad2224" stroke="#999" stroke-width="1"/>
<text x="1665" y="1916.5" font-size="18.3" font-family="'Liberation Sans', Arial, Helvetica, sans-serif">35 (cisplatin)</text>
<rect x="1633.2" y="1945.4" width="17.6" height="14.6" fill="#6366ae" stroke="#999" stroke-width="1"/>
<text x="1665" y="1959.1" font-size="18.3" font-family="'Liberation Sans', Arial, Helvetica, sans-serif">Thiopurines</text>
<rect x="1633.2" y="1967.5" width="17.6" height="14.6" fill="#a96aae" stroke="#999" stroke-width="1"/>
<text x="1665" y="1981.2" font-size="18.3" font-family="'Liberation Sans', Arial, Helvetica, sans-serif">Relapse MMR</text>
<line x1="929.7" y1="1789.4" x2="1437.1" y2="1789.4" stroke="#222" stroke-width="1.6"/>
<line x1="929.7" y1="2006.4" x2="1437.1" y2="2006.4" stroke="#222" stroke-width="1.6"/>
<line x1="929.2" y1="2317.8" x2="1442" y2="2317.8" stroke="#222" stroke-width="1.6"/>
<line x1="1504.2" y1="1789.5" x2="1614.8" y2="1789.5" stroke="#222" stroke-width="1.6"/>
<line x1="1504.2" y1="2006.4" x2="1614.8" y2="2006.4" stroke="#222" stroke-width="1.6"/>
<line x1="1502.1" y1="2317.6" x2="1661.1" y2="2317.6" stroke="#222" stroke-width="1.6"/>
</svg>
</body></html>
